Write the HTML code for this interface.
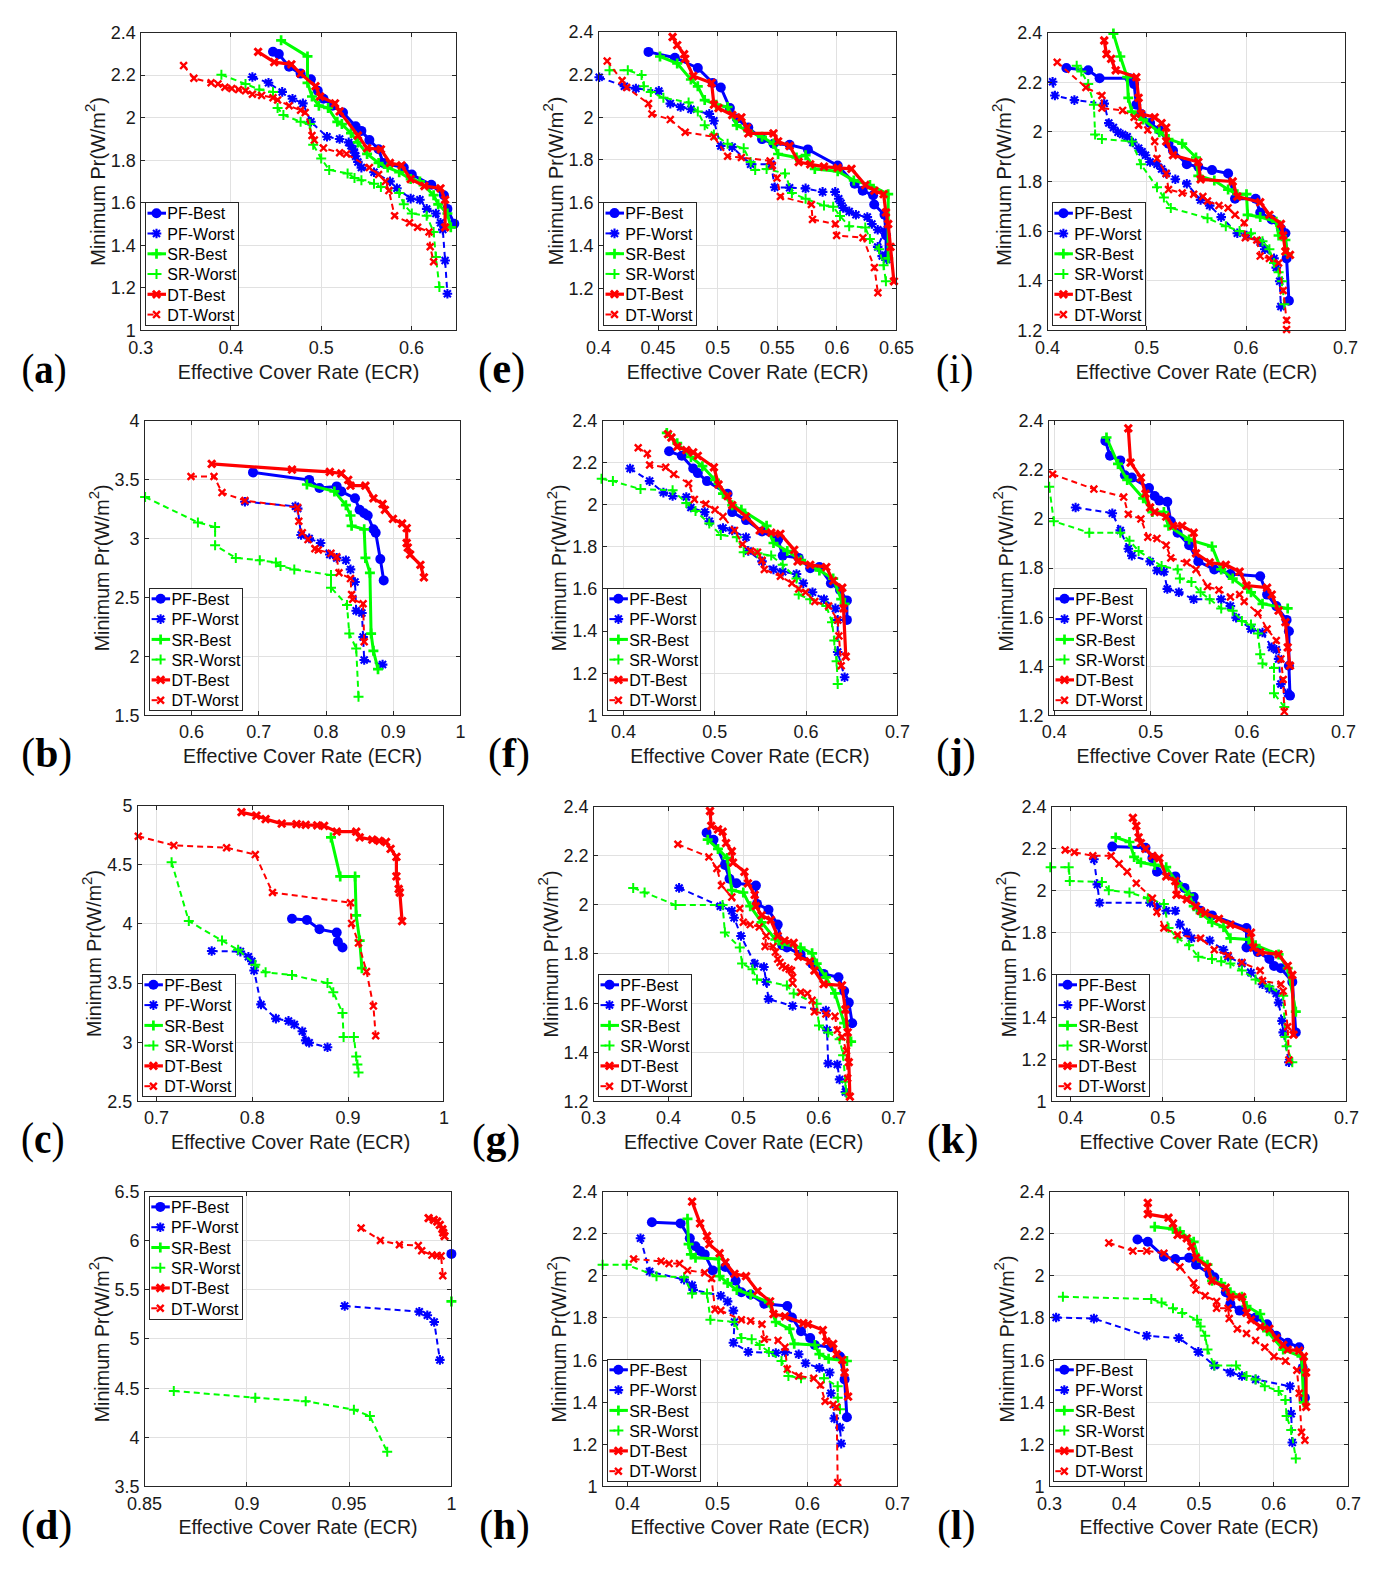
<!DOCTYPE html><html><head><meta charset="utf-8"><style>html,body{margin:0;padding:0;background:#fff;overflow:hidden}svg{display:block}</style></head><body>
<svg width="1395" height="1571" viewBox="0 0 1395 1571" font-family="'Liberation Sans', sans-serif">
<rect width="1395" height="1571" fill="#fff"/>
<path d="M230.5 33V330M321.5 33V330M411.5 33V330M141 287.5H456M141 245.5H456M141 202.5H456M141 160.5H456M141 117.5H456M141 75.5H456" stroke="#e1e1e1" stroke-width="1" fill="none"/>
<clipPath id="clipa"><rect x="134.7" y="26.5" width="327.8" height="309.8"/></clipPath>
<g clip-path="url(#clipa)">
<path d="M273.0 51.8L278.8 54.1L289.1 66.7L300.6 73.6L310.9 79.3L317.8 90.8L323.5 98.8L332.7 105.7L343.0 112.6L355.6 126.3L361.4 130.9L369.4 140.1L378.6 149.3L383.2 163.0L403.8 167.6L411.8 174.5L431.3 184.8L443.9 195.2L447.4 208.9L454.3 223.8" stroke="#0000ff" stroke-width="3.0" fill="none" stroke-linejoin="round"/>
<circle cx="273.0" cy="51.8" r="5" fill="#0000ff"/>
<circle cx="278.8" cy="54.1" r="5" fill="#0000ff"/>
<circle cx="289.1" cy="66.7" r="5" fill="#0000ff"/>
<circle cx="300.6" cy="73.6" r="5" fill="#0000ff"/>
<circle cx="310.9" cy="79.3" r="5" fill="#0000ff"/>
<circle cx="317.8" cy="90.8" r="5" fill="#0000ff"/>
<circle cx="323.5" cy="98.8" r="5" fill="#0000ff"/>
<circle cx="332.7" cy="105.7" r="5" fill="#0000ff"/>
<circle cx="343.0" cy="112.6" r="5" fill="#0000ff"/>
<circle cx="355.6" cy="126.3" r="5" fill="#0000ff"/>
<circle cx="361.4" cy="130.9" r="5" fill="#0000ff"/>
<circle cx="369.4" cy="140.1" r="5" fill="#0000ff"/>
<circle cx="378.6" cy="149.3" r="5" fill="#0000ff"/>
<circle cx="383.2" cy="163.0" r="5" fill="#0000ff"/>
<circle cx="403.8" cy="167.6" r="5" fill="#0000ff"/>
<circle cx="411.8" cy="174.5" r="5" fill="#0000ff"/>
<circle cx="431.3" cy="184.8" r="5" fill="#0000ff"/>
<circle cx="443.9" cy="195.2" r="5" fill="#0000ff"/>
<circle cx="447.4" cy="208.9" r="5" fill="#0000ff"/>
<circle cx="454.3" cy="223.8" r="5" fill="#0000ff"/>
<path d="M252.4 77.0L268.5 82.8L282.2 91.9L292.5 98.8L302.9 103.4L310.9 121.8L327.0 136.7L339.6 139.0L348.7 142.4L351.0 145.8L353.3 149.3L354.5 152.7L355.6 156.2L357.9 161.9L361.4 167.6L374.0 172.2L390.0 181.4L396.9 188.3L410.7 198.6L419.9 199.7L426.7 208.9L435.9 213.5L440.5 222.7L442.8 229.6L445.1 260.5L447.4 293.8" stroke="#0000ff" stroke-width="2.0" fill="none" stroke-linejoin="round" stroke-dasharray="6,4"/>
<path d="M247.6 77.0H257.2M252.4 72.2V81.8M248.9 73.5L255.9 80.5M248.9 80.5L255.9 73.5" stroke="#0000ff" stroke-width="2.1" fill="none"/><circle cx="252.4" cy="77.0" r="2.6" fill="#0000ff"/>
<path d="M263.7 82.8H273.3M268.5 78.0V87.6M265.0 79.3L272.0 86.3M265.0 86.3L272.0 79.3" stroke="#0000ff" stroke-width="2.1" fill="none"/><circle cx="268.5" cy="82.8" r="2.6" fill="#0000ff"/>
<path d="M277.4 91.9H287.0M282.2 87.1V96.7M278.7 88.4L285.7 95.4M278.7 95.4L285.7 88.4" stroke="#0000ff" stroke-width="2.1" fill="none"/><circle cx="282.2" cy="91.9" r="2.6" fill="#0000ff"/>
<path d="M287.7 98.8H297.3M292.5 94.0V103.6M289.0 95.3L296.0 102.3M289.0 102.3L296.0 95.3" stroke="#0000ff" stroke-width="2.1" fill="none"/><circle cx="292.5" cy="98.8" r="2.6" fill="#0000ff"/>
<path d="M298.1 103.4H307.7M302.9 98.6V108.2M299.4 99.9L306.4 106.9M299.4 106.9L306.4 99.9" stroke="#0000ff" stroke-width="2.1" fill="none"/><circle cx="302.9" cy="103.4" r="2.6" fill="#0000ff"/>
<path d="M306.1 121.8H315.7M310.9 117.0V126.6M307.4 118.3L314.4 125.3M307.4 125.3L314.4 118.3" stroke="#0000ff" stroke-width="2.1" fill="none"/><circle cx="310.9" cy="121.8" r="2.6" fill="#0000ff"/>
<path d="M322.2 136.7H331.8M327.0 131.9V141.5M323.5 133.2L330.5 140.2M323.5 140.2L330.5 133.2" stroke="#0000ff" stroke-width="2.1" fill="none"/><circle cx="327.0" cy="136.7" r="2.6" fill="#0000ff"/>
<path d="M334.8 139.0H344.4M339.6 134.2V143.8M336.1 135.5L343.1 142.5M336.1 142.5L343.1 135.5" stroke="#0000ff" stroke-width="2.1" fill="none"/><circle cx="339.6" cy="139.0" r="2.6" fill="#0000ff"/>
<path d="M343.9 142.4H353.5M348.7 137.6V147.2M345.2 138.9L352.2 145.9M345.2 145.9L352.2 138.9" stroke="#0000ff" stroke-width="2.1" fill="none"/><circle cx="348.7" cy="142.4" r="2.6" fill="#0000ff"/>
<path d="M346.2 145.8H355.8M351.0 141.0V150.6M347.5 142.3L354.5 149.3M347.5 149.3L354.5 142.3" stroke="#0000ff" stroke-width="2.1" fill="none"/><circle cx="351.0" cy="145.8" r="2.6" fill="#0000ff"/>
<path d="M348.5 149.3H358.1M353.3 144.5V154.1M349.8 145.8L356.8 152.8M349.8 152.8L356.8 145.8" stroke="#0000ff" stroke-width="2.1" fill="none"/><circle cx="353.3" cy="149.3" r="2.6" fill="#0000ff"/>
<path d="M349.7 152.7H359.3M354.5 147.9V157.5M351.0 149.2L358.0 156.2M351.0 156.2L358.0 149.2" stroke="#0000ff" stroke-width="2.1" fill="none"/><circle cx="354.5" cy="152.7" r="2.6" fill="#0000ff"/>
<path d="M350.8 156.2H360.4M355.6 151.4V161.0M352.1 152.7L359.1 159.7M352.1 159.7L359.1 152.7" stroke="#0000ff" stroke-width="2.1" fill="none"/><circle cx="355.6" cy="156.2" r="2.6" fill="#0000ff"/>
<path d="M353.1 161.9H362.7M357.9 157.1V166.7M354.4 158.4L361.4 165.4M354.4 165.4L361.4 158.4" stroke="#0000ff" stroke-width="2.1" fill="none"/><circle cx="357.9" cy="161.9" r="2.6" fill="#0000ff"/>
<path d="M356.6 167.6H366.2M361.4 162.8V172.4M357.9 164.1L364.9 171.1M357.9 171.1L364.9 164.1" stroke="#0000ff" stroke-width="2.1" fill="none"/><circle cx="361.4" cy="167.6" r="2.6" fill="#0000ff"/>
<path d="M369.2 172.2H378.8M374.0 167.4V177.0M370.5 168.7L377.5 175.7M370.5 175.7L377.5 168.7" stroke="#0000ff" stroke-width="2.1" fill="none"/><circle cx="374.0" cy="172.2" r="2.6" fill="#0000ff"/>
<path d="M385.2 181.4H394.8M390.0 176.6V186.2M386.5 177.9L393.5 184.9M386.5 184.9L393.5 177.9" stroke="#0000ff" stroke-width="2.1" fill="none"/><circle cx="390.0" cy="181.4" r="2.6" fill="#0000ff"/>
<path d="M392.1 188.3H401.7M396.9 183.5V193.1M393.4 184.8L400.4 191.8M393.4 191.8L400.4 184.8" stroke="#0000ff" stroke-width="2.1" fill="none"/><circle cx="396.9" cy="188.3" r="2.6" fill="#0000ff"/>
<path d="M405.9 198.6H415.5M410.7 193.8V203.4M407.2 195.1L414.2 202.1M407.2 202.1L414.2 195.1" stroke="#0000ff" stroke-width="2.1" fill="none"/><circle cx="410.7" cy="198.6" r="2.6" fill="#0000ff"/>
<path d="M415.1 199.7H424.7M419.9 194.9V204.5M416.4 196.2L423.4 203.2M416.4 203.2L423.4 196.2" stroke="#0000ff" stroke-width="2.1" fill="none"/><circle cx="419.9" cy="199.7" r="2.6" fill="#0000ff"/>
<path d="M421.9 208.9H431.5M426.7 204.1V213.7M423.2 205.4L430.2 212.4M423.2 212.4L430.2 205.4" stroke="#0000ff" stroke-width="2.1" fill="none"/><circle cx="426.7" cy="208.9" r="2.6" fill="#0000ff"/>
<path d="M431.1 213.5H440.7M435.9 208.7V218.3M432.4 210.0L439.4 217.0M432.4 217.0L439.4 210.0" stroke="#0000ff" stroke-width="2.1" fill="none"/><circle cx="435.9" cy="213.5" r="2.6" fill="#0000ff"/>
<path d="M435.7 222.7H445.3M440.5 217.9V227.5M437.0 219.2L444.0 226.2M437.0 226.2L444.0 219.2" stroke="#0000ff" stroke-width="2.1" fill="none"/><circle cx="440.5" cy="222.7" r="2.6" fill="#0000ff"/>
<path d="M438.0 229.6H447.6M442.8 224.8V234.4M439.3 226.1L446.3 233.1M439.3 233.1L446.3 226.1" stroke="#0000ff" stroke-width="2.1" fill="none"/><circle cx="442.8" cy="229.6" r="2.6" fill="#0000ff"/>
<path d="M440.3 260.5H449.9M445.1 255.7V265.3M441.6 257.0L448.6 264.0M441.6 264.0L448.6 257.0" stroke="#0000ff" stroke-width="2.1" fill="none"/><circle cx="445.1" cy="260.5" r="2.6" fill="#0000ff"/>
<path d="M442.6 293.8H452.2M447.4 289.0V298.6M443.9 290.3L450.9 297.3M443.9 297.3L450.9 290.3" stroke="#0000ff" stroke-width="2.1" fill="none"/><circle cx="447.4" cy="293.8" r="2.6" fill="#0000ff"/>
<path d="M281.1 40.3L307.5 56.4L307.5 82.8L312.0 96.5L318.9 105.7L328.1 108.0L337.3 121.8L341.9 124.1L351.0 133.2L357.9 142.4L367.1 153.9L378.6 163.0L387.7 167.6L399.2 172.2L410.7 179.1L419.9 181.4L433.6 195.2L438.2 204.3L447.4 213.5L450.8 227.3" stroke="#00ff00" stroke-width="3.0" fill="none" stroke-linejoin="round"/>
<path d="M276.1 40.3H286.1M281.1 35.3V45.3" stroke="#00ff00" stroke-width="2.7" fill="none"/>
<path d="M302.5 56.4H312.5M307.5 51.4V61.4" stroke="#00ff00" stroke-width="2.7" fill="none"/>
<path d="M302.5 82.8H312.5M307.5 77.8V87.8" stroke="#00ff00" stroke-width="2.7" fill="none"/>
<path d="M307.0 96.5H317.0M312.0 91.5V101.5" stroke="#00ff00" stroke-width="2.7" fill="none"/>
<path d="M313.9 105.7H323.9M318.9 100.7V110.7" stroke="#00ff00" stroke-width="2.7" fill="none"/>
<path d="M323.1 108.0H333.1M328.1 103.0V113.0" stroke="#00ff00" stroke-width="2.7" fill="none"/>
<path d="M332.3 121.8H342.3M337.3 116.8V126.8" stroke="#00ff00" stroke-width="2.7" fill="none"/>
<path d="M336.9 124.1H346.9M341.9 119.1V129.1" stroke="#00ff00" stroke-width="2.7" fill="none"/>
<path d="M346.0 133.2H356.0M351.0 128.2V138.2" stroke="#00ff00" stroke-width="2.7" fill="none"/>
<path d="M352.9 142.4H362.9M357.9 137.4V147.4" stroke="#00ff00" stroke-width="2.7" fill="none"/>
<path d="M362.1 153.9H372.1M367.1 148.9V158.9" stroke="#00ff00" stroke-width="2.7" fill="none"/>
<path d="M373.6 163.0H383.6M378.6 158.0V168.0" stroke="#00ff00" stroke-width="2.7" fill="none"/>
<path d="M382.7 167.6H392.7M387.7 162.6V172.6" stroke="#00ff00" stroke-width="2.7" fill="none"/>
<path d="M394.2 172.2H404.2M399.2 167.2V177.2" stroke="#00ff00" stroke-width="2.7" fill="none"/>
<path d="M405.7 179.1H415.7M410.7 174.1V184.1" stroke="#00ff00" stroke-width="2.7" fill="none"/>
<path d="M414.9 181.4H424.9M419.9 176.4V186.4" stroke="#00ff00" stroke-width="2.7" fill="none"/>
<path d="M428.6 195.2H438.6M433.6 190.2V200.2" stroke="#00ff00" stroke-width="2.7" fill="none"/>
<path d="M433.2 204.3H443.2M438.2 199.3V209.3" stroke="#00ff00" stroke-width="2.7" fill="none"/>
<path d="M442.4 213.5H452.4M447.4 208.5V218.5" stroke="#00ff00" stroke-width="2.7" fill="none"/>
<path d="M445.8 227.3H455.8M450.8 222.3V232.3" stroke="#00ff00" stroke-width="2.7" fill="none"/>
<path d="M221.4 74.7L245.5 83.9L259.3 89.6L273.0 91.9L277.6 108.0L283.4 114.9L300.6 121.8L309.7 124.1L313.2 144.7L321.2 158.5L329.2 169.9L347.6 173.4L354.5 178.0L361.4 180.3L374.0 183.7L380.9 187.1L399.2 192.9L403.8 204.3L411.8 213.5L426.7 215.8L433.6 231.9L435.9 257.1L439.4 286.9" stroke="#00ff00" stroke-width="2.0" fill="none" stroke-linejoin="round" stroke-dasharray="6,4"/>
<path d="M216.4 74.7H226.4M221.4 69.7V79.7" stroke="#00ff00" stroke-width="2.0" fill="none"/>
<path d="M240.5 83.9H250.5M245.5 78.9V88.9" stroke="#00ff00" stroke-width="2.0" fill="none"/>
<path d="M254.3 89.6H264.3M259.3 84.6V94.6" stroke="#00ff00" stroke-width="2.0" fill="none"/>
<path d="M268.0 91.9H278.0M273.0 86.9V96.9" stroke="#00ff00" stroke-width="2.0" fill="none"/>
<path d="M272.6 108.0H282.6M277.6 103.0V113.0" stroke="#00ff00" stroke-width="2.0" fill="none"/>
<path d="M278.4 114.9H288.4M283.4 109.9V119.9" stroke="#00ff00" stroke-width="2.0" fill="none"/>
<path d="M295.6 121.8H305.6M300.6 116.8V126.8" stroke="#00ff00" stroke-width="2.0" fill="none"/>
<path d="M304.7 124.1H314.7M309.7 119.1V129.1" stroke="#00ff00" stroke-width="2.0" fill="none"/>
<path d="M308.2 144.7H318.2M313.2 139.7V149.7" stroke="#00ff00" stroke-width="2.0" fill="none"/>
<path d="M316.2 158.5H326.2M321.2 153.5V163.5" stroke="#00ff00" stroke-width="2.0" fill="none"/>
<path d="M324.2 169.9H334.2M329.2 164.9V174.9" stroke="#00ff00" stroke-width="2.0" fill="none"/>
<path d="M342.6 173.4H352.6M347.6 168.4V178.4" stroke="#00ff00" stroke-width="2.0" fill="none"/>
<path d="M349.5 178.0H359.5M354.5 173.0V183.0" stroke="#00ff00" stroke-width="2.0" fill="none"/>
<path d="M356.4 180.3H366.4M361.4 175.3V185.3" stroke="#00ff00" stroke-width="2.0" fill="none"/>
<path d="M369.0 183.7H379.0M374.0 178.7V188.7" stroke="#00ff00" stroke-width="2.0" fill="none"/>
<path d="M375.9 187.1H385.9M380.9 182.1V192.1" stroke="#00ff00" stroke-width="2.0" fill="none"/>
<path d="M394.2 192.9H404.2M399.2 187.9V197.9" stroke="#00ff00" stroke-width="2.0" fill="none"/>
<path d="M398.8 204.3H408.8M403.8 199.3V209.3" stroke="#00ff00" stroke-width="2.0" fill="none"/>
<path d="M406.8 213.5H416.8M411.8 208.5V218.5" stroke="#00ff00" stroke-width="2.0" fill="none"/>
<path d="M421.7 215.8H431.7M426.7 210.8V220.8" stroke="#00ff00" stroke-width="2.0" fill="none"/>
<path d="M428.6 231.9H438.6M433.6 226.9V236.9" stroke="#00ff00" stroke-width="2.0" fill="none"/>
<path d="M430.9 257.1H440.9M435.9 252.1V262.1" stroke="#00ff00" stroke-width="2.0" fill="none"/>
<path d="M434.4 286.9H444.4M439.4 281.9V291.9" stroke="#00ff00" stroke-width="2.0" fill="none"/>
<path d="M258.1 51.8L274.2 62.1L291.4 64.4L300.6 73.6L315.5 86.2L320.1 96.5L335.0 103.4L339.6 111.4L357.9 135.5L367.1 148.1L380.9 149.3L390.0 163.0L401.5 165.3L410.7 179.1L424.4 186.0L440.5 188.3L445.1 199.7L445.1 227.3" stroke="#ff0000" stroke-width="3.2" fill="none" stroke-linejoin="round"/>
<path d="M254.5 48.2L261.7 55.4M254.5 55.4L261.7 48.2" stroke="#ff0000" stroke-width="3.0" fill="none"/>
<path d="M270.6 58.5L277.8 65.7M270.6 65.7L277.8 58.5" stroke="#ff0000" stroke-width="3.0" fill="none"/>
<path d="M287.8 60.8L295.0 68.0M287.8 68.0L295.0 60.8" stroke="#ff0000" stroke-width="3.0" fill="none"/>
<path d="M297.0 70.0L304.2 77.2M297.0 77.2L304.2 70.0" stroke="#ff0000" stroke-width="3.0" fill="none"/>
<path d="M311.9 82.6L319.1 89.8M311.9 89.8L319.1 82.6" stroke="#ff0000" stroke-width="3.0" fill="none"/>
<path d="M316.5 92.9L323.7 100.1M316.5 100.1L323.7 92.9" stroke="#ff0000" stroke-width="3.0" fill="none"/>
<path d="M331.4 99.8L338.6 107.0M331.4 107.0L338.6 99.8" stroke="#ff0000" stroke-width="3.0" fill="none"/>
<path d="M336.0 107.8L343.2 115.0M336.0 115.0L343.2 107.8" stroke="#ff0000" stroke-width="3.0" fill="none"/>
<path d="M354.3 131.9L361.5 139.1M354.3 139.1L361.5 131.9" stroke="#ff0000" stroke-width="3.0" fill="none"/>
<path d="M363.5 144.5L370.7 151.7M363.5 151.7L370.7 144.5" stroke="#ff0000" stroke-width="3.0" fill="none"/>
<path d="M377.3 145.7L384.5 152.9M377.3 152.9L384.5 145.7" stroke="#ff0000" stroke-width="3.0" fill="none"/>
<path d="M386.4 159.4L393.6 166.6M386.4 166.6L393.6 159.4" stroke="#ff0000" stroke-width="3.0" fill="none"/>
<path d="M397.9 161.7L405.1 168.9M397.9 168.9L405.1 161.7" stroke="#ff0000" stroke-width="3.0" fill="none"/>
<path d="M407.1 175.5L414.3 182.7M407.1 182.7L414.3 175.5" stroke="#ff0000" stroke-width="3.0" fill="none"/>
<path d="M420.8 182.4L428.0 189.6M420.8 189.6L428.0 182.4" stroke="#ff0000" stroke-width="3.0" fill="none"/>
<path d="M436.9 184.7L444.1 191.9M436.9 191.9L444.1 184.7" stroke="#ff0000" stroke-width="3.0" fill="none"/>
<path d="M441.5 196.1L448.7 203.3M441.5 203.3L448.7 196.1" stroke="#ff0000" stroke-width="3.0" fill="none"/>
<path d="M441.5 223.7L448.7 230.9M441.5 230.9L448.7 223.7" stroke="#ff0000" stroke-width="3.0" fill="none"/>
<path d="M183.6 65.6L193.9 78.2L211.1 82.8L218.0 83.9L224.9 87.3L231.8 88.5L238.6 89.6L245.5 90.8L252.4 94.2L261.6 95.4L273.0 97.7L277.6 100.0L289.1 105.7L300.6 110.3L305.2 112.6L312.0 135.5L314.3 140.1L323.5 148.1L339.6 152.7L346.5 153.9L369.4 167.6L378.6 174.5L385.4 181.4L388.9 190.6L394.6 215.8L409.5 222.7L417.6 227.3L429.0 231.9L430.2 246.8L433.6 261.7" stroke="#ff0000" stroke-width="2.0" fill="none" stroke-linejoin="round" stroke-dasharray="6,4"/>
<path d="M180.2 62.2L187.0 69.0M180.2 69.0L187.0 62.2" stroke="#ff0000" stroke-width="2.4" fill="none"/>
<path d="M190.5 74.8L197.3 81.6M190.5 81.6L197.3 74.8" stroke="#ff0000" stroke-width="2.4" fill="none"/>
<path d="M207.7 79.4L214.5 86.2M207.7 86.2L214.5 79.4" stroke="#ff0000" stroke-width="2.4" fill="none"/>
<path d="M214.6 80.5L221.4 87.3M214.6 87.3L221.4 80.5" stroke="#ff0000" stroke-width="2.4" fill="none"/>
<path d="M221.5 83.9L228.3 90.7M221.5 90.7L228.3 83.9" stroke="#ff0000" stroke-width="2.4" fill="none"/>
<path d="M228.4 85.1L235.2 91.9M228.4 91.9L235.2 85.1" stroke="#ff0000" stroke-width="2.4" fill="none"/>
<path d="M235.2 86.2L242.0 93.0M235.2 93.0L242.0 86.2" stroke="#ff0000" stroke-width="2.4" fill="none"/>
<path d="M242.1 87.4L248.9 94.2M242.1 94.2L248.9 87.4" stroke="#ff0000" stroke-width="2.4" fill="none"/>
<path d="M249.0 90.8L255.8 97.6M249.0 97.6L255.8 90.8" stroke="#ff0000" stroke-width="2.4" fill="none"/>
<path d="M258.2 92.0L265.0 98.8M258.2 98.8L265.0 92.0" stroke="#ff0000" stroke-width="2.4" fill="none"/>
<path d="M269.6 94.3L276.4 101.1M269.6 101.1L276.4 94.3" stroke="#ff0000" stroke-width="2.4" fill="none"/>
<path d="M274.2 96.6L281.0 103.4M274.2 103.4L281.0 96.6" stroke="#ff0000" stroke-width="2.4" fill="none"/>
<path d="M285.7 102.3L292.5 109.1M285.7 109.1L292.5 102.3" stroke="#ff0000" stroke-width="2.4" fill="none"/>
<path d="M297.2 106.9L304.0 113.7M297.2 113.7L304.0 106.9" stroke="#ff0000" stroke-width="2.4" fill="none"/>
<path d="M301.8 109.2L308.6 116.0M301.8 116.0L308.6 109.2" stroke="#ff0000" stroke-width="2.4" fill="none"/>
<path d="M308.6 132.1L315.4 138.9M308.6 138.9L315.4 132.1" stroke="#ff0000" stroke-width="2.4" fill="none"/>
<path d="M310.9 136.7L317.7 143.5M310.9 143.5L317.7 136.7" stroke="#ff0000" stroke-width="2.4" fill="none"/>
<path d="M320.1 144.7L326.9 151.5M320.1 151.5L326.9 144.7" stroke="#ff0000" stroke-width="2.4" fill="none"/>
<path d="M336.2 149.3L343.0 156.1M336.2 156.1L343.0 149.3" stroke="#ff0000" stroke-width="2.4" fill="none"/>
<path d="M343.1 150.5L349.9 157.3M343.1 157.3L349.9 150.5" stroke="#ff0000" stroke-width="2.4" fill="none"/>
<path d="M366.0 164.2L372.8 171.0M366.0 171.0L372.8 164.2" stroke="#ff0000" stroke-width="2.4" fill="none"/>
<path d="M375.2 171.1L382.0 177.9M375.2 177.9L382.0 171.1" stroke="#ff0000" stroke-width="2.4" fill="none"/>
<path d="M382.0 178.0L388.8 184.8M382.0 184.8L388.8 178.0" stroke="#ff0000" stroke-width="2.4" fill="none"/>
<path d="M385.5 187.2L392.3 194.0M385.5 194.0L392.3 187.2" stroke="#ff0000" stroke-width="2.4" fill="none"/>
<path d="M391.2 212.4L398.0 219.2M391.2 219.2L398.0 212.4" stroke="#ff0000" stroke-width="2.4" fill="none"/>
<path d="M406.1 219.3L412.9 226.1M406.1 226.1L412.9 219.3" stroke="#ff0000" stroke-width="2.4" fill="none"/>
<path d="M414.2 223.9L421.0 230.7M414.2 230.7L421.0 223.9" stroke="#ff0000" stroke-width="2.4" fill="none"/>
<path d="M425.6 228.5L432.4 235.3M425.6 235.3L432.4 228.5" stroke="#ff0000" stroke-width="2.4" fill="none"/>
<path d="M426.8 243.4L433.6 250.2M426.8 250.2L433.6 243.4" stroke="#ff0000" stroke-width="2.4" fill="none"/>
<path d="M430.2 258.3L437.0 265.1M430.2 265.1L437.0 258.3" stroke="#ff0000" stroke-width="2.4" fill="none"/>
</g>
<path d="M140.5 330V326M140.5 33V37M230.5 330V326M230.5 33V37M321.5 330V326M321.5 33V37M411.5 330V326M411.5 33V37M141 330.5H145M456 330.5H452M141 287.5H145M456 287.5H452M141 245.5H145M456 245.5H452M141 202.5H145M456 202.5H452M141 160.5H145M456 160.5H452M141 117.5H145M456 117.5H452M141 75.5H145M456 75.5H452M141 32.5H145M456 32.5H452" stroke="#262626" stroke-width="1" fill="none"/>
<rect x="140.5" y="32.5" width="316" height="298" stroke="#262626" stroke-width="1" fill="none"/>
<text x="140.7" y="354.0" text-anchor="middle" font-size="18" fill="#1a1a1a">0.3</text>
<text x="230.9" y="354.0" text-anchor="middle" font-size="18" fill="#1a1a1a">0.4</text>
<text x="321.2" y="354.0" text-anchor="middle" font-size="18" fill="#1a1a1a">0.5</text>
<text x="411.4" y="354.0" text-anchor="middle" font-size="18" fill="#1a1a1a">0.6</text>
<text x="135.7" y="336.7" text-anchor="end" font-size="18" fill="#1a1a1a">1</text>
<text x="135.7" y="294.2" text-anchor="end" font-size="18" fill="#1a1a1a">1.2</text>
<text x="135.7" y="251.6" text-anchor="end" font-size="18" fill="#1a1a1a">1.4</text>
<text x="135.7" y="209.1" text-anchor="end" font-size="18" fill="#1a1a1a">1.6</text>
<text x="135.7" y="166.5" text-anchor="end" font-size="18" fill="#1a1a1a">1.8</text>
<text x="135.7" y="124.0" text-anchor="end" font-size="18" fill="#1a1a1a">2</text>
<text x="135.7" y="81.4" text-anchor="end" font-size="18" fill="#1a1a1a">2.2</text>
<text x="135.7" y="38.9" text-anchor="end" font-size="18" fill="#1a1a1a">2.4</text>
<text x="298.6" y="378.8" text-anchor="middle" font-size="19.8" fill="#1a1a1a">Effective Cover Rate (ECR)</text>
<text transform="translate(104.7,181.4) rotate(-90)" text-anchor="middle" font-size="19.9" fill="#1a1a1a">Minimum Pr(W/m<tspan font-size="15" dy="-9.5">2</tspan><tspan dy="9.5">)</tspan></text>
<rect x="145.5" y="202.5" width="93" height="123" fill="#fff" stroke="#262626" stroke-width="1"/>
<path d="M147.5 213.2H166.0" stroke="#0000ff" stroke-width="3.0"/>
<circle cx="156.5" cy="213.2" r="5" fill="#0000ff"/>
<text x="167.3" y="219.4" font-size="16" fill="#000">PF-Best</text>
<path d="M147.5 233.5H153.5" stroke="#0000ff" stroke-width="2.0"/>
<path d="M151.7 233.5H161.3M156.5 228.7V238.3M153.0 230.0L160.0 237.0M153.0 237.0L160.0 230.0" stroke="#0000ff" stroke-width="2.1" fill="none"/><circle cx="156.5" cy="233.5" r="2.6" fill="#0000ff"/>
<text x="167.3" y="239.7" font-size="16" fill="#000">PF-Worst</text>
<path d="M147.5 253.8H166.0" stroke="#00ff00" stroke-width="3.0"/>
<path d="M151.5 253.8H161.5M156.5 248.8V258.8" stroke="#00ff00" stroke-width="2.7" fill="none"/>
<text x="167.3" y="260.0" font-size="16" fill="#000">SR-Best</text>
<path d="M147.5 274.0H153.5" stroke="#00ff00" stroke-width="2.0"/>
<path d="M151.5 274.0H161.5M156.5 269.0V279.0" stroke="#00ff00" stroke-width="2.0" fill="none"/>
<text x="167.3" y="280.2" font-size="16" fill="#000">SR-Worst</text>
<path d="M147.5 294.3H166.0" stroke="#ff0000" stroke-width="3.2"/>
<path d="M152.9 290.7L160.1 297.9M152.9 297.9L160.1 290.7" stroke="#ff0000" stroke-width="3.0" fill="none"/>
<text x="167.3" y="300.5" font-size="16" fill="#000">DT-Best</text>
<path d="M147.5 314.6H153.5" stroke="#ff0000" stroke-width="2.0"/>
<path d="M153.1 311.2L159.9 318.0M153.1 318.0L159.9 311.2" stroke="#ff0000" stroke-width="2.4" fill="none"/>
<text x="167.3" y="320.8" font-size="16" fill="#000">DT-Worst</text>
<text transform="translate(21.44,382.96) scale(0.8792,0.9600)" font-family="'Liberation Serif', serif" font-size="44" fill="#000"><tspan>(</tspan><tspan font-weight="bold">a</tspan><tspan>)</tspan></text>
<path d="M191.5 421V715M258.5 421V715M326.5 421V715M393.5 421V715M145 656.5H460M145 597.5H460M145 538.5H460M145 479.5H460" stroke="#e1e1e1" stroke-width="1" fill="none"/>
<clipPath id="clipb"><rect x="138.6" y="414.5" width="327.79999999999995" height="306.79999999999995"/></clipPath>
<g clip-path="url(#clipb)">
<path d="M253.0 472.4L309.2 479.9L319.5 488.0L336.7 486.4L341.3 491.4L355.0 498.3L359.6 509.8L364.2 513.2L367.7 515.5L373.4 529.3L375.7 532.7L380.3 559.1L383.7 580.4" stroke="#0000ff" stroke-width="3.0" fill="none" stroke-linejoin="round"/>
<circle cx="253.0" cy="472.4" r="5" fill="#0000ff"/>
<circle cx="309.2" cy="479.9" r="5" fill="#0000ff"/>
<circle cx="319.5" cy="488.0" r="5" fill="#0000ff"/>
<circle cx="336.7" cy="486.4" r="5" fill="#0000ff"/>
<circle cx="341.3" cy="491.4" r="5" fill="#0000ff"/>
<circle cx="355.0" cy="498.3" r="5" fill="#0000ff"/>
<circle cx="359.6" cy="509.8" r="5" fill="#0000ff"/>
<circle cx="364.2" cy="513.2" r="5" fill="#0000ff"/>
<circle cx="367.7" cy="515.5" r="5" fill="#0000ff"/>
<circle cx="373.4" cy="529.3" r="5" fill="#0000ff"/>
<circle cx="375.7" cy="532.7" r="5" fill="#0000ff"/>
<circle cx="380.3" cy="559.1" r="5" fill="#0000ff"/>
<circle cx="383.7" cy="580.4" r="5" fill="#0000ff"/>
<path d="M244.9 501.7L295.4 506.3L297.7 508.6L301.1 535.0L309.2 538.4L320.6 543.0L329.8 554.5L336.7 557.9L345.9 560.2L350.5 569.4L355.0 582.0L356.2 610.7L361.9 613.0L363.1 637.1L364.2 660.0L382.6 664.6" stroke="#0000ff" stroke-width="2.0" fill="none" stroke-linejoin="round" stroke-dasharray="6,4"/>
<path d="M240.1 501.7H249.7M244.9 496.9V506.5M241.4 498.2L248.4 505.2M241.4 505.2L248.4 498.2" stroke="#0000ff" stroke-width="2.1" fill="none"/><circle cx="244.9" cy="501.7" r="2.6" fill="#0000ff"/>
<path d="M290.6 506.3H300.2M295.4 501.5V511.1M291.9 502.8L298.9 509.8M291.9 509.8L298.9 502.8" stroke="#0000ff" stroke-width="2.1" fill="none"/><circle cx="295.4" cy="506.3" r="2.6" fill="#0000ff"/>
<path d="M292.9 508.6H302.5M297.7 503.8V513.4M294.2 505.1L301.2 512.1M294.2 512.1L301.2 505.1" stroke="#0000ff" stroke-width="2.1" fill="none"/><circle cx="297.7" cy="508.6" r="2.6" fill="#0000ff"/>
<path d="M296.3 535.0H305.9M301.1 530.2V539.8M297.6 531.5L304.6 538.5M297.6 538.5L304.6 531.5" stroke="#0000ff" stroke-width="2.1" fill="none"/><circle cx="301.1" cy="535.0" r="2.6" fill="#0000ff"/>
<path d="M304.4 538.4H314.0M309.2 533.6V543.2M305.7 534.9L312.7 541.9M305.7 541.9L312.7 534.9" stroke="#0000ff" stroke-width="2.1" fill="none"/><circle cx="309.2" cy="538.4" r="2.6" fill="#0000ff"/>
<path d="M315.8 543.0H325.4M320.6 538.2V547.8M317.1 539.5L324.1 546.5M317.1 546.5L324.1 539.5" stroke="#0000ff" stroke-width="2.1" fill="none"/><circle cx="320.6" cy="543.0" r="2.6" fill="#0000ff"/>
<path d="M325.0 554.5H334.6M329.8 549.7V559.3M326.3 551.0L333.3 558.0M326.3 558.0L333.3 551.0" stroke="#0000ff" stroke-width="2.1" fill="none"/><circle cx="329.8" cy="554.5" r="2.6" fill="#0000ff"/>
<path d="M331.9 557.9H341.5M336.7 553.1V562.7M333.2 554.4L340.2 561.4M333.2 561.4L340.2 554.4" stroke="#0000ff" stroke-width="2.1" fill="none"/><circle cx="336.7" cy="557.9" r="2.6" fill="#0000ff"/>
<path d="M341.1 560.2H350.7M345.9 555.4V565.0M342.4 556.7L349.4 563.7M342.4 563.7L349.4 556.7" stroke="#0000ff" stroke-width="2.1" fill="none"/><circle cx="345.9" cy="560.2" r="2.6" fill="#0000ff"/>
<path d="M345.7 569.4H355.3M350.5 564.6V574.2M347.0 565.9L354.0 572.9M347.0 572.9L354.0 565.9" stroke="#0000ff" stroke-width="2.1" fill="none"/><circle cx="350.5" cy="569.4" r="2.6" fill="#0000ff"/>
<path d="M350.2 582.0H359.8M355.0 577.2V586.8M351.5 578.5L358.5 585.5M351.5 585.5L358.5 578.5" stroke="#0000ff" stroke-width="2.1" fill="none"/><circle cx="355.0" cy="582.0" r="2.6" fill="#0000ff"/>
<path d="M351.4 610.7H361.0M356.2 605.9V615.5M352.7 607.2L359.7 614.2M352.7 614.2L359.7 607.2" stroke="#0000ff" stroke-width="2.1" fill="none"/><circle cx="356.2" cy="610.7" r="2.6" fill="#0000ff"/>
<path d="M357.1 613.0H366.7M361.9 608.2V617.8M358.4 609.5L365.4 616.5M358.4 616.5L365.4 609.5" stroke="#0000ff" stroke-width="2.1" fill="none"/><circle cx="361.9" cy="613.0" r="2.6" fill="#0000ff"/>
<path d="M358.3 637.1H367.9M363.1 632.3V641.9M359.6 633.6L366.6 640.6M359.6 640.6L366.6 633.6" stroke="#0000ff" stroke-width="2.1" fill="none"/><circle cx="363.1" cy="637.1" r="2.6" fill="#0000ff"/>
<path d="M359.4 660.0H369.0M364.2 655.2V664.8M360.7 656.5L367.7 663.5M360.7 663.5L367.7 656.5" stroke="#0000ff" stroke-width="2.1" fill="none"/><circle cx="364.2" cy="660.0" r="2.6" fill="#0000ff"/>
<path d="M377.8 664.6H387.4M382.6 659.8V669.4M379.1 661.1L386.1 668.1M379.1 668.1L386.1 661.1" stroke="#0000ff" stroke-width="2.1" fill="none"/><circle cx="382.6" cy="664.6" r="2.6" fill="#0000ff"/>
<path d="M306.9 484.5L334.4 491.4L345.9 505.2L350.5 515.5L351.6 525.8L364.2 529.3L365.4 557.9L369.9 572.8L371.1 633.6L373.4 650.8L378.0 669.2" stroke="#00ff00" stroke-width="3.0" fill="none" stroke-linejoin="round"/>
<path d="M301.9 484.5H311.9M306.9 479.5V489.5" stroke="#00ff00" stroke-width="2.7" fill="none"/>
<path d="M329.4 491.4H339.4M334.4 486.4V496.4" stroke="#00ff00" stroke-width="2.7" fill="none"/>
<path d="M340.9 505.2H350.9M345.9 500.2V510.2" stroke="#00ff00" stroke-width="2.7" fill="none"/>
<path d="M345.5 515.5H355.5M350.5 510.5V520.5" stroke="#00ff00" stroke-width="2.7" fill="none"/>
<path d="M346.6 525.8H356.6M351.6 520.8V530.8" stroke="#00ff00" stroke-width="2.7" fill="none"/>
<path d="M359.2 529.3H369.2M364.2 524.3V534.3" stroke="#00ff00" stroke-width="2.7" fill="none"/>
<path d="M360.4 557.9H370.4M365.4 552.9V562.9" stroke="#00ff00" stroke-width="2.7" fill="none"/>
<path d="M364.9 572.8H374.9M369.9 567.8V577.8" stroke="#00ff00" stroke-width="2.7" fill="none"/>
<path d="M366.1 633.6H376.1M371.1 628.6V638.6" stroke="#00ff00" stroke-width="2.7" fill="none"/>
<path d="M368.4 650.8H378.4M373.4 645.8V655.8" stroke="#00ff00" stroke-width="2.7" fill="none"/>
<path d="M373.0 669.2H383.0M378.0 664.2V674.2" stroke="#00ff00" stroke-width="2.7" fill="none"/>
<path d="M145.1 497.1L197.9 522.4L215.1 527.0L215.1 545.3L235.8 557.9L259.8 560.2L275.9 562.5L280.5 566.0L294.3 569.4L331.0 575.1L331.0 587.7L347.0 605.0L349.3 633.6L356.2 648.5L358.5 696.7" stroke="#00ff00" stroke-width="2.0" fill="none" stroke-linejoin="round" stroke-dasharray="6,4"/>
<path d="M140.1 497.1H150.1M145.1 492.1V502.1" stroke="#00ff00" stroke-width="2.0" fill="none"/>
<path d="M192.9 522.4H202.9M197.9 517.4V527.4" stroke="#00ff00" stroke-width="2.0" fill="none"/>
<path d="M210.1 527.0H220.1M215.1 522.0V532.0" stroke="#00ff00" stroke-width="2.0" fill="none"/>
<path d="M210.1 545.3H220.1M215.1 540.3V550.3" stroke="#00ff00" stroke-width="2.0" fill="none"/>
<path d="M230.8 557.9H240.8M235.8 552.9V562.9" stroke="#00ff00" stroke-width="2.0" fill="none"/>
<path d="M254.8 560.2H264.8M259.8 555.2V565.2" stroke="#00ff00" stroke-width="2.0" fill="none"/>
<path d="M270.9 562.5H280.9M275.9 557.5V567.5" stroke="#00ff00" stroke-width="2.0" fill="none"/>
<path d="M275.5 566.0H285.5M280.5 561.0V571.0" stroke="#00ff00" stroke-width="2.0" fill="none"/>
<path d="M289.3 569.4H299.3M294.3 564.4V574.4" stroke="#00ff00" stroke-width="2.0" fill="none"/>
<path d="M326.0 575.1H336.0M331.0 570.1V580.1" stroke="#00ff00" stroke-width="2.0" fill="none"/>
<path d="M326.0 587.7H336.0M331.0 582.7V592.7" stroke="#00ff00" stroke-width="2.0" fill="none"/>
<path d="M342.0 605.0H352.0M347.0 600.0V610.0" stroke="#00ff00" stroke-width="2.0" fill="none"/>
<path d="M344.3 633.6H354.3M349.3 628.6V638.6" stroke="#00ff00" stroke-width="2.0" fill="none"/>
<path d="M351.2 648.5H361.2M356.2 643.5V653.5" stroke="#00ff00" stroke-width="2.0" fill="none"/>
<path d="M353.5 696.7H363.5M358.5 691.7V701.7" stroke="#00ff00" stroke-width="2.0" fill="none"/>
<path d="M211.7 463.9L292.0 469.6L329.8 471.9L341.3 473.5L348.2 479.9L350.5 485.7L365.4 485.7L373.4 498.3L382.6 504.0L384.9 509.8L392.9 518.9L402.1 523.5L406.7 528.1L406.7 543.0L407.8 547.6L410.1 554.5L420.4 564.8L423.9 577.4" stroke="#ff0000" stroke-width="3.2" fill="none" stroke-linejoin="round"/>
<path d="M208.1 460.3L215.3 467.5M208.1 467.5L215.3 460.3" stroke="#ff0000" stroke-width="3.0" fill="none"/>
<path d="M288.4 466.0L295.6 473.2M288.4 473.2L295.6 466.0" stroke="#ff0000" stroke-width="3.0" fill="none"/>
<path d="M326.2 468.3L333.4 475.5M326.2 475.5L333.4 468.3" stroke="#ff0000" stroke-width="3.0" fill="none"/>
<path d="M337.7 469.9L344.9 477.1M337.7 477.1L344.9 469.9" stroke="#ff0000" stroke-width="3.0" fill="none"/>
<path d="M344.6 476.3L351.8 483.5M344.6 483.5L351.8 476.3" stroke="#ff0000" stroke-width="3.0" fill="none"/>
<path d="M346.9 482.1L354.1 489.3M346.9 489.3L354.1 482.1" stroke="#ff0000" stroke-width="3.0" fill="none"/>
<path d="M361.8 482.1L369.0 489.3M361.8 489.3L369.0 482.1" stroke="#ff0000" stroke-width="3.0" fill="none"/>
<path d="M369.8 494.7L377.0 501.9M369.8 501.9L377.0 494.7" stroke="#ff0000" stroke-width="3.0" fill="none"/>
<path d="M379.0 500.4L386.2 507.6M379.0 507.6L386.2 500.4" stroke="#ff0000" stroke-width="3.0" fill="none"/>
<path d="M381.3 506.2L388.5 513.4M381.3 513.4L388.5 506.2" stroke="#ff0000" stroke-width="3.0" fill="none"/>
<path d="M389.3 515.3L396.5 522.5M389.3 522.5L396.5 515.3" stroke="#ff0000" stroke-width="3.0" fill="none"/>
<path d="M398.5 519.9L405.7 527.1M398.5 527.1L405.7 519.9" stroke="#ff0000" stroke-width="3.0" fill="none"/>
<path d="M403.1 524.5L410.3 531.7M403.1 531.7L410.3 524.5" stroke="#ff0000" stroke-width="3.0" fill="none"/>
<path d="M403.1 539.4L410.3 546.6M403.1 546.6L410.3 539.4" stroke="#ff0000" stroke-width="3.0" fill="none"/>
<path d="M404.2 544.0L411.4 551.2M404.2 551.2L411.4 544.0" stroke="#ff0000" stroke-width="3.0" fill="none"/>
<path d="M406.5 550.9L413.7 558.1M406.5 558.1L413.7 550.9" stroke="#ff0000" stroke-width="3.0" fill="none"/>
<path d="M416.8 561.2L424.0 568.4M416.8 568.4L424.0 561.2" stroke="#ff0000" stroke-width="3.0" fill="none"/>
<path d="M420.3 573.8L427.5 581.0M420.3 581.0L427.5 573.8" stroke="#ff0000" stroke-width="3.0" fill="none"/>
<path d="M191.0 476.5L214.0 476.5L222.0 492.6L244.9 500.6L297.7 507.5L298.8 521.2L302.3 532.7L308.0 539.6L314.9 548.8L318.3 549.9L331.0 553.3L336.7 556.8L339.0 572.8L350.5 578.6L351.6 594.6L352.7 599.2L363.1 603.8L364.2 641.7" stroke="#ff0000" stroke-width="2.0" fill="none" stroke-linejoin="round" stroke-dasharray="6,4"/>
<path d="M187.6 473.1L194.4 479.9M187.6 479.9L194.4 473.1" stroke="#ff0000" stroke-width="2.4" fill="none"/>
<path d="M210.6 473.1L217.4 479.9M210.6 479.9L217.4 473.1" stroke="#ff0000" stroke-width="2.4" fill="none"/>
<path d="M218.6 489.2L225.4 496.0M218.6 496.0L225.4 489.2" stroke="#ff0000" stroke-width="2.4" fill="none"/>
<path d="M241.5 497.2L248.3 504.0M241.5 504.0L248.3 497.2" stroke="#ff0000" stroke-width="2.4" fill="none"/>
<path d="M294.3 504.1L301.1 510.9M294.3 510.9L301.1 504.1" stroke="#ff0000" stroke-width="2.4" fill="none"/>
<path d="M295.4 517.8L302.2 524.6M295.4 524.6L302.2 517.8" stroke="#ff0000" stroke-width="2.4" fill="none"/>
<path d="M298.9 529.3L305.7 536.1M298.9 536.1L305.7 529.3" stroke="#ff0000" stroke-width="2.4" fill="none"/>
<path d="M304.6 536.2L311.4 543.0M304.6 543.0L311.4 536.2" stroke="#ff0000" stroke-width="2.4" fill="none"/>
<path d="M311.5 545.4L318.3 552.2M311.5 552.2L318.3 545.4" stroke="#ff0000" stroke-width="2.4" fill="none"/>
<path d="M314.9 546.5L321.7 553.3M314.9 553.3L321.7 546.5" stroke="#ff0000" stroke-width="2.4" fill="none"/>
<path d="M327.6 549.9L334.4 556.7M327.6 556.7L334.4 549.9" stroke="#ff0000" stroke-width="2.4" fill="none"/>
<path d="M333.3 553.4L340.1 560.2M333.3 560.2L340.1 553.4" stroke="#ff0000" stroke-width="2.4" fill="none"/>
<path d="M335.6 569.4L342.4 576.2M335.6 576.2L342.4 569.4" stroke="#ff0000" stroke-width="2.4" fill="none"/>
<path d="M347.1 575.2L353.9 582.0M347.1 582.0L353.9 575.2" stroke="#ff0000" stroke-width="2.4" fill="none"/>
<path d="M348.2 591.2L355.0 598.0M348.2 598.0L355.0 591.2" stroke="#ff0000" stroke-width="2.4" fill="none"/>
<path d="M349.3 595.8L356.1 602.6M349.3 602.6L356.1 595.8" stroke="#ff0000" stroke-width="2.4" fill="none"/>
<path d="M359.7 600.4L366.5 607.2M359.7 607.2L366.5 600.4" stroke="#ff0000" stroke-width="2.4" fill="none"/>
<path d="M360.8 638.3L367.6 645.1M360.8 645.1L367.6 638.3" stroke="#ff0000" stroke-width="2.4" fill="none"/>
</g>
<path d="M191.5 715V711M191.5 421V425M258.5 715V711M258.5 421V425M326.5 715V711M326.5 421V425M393.5 715V711M393.5 421V425M460.5 715V711M460.5 421V425M145 715.5H149M460 715.5H456M145 656.5H149M460 656.5H456M145 597.5H149M460 597.5H456M145 538.5H149M460 538.5H456M145 479.5H149M460 479.5H456M145 420.5H149M460 420.5H456" stroke="#262626" stroke-width="1" fill="none"/>
<rect x="144.5" y="420.5" width="316" height="295" stroke="#262626" stroke-width="1" fill="none"/>
<text x="191.6" y="737.9" text-anchor="middle" font-size="18" fill="#1a1a1a">0.6</text>
<text x="258.8" y="737.9" text-anchor="middle" font-size="18" fill="#1a1a1a">0.7</text>
<text x="326.0" y="737.9" text-anchor="middle" font-size="18" fill="#1a1a1a">0.8</text>
<text x="393.2" y="737.9" text-anchor="middle" font-size="18" fill="#1a1a1a">0.9</text>
<text x="460.4" y="737.9" text-anchor="middle" font-size="18" fill="#1a1a1a">1</text>
<text x="139.6" y="721.7" text-anchor="end" font-size="18" fill="#1a1a1a">1.5</text>
<text x="139.6" y="662.7" text-anchor="end" font-size="18" fill="#1a1a1a">2</text>
<text x="139.6" y="603.8" text-anchor="end" font-size="18" fill="#1a1a1a">2.5</text>
<text x="139.6" y="544.8" text-anchor="end" font-size="18" fill="#1a1a1a">3</text>
<text x="139.6" y="485.9" text-anchor="end" font-size="18" fill="#1a1a1a">3.5</text>
<text x="139.6" y="426.9" text-anchor="end" font-size="18" fill="#1a1a1a">4</text>
<text x="302.5" y="762.7" text-anchor="middle" font-size="19.6" fill="#1a1a1a">Effective Cover Rate (ECR)</text>
<text transform="translate(108.6,567.9) rotate(-90)" text-anchor="middle" font-size="19.7" fill="#1a1a1a">Minimum Pr(W/m<tspan font-size="15" dy="-9.5">2</tspan><tspan dy="9.5">)</tspan></text>
<rect x="149.5" y="588.5" width="93" height="122" fill="#fff" stroke="#262626" stroke-width="1"/>
<path d="M151.6 598.8H170.1" stroke="#0000ff" stroke-width="3.0"/>
<circle cx="160.6" cy="598.8" r="5" fill="#0000ff"/>
<text x="171.4" y="605.0" font-size="16" fill="#000">PF-Best</text>
<path d="M151.6 619.1H157.6" stroke="#0000ff" stroke-width="2.0"/>
<path d="M155.8 619.1H165.4M160.6 614.3V623.9M157.1 615.6L164.1 622.6M157.1 622.6L164.1 615.6" stroke="#0000ff" stroke-width="2.1" fill="none"/><circle cx="160.6" cy="619.1" r="2.6" fill="#0000ff"/>
<text x="171.4" y="625.3" font-size="16" fill="#000">PF-Worst</text>
<path d="M151.6 639.4H170.1" stroke="#00ff00" stroke-width="3.0"/>
<path d="M155.6 639.4H165.6M160.6 634.4V644.4" stroke="#00ff00" stroke-width="2.7" fill="none"/>
<text x="171.4" y="645.6" font-size="16" fill="#000">SR-Best</text>
<path d="M151.6 659.6H157.6" stroke="#00ff00" stroke-width="2.0"/>
<path d="M155.6 659.6H165.6M160.6 654.6V664.6" stroke="#00ff00" stroke-width="2.0" fill="none"/>
<text x="171.4" y="665.8" font-size="16" fill="#000">SR-Worst</text>
<path d="M151.6 679.9H170.1" stroke="#ff0000" stroke-width="3.2"/>
<path d="M157.0 676.3L164.2 683.5M157.0 683.5L164.2 676.3" stroke="#ff0000" stroke-width="3.0" fill="none"/>
<text x="171.4" y="686.1" font-size="16" fill="#000">DT-Best</text>
<path d="M151.6 700.2H157.6" stroke="#ff0000" stroke-width="2.0"/>
<path d="M157.2 696.8L164.0 703.6M157.2 703.6L164.0 696.8" stroke="#ff0000" stroke-width="2.4" fill="none"/>
<text x="171.4" y="706.4" font-size="16" fill="#000">DT-Worst</text>
<text transform="translate(21.31,767.19) scale(0.9460,0.9675)" font-family="'Liberation Serif', serif" font-size="44" fill="#000"><tspan>(</tspan><tspan font-weight="bold">b</tspan><tspan>)</tspan></text>
<path d="M156.5 806V1101M252.5 806V1101M348.5 806V1101M138 1042.5H443M138 983.5H443M138 923.5H443M138 864.5H443" stroke="#e1e1e1" stroke-width="1" fill="none"/>
<clipPath id="clipc"><rect x="131.4" y="799.5" width="318.5" height="307.9000000000001"/></clipPath>
<g clip-path="url(#clipc)">
<path d="M292.0 918.8L306.9 920.0L319.5 929.2L336.7 932.6L337.9 941.8L342.5 947.5" stroke="#0000ff" stroke-width="3.0" fill="none" stroke-linejoin="round"/>
<circle cx="292.0" cy="918.8" r="5" fill="#0000ff"/>
<circle cx="306.9" cy="920.0" r="5" fill="#0000ff"/>
<circle cx="319.5" cy="929.2" r="5" fill="#0000ff"/>
<circle cx="336.7" cy="932.6" r="5" fill="#0000ff"/>
<circle cx="337.9" cy="941.8" r="5" fill="#0000ff"/>
<circle cx="342.5" cy="947.5" r="5" fill="#0000ff"/>
<path d="M211.7 951.0L240.4 951.6L248.4 956.7L251.8 961.3L254.1 970.5L261.0 1004.4L275.9 1018.6L288.5 1020.9L294.3 1024.4L302.3 1031.2L305.7 1040.4L309.2 1042.7L327.5 1047.3" stroke="#0000ff" stroke-width="2.0" fill="none" stroke-linejoin="round" stroke-dasharray="6,4"/>
<path d="M206.9 951.0H216.5M211.7 946.2V955.8M208.2 947.5L215.2 954.5M208.2 954.5L215.2 947.5" stroke="#0000ff" stroke-width="2.1" fill="none"/><circle cx="211.7" cy="951.0" r="2.6" fill="#0000ff"/>
<path d="M235.6 951.6H245.2M240.4 946.8V956.4M236.9 948.1L243.9 955.1M236.9 955.1L243.9 948.1" stroke="#0000ff" stroke-width="2.1" fill="none"/><circle cx="240.4" cy="951.6" r="2.6" fill="#0000ff"/>
<path d="M243.6 956.7H253.2M248.4 951.9V961.5M244.9 953.2L251.9 960.2M244.9 960.2L251.9 953.2" stroke="#0000ff" stroke-width="2.1" fill="none"/><circle cx="248.4" cy="956.7" r="2.6" fill="#0000ff"/>
<path d="M247.0 961.3H256.6M251.8 956.5V966.1M248.3 957.8L255.3 964.8M248.3 964.8L255.3 957.8" stroke="#0000ff" stroke-width="2.1" fill="none"/><circle cx="251.8" cy="961.3" r="2.6" fill="#0000ff"/>
<path d="M249.3 970.5H258.9M254.1 965.7V975.3M250.6 967.0L257.6 974.0M250.6 974.0L257.6 967.0" stroke="#0000ff" stroke-width="2.1" fill="none"/><circle cx="254.1" cy="970.5" r="2.6" fill="#0000ff"/>
<path d="M256.2 1004.4H265.8M261.0 999.6V1009.2M257.5 1000.9L264.5 1007.9M257.5 1007.9L264.5 1000.9" stroke="#0000ff" stroke-width="2.1" fill="none"/><circle cx="261.0" cy="1004.4" r="2.6" fill="#0000ff"/>
<path d="M271.1 1018.6H280.7M275.9 1013.8V1023.4M272.4 1015.1L279.4 1022.1M272.4 1022.1L279.4 1015.1" stroke="#0000ff" stroke-width="2.1" fill="none"/><circle cx="275.9" cy="1018.6" r="2.6" fill="#0000ff"/>
<path d="M283.7 1020.9H293.3M288.5 1016.1V1025.7M285.0 1017.4L292.0 1024.4M285.0 1024.4L292.0 1017.4" stroke="#0000ff" stroke-width="2.1" fill="none"/><circle cx="288.5" cy="1020.9" r="2.6" fill="#0000ff"/>
<path d="M289.5 1024.4H299.1M294.3 1019.6V1029.2M290.8 1020.9L297.8 1027.9M290.8 1027.9L297.8 1020.9" stroke="#0000ff" stroke-width="2.1" fill="none"/><circle cx="294.3" cy="1024.4" r="2.6" fill="#0000ff"/>
<path d="M297.5 1031.2H307.1M302.3 1026.4V1036.0M298.8 1027.7L305.8 1034.7M298.8 1034.7L305.8 1027.7" stroke="#0000ff" stroke-width="2.1" fill="none"/><circle cx="302.3" cy="1031.2" r="2.6" fill="#0000ff"/>
<path d="M300.9 1040.4H310.5M305.7 1035.6V1045.2M302.2 1036.9L309.2 1043.9M302.2 1043.9L309.2 1036.9" stroke="#0000ff" stroke-width="2.1" fill="none"/><circle cx="305.7" cy="1040.4" r="2.6" fill="#0000ff"/>
<path d="M304.4 1042.7H314.0M309.2 1037.9V1047.5M305.7 1039.2L312.7 1046.2M305.7 1046.2L312.7 1039.2" stroke="#0000ff" stroke-width="2.1" fill="none"/><circle cx="309.2" cy="1042.7" r="2.6" fill="#0000ff"/>
<path d="M322.7 1047.3H332.3M327.5 1042.5V1052.1M324.0 1043.8L331.0 1050.8M324.0 1050.8L331.0 1043.8" stroke="#0000ff" stroke-width="2.1" fill="none"/><circle cx="327.5" cy="1047.3" r="2.6" fill="#0000ff"/>
<path d="M331.0 837.4L340.2 876.4L355.1 876.4L356.2 915.4L359.7 940.6L361.9 968.2" stroke="#00ff00" stroke-width="3.0" fill="none" stroke-linejoin="round"/>
<path d="M326.0 837.4H336.0M331.0 832.4V842.4" stroke="#00ff00" stroke-width="2.7" fill="none"/>
<path d="M335.2 876.4H345.2M340.2 871.4V881.4" stroke="#00ff00" stroke-width="2.7" fill="none"/>
<path d="M350.1 876.4H360.1M355.1 871.4V881.4" stroke="#00ff00" stroke-width="2.7" fill="none"/>
<path d="M351.2 915.4H361.2M356.2 910.4V920.4" stroke="#00ff00" stroke-width="2.7" fill="none"/>
<path d="M354.7 940.6H364.7M359.7 935.6V945.6" stroke="#00ff00" stroke-width="2.7" fill="none"/>
<path d="M356.9 968.2H366.9M361.9 963.2V973.2" stroke="#00ff00" stroke-width="2.7" fill="none"/>
<path d="M171.6 862.2L188.8 921.1L222.0 940.6L238.1 949.8L255.3 964.7L265.6 972.3L292.0 975.0L327.5 983.1L333.3 992.2L342.5 1012.9L343.6 1037.0L353.9 1037.0L356.2 1056.5L357.4 1064.5L358.5 1072.5" stroke="#00ff00" stroke-width="2.0" fill="none" stroke-linejoin="round" stroke-dasharray="6,4"/>
<path d="M166.6 862.2H176.6M171.6 857.2V867.2" stroke="#00ff00" stroke-width="2.0" fill="none"/>
<path d="M183.8 921.1H193.8M188.8 916.1V926.1" stroke="#00ff00" stroke-width="2.0" fill="none"/>
<path d="M217.0 940.6H227.0M222.0 935.6V945.6" stroke="#00ff00" stroke-width="2.0" fill="none"/>
<path d="M233.1 949.8H243.1M238.1 944.8V954.8" stroke="#00ff00" stroke-width="2.0" fill="none"/>
<path d="M250.3 964.7H260.3M255.3 959.7V969.7" stroke="#00ff00" stroke-width="2.0" fill="none"/>
<path d="M260.6 972.3H270.6M265.6 967.3V977.3" stroke="#00ff00" stroke-width="2.0" fill="none"/>
<path d="M287.0 975.0H297.0M292.0 970.0V980.0" stroke="#00ff00" stroke-width="2.0" fill="none"/>
<path d="M322.5 983.1H332.5M327.5 978.1V988.1" stroke="#00ff00" stroke-width="2.0" fill="none"/>
<path d="M328.3 992.2H338.3M333.3 987.2V997.2" stroke="#00ff00" stroke-width="2.0" fill="none"/>
<path d="M337.5 1012.9H347.5M342.5 1007.9V1017.9" stroke="#00ff00" stroke-width="2.0" fill="none"/>
<path d="M338.6 1037.0H348.6M343.6 1032.0V1042.0" stroke="#00ff00" stroke-width="2.0" fill="none"/>
<path d="M348.9 1037.0H358.9M353.9 1032.0V1042.0" stroke="#00ff00" stroke-width="2.0" fill="none"/>
<path d="M351.2 1056.5H361.2M356.2 1051.5V1061.5" stroke="#00ff00" stroke-width="2.0" fill="none"/>
<path d="M352.4 1064.5H362.4M357.4 1059.5V1069.5" stroke="#00ff00" stroke-width="2.0" fill="none"/>
<path d="M353.5 1072.5H363.5M358.5 1067.5V1077.5" stroke="#00ff00" stroke-width="2.0" fill="none"/>
<path d="M241.5 812.2L256.4 815.6L265.6 819.1L281.7 823.6L296.6 824.1L305.7 824.8L317.2 825.3L324.1 825.9L336.7 831.7L356.2 831.7L359.7 837.4L372.3 839.7L379.2 840.8L386.0 842.0L390.6 848.9L396.4 856.9L396.4 876.4L398.7 889.0L399.8 892.5L402.1 921.1" stroke="#ff0000" stroke-width="3.2" fill="none" stroke-linejoin="round"/>
<path d="M237.9 808.6L245.1 815.8M237.9 815.8L245.1 808.6" stroke="#ff0000" stroke-width="3.0" fill="none"/>
<path d="M252.8 812.0L260.0 819.2M252.8 819.2L260.0 812.0" stroke="#ff0000" stroke-width="3.0" fill="none"/>
<path d="M262.0 815.5L269.2 822.7M262.0 822.7L269.2 815.5" stroke="#ff0000" stroke-width="3.0" fill="none"/>
<path d="M278.1 820.0L285.3 827.2M278.1 827.2L285.3 820.0" stroke="#ff0000" stroke-width="3.0" fill="none"/>
<path d="M293.0 820.5L300.2 827.7M293.0 827.7L300.2 820.5" stroke="#ff0000" stroke-width="3.0" fill="none"/>
<path d="M302.1 821.2L309.3 828.4M302.1 828.4L309.3 821.2" stroke="#ff0000" stroke-width="3.0" fill="none"/>
<path d="M313.6 821.7L320.8 828.9M313.6 828.9L320.8 821.7" stroke="#ff0000" stroke-width="3.0" fill="none"/>
<path d="M320.5 822.3L327.7 829.5M320.5 829.5L327.7 822.3" stroke="#ff0000" stroke-width="3.0" fill="none"/>
<path d="M333.1 828.1L340.3 835.3M333.1 835.3L340.3 828.1" stroke="#ff0000" stroke-width="3.0" fill="none"/>
<path d="M352.6 828.1L359.8 835.3M352.6 835.3L359.8 828.1" stroke="#ff0000" stroke-width="3.0" fill="none"/>
<path d="M356.1 833.8L363.3 841.0M356.1 841.0L363.3 833.8" stroke="#ff0000" stroke-width="3.0" fill="none"/>
<path d="M368.7 836.1L375.9 843.3M368.7 843.3L375.9 836.1" stroke="#ff0000" stroke-width="3.0" fill="none"/>
<path d="M375.6 837.2L382.8 844.4M375.6 844.4L382.8 837.2" stroke="#ff0000" stroke-width="3.0" fill="none"/>
<path d="M382.4 838.4L389.6 845.6M382.4 845.6L389.6 838.4" stroke="#ff0000" stroke-width="3.0" fill="none"/>
<path d="M387.0 845.3L394.2 852.5M387.0 852.5L394.2 845.3" stroke="#ff0000" stroke-width="3.0" fill="none"/>
<path d="M392.8 853.3L400.0 860.5M392.8 860.5L400.0 853.3" stroke="#ff0000" stroke-width="3.0" fill="none"/>
<path d="M392.8 872.8L400.0 880.0M392.8 880.0L400.0 872.8" stroke="#ff0000" stroke-width="3.0" fill="none"/>
<path d="M395.1 885.4L402.3 892.6M395.1 892.6L402.3 885.4" stroke="#ff0000" stroke-width="3.0" fill="none"/>
<path d="M396.2 888.9L403.4 896.1M396.2 896.1L403.4 888.9" stroke="#ff0000" stroke-width="3.0" fill="none"/>
<path d="M398.5 917.5L405.7 924.7M398.5 924.7L405.7 917.5" stroke="#ff0000" stroke-width="3.0" fill="none"/>
<path d="M138.3 836.3L173.8 845.4L226.6 847.7L255.3 854.6L272.5 892.5L350.5 902.8L351.6 923.4L358.5 942.9L366.5 971.6L373.4 1006.0L375.7 1035.8" stroke="#ff0000" stroke-width="2.0" fill="none" stroke-linejoin="round" stroke-dasharray="6,4"/>
<path d="M134.9 832.9L141.7 839.7M134.9 839.7L141.7 832.9" stroke="#ff0000" stroke-width="2.4" fill="none"/>
<path d="M170.4 842.0L177.2 848.8M170.4 848.8L177.2 842.0" stroke="#ff0000" stroke-width="2.4" fill="none"/>
<path d="M223.2 844.3L230.0 851.1M223.2 851.1L230.0 844.3" stroke="#ff0000" stroke-width="2.4" fill="none"/>
<path d="M251.9 851.2L258.7 858.0M251.9 858.0L258.7 851.2" stroke="#ff0000" stroke-width="2.4" fill="none"/>
<path d="M269.1 889.1L275.9 895.9M269.1 895.9L275.9 889.1" stroke="#ff0000" stroke-width="2.4" fill="none"/>
<path d="M347.1 899.4L353.9 906.2M347.1 906.2L353.9 899.4" stroke="#ff0000" stroke-width="2.4" fill="none"/>
<path d="M348.2 920.0L355.0 926.8M348.2 926.8L355.0 920.0" stroke="#ff0000" stroke-width="2.4" fill="none"/>
<path d="M355.1 939.5L361.9 946.3M355.1 946.3L361.9 939.5" stroke="#ff0000" stroke-width="2.4" fill="none"/>
<path d="M363.1 968.2L369.9 975.0M363.1 975.0L369.9 968.2" stroke="#ff0000" stroke-width="2.4" fill="none"/>
<path d="M370.0 1002.6L376.8 1009.4M370.0 1009.4L376.8 1002.6" stroke="#ff0000" stroke-width="2.4" fill="none"/>
<path d="M372.3 1032.4L379.1 1039.2M372.3 1039.2L379.1 1032.4" stroke="#ff0000" stroke-width="2.4" fill="none"/>
</g>
<path d="M156.5 1101V1097M156.5 806V810M252.5 1101V1097M252.5 806V810M348.5 1101V1097M348.5 806V810M443.5 1101V1097M443.5 806V810M138 1101.5H142M443 1101.5H439M138 1042.5H142M443 1042.5H439M138 983.5H142M443 983.5H439M138 923.5H142M443 923.5H439M138 864.5H142M443 864.5H439M138 805.5H142M443 805.5H439" stroke="#262626" stroke-width="1" fill="none"/>
<rect x="137.5" y="805.5" width="306" height="296" stroke="#262626" stroke-width="1" fill="none"/>
<text x="156.6" y="1124.0" text-anchor="middle" font-size="18" fill="#1a1a1a">0.7</text>
<text x="252.3" y="1124.0" text-anchor="middle" font-size="18" fill="#1a1a1a">0.8</text>
<text x="348.1" y="1124.0" text-anchor="middle" font-size="18" fill="#1a1a1a">0.9</text>
<text x="443.9" y="1124.0" text-anchor="middle" font-size="18" fill="#1a1a1a">1</text>
<text x="132.4" y="1107.8" text-anchor="end" font-size="18" fill="#1a1a1a">2.5</text>
<text x="132.4" y="1048.6" text-anchor="end" font-size="18" fill="#1a1a1a">3</text>
<text x="132.4" y="989.4" text-anchor="end" font-size="18" fill="#1a1a1a">3.5</text>
<text x="132.4" y="930.3" text-anchor="end" font-size="18" fill="#1a1a1a">4</text>
<text x="132.4" y="871.1" text-anchor="end" font-size="18" fill="#1a1a1a">4.5</text>
<text x="132.4" y="811.9" text-anchor="end" font-size="18" fill="#1a1a1a">5</text>
<text x="290.6" y="1148.8" text-anchor="middle" font-size="19.6" fill="#1a1a1a">Effective Cover Rate (ECR)</text>
<text transform="translate(101.4,953.5) rotate(-90)" text-anchor="middle" font-size="19.7" fill="#1a1a1a">Minimum Pr(W/m<tspan font-size="15" dy="-9.5">2</tspan><tspan dy="9.5">)</tspan></text>
<rect x="142.5" y="974.5" width="93" height="122" fill="#fff" stroke="#262626" stroke-width="1"/>
<path d="M144.4 984.8H162.9" stroke="#0000ff" stroke-width="3.0"/>
<circle cx="153.4" cy="984.8" r="5" fill="#0000ff"/>
<text x="164.2" y="991.0" font-size="16" fill="#000">PF-Best</text>
<path d="M144.4 1005.1H150.4" stroke="#0000ff" stroke-width="2.0"/>
<path d="M148.6 1005.1H158.2M153.4 1000.3V1009.9M149.9 1001.6L156.9 1008.6M149.9 1008.6L156.9 1001.6" stroke="#0000ff" stroke-width="2.1" fill="none"/><circle cx="153.4" cy="1005.1" r="2.6" fill="#0000ff"/>
<text x="164.2" y="1011.3" font-size="16" fill="#000">PF-Worst</text>
<path d="M144.4 1025.4H162.9" stroke="#00ff00" stroke-width="3.0"/>
<path d="M148.4 1025.4H158.4M153.4 1020.4V1030.4" stroke="#00ff00" stroke-width="2.7" fill="none"/>
<text x="164.2" y="1031.6" font-size="16" fill="#000">SR-Best</text>
<path d="M144.4 1045.6H150.4" stroke="#00ff00" stroke-width="2.0"/>
<path d="M148.4 1045.6H158.4M153.4 1040.6V1050.6" stroke="#00ff00" stroke-width="2.0" fill="none"/>
<text x="164.2" y="1051.8" font-size="16" fill="#000">SR-Worst</text>
<path d="M144.4 1065.9H162.9" stroke="#ff0000" stroke-width="3.2"/>
<path d="M149.8 1062.3L157.0 1069.5M149.8 1069.5L157.0 1062.3" stroke="#ff0000" stroke-width="3.0" fill="none"/>
<text x="164.2" y="1072.1" font-size="16" fill="#000">DT-Best</text>
<path d="M144.4 1086.2H150.4" stroke="#ff0000" stroke-width="2.0"/>
<path d="M150.0 1082.8L156.8 1089.6M150.0 1089.6L156.8 1082.8" stroke="#ff0000" stroke-width="2.4" fill="none"/>
<text x="164.2" y="1092.4" font-size="16" fill="#000">DT-Worst</text>
<text transform="translate(21.01,1152.87) scale(0.8933,0.9923)" font-family="'Liberation Serif', serif" font-size="44" fill="#000"><tspan>(</tspan><tspan font-weight="bold">c</tspan><tspan>)</tspan></text>
<path d="M246.5 1192V1486M349.5 1192V1486M145 1437.5H451M145 1388.5H451M145 1338.5H451M145 1289.5H451M145 1240.5H451" stroke="#e1e1e1" stroke-width="1" fill="none"/>
<clipPath id="clipd"><rect x="138.6" y="1185.3" width="318.79999999999995" height="307.20000000000005"/></clipPath>
<g clip-path="url(#clipd)">
<path d="M451.4 1253.9" stroke="#0000ff" stroke-width="3.0" fill="none" stroke-linejoin="round"/>
<circle cx="451.4" cy="1253.9" r="5" fill="#0000ff"/>
<path d="M344.7 1306.0L419.3 1311.7L427.3 1315.2L434.2 1322.0L439.9 1359.9" stroke="#0000ff" stroke-width="2.0" fill="none" stroke-linejoin="round" stroke-dasharray="6,4"/>
<path d="M339.9 1306.0H349.5M344.7 1301.2V1310.8M341.2 1302.5L348.2 1309.5M341.2 1309.5L348.2 1302.5" stroke="#0000ff" stroke-width="2.1" fill="none"/><circle cx="344.7" cy="1306.0" r="2.6" fill="#0000ff"/>
<path d="M414.5 1311.7H424.1M419.3 1306.9V1316.5M415.8 1308.2L422.8 1315.2M415.8 1315.2L422.8 1308.2" stroke="#0000ff" stroke-width="2.1" fill="none"/><circle cx="419.3" cy="1311.7" r="2.6" fill="#0000ff"/>
<path d="M422.5 1315.2H432.1M427.3 1310.4V1320.0M423.8 1311.7L430.8 1318.7M423.8 1318.7L430.8 1311.7" stroke="#0000ff" stroke-width="2.1" fill="none"/><circle cx="427.3" cy="1315.2" r="2.6" fill="#0000ff"/>
<path d="M429.4 1322.0H439.0M434.2 1317.2V1326.8M430.7 1318.5L437.7 1325.5M430.7 1325.5L437.7 1318.5" stroke="#0000ff" stroke-width="2.1" fill="none"/><circle cx="434.2" cy="1322.0" r="2.6" fill="#0000ff"/>
<path d="M435.1 1359.9H444.7M439.9 1355.1V1364.7M436.4 1356.4L443.4 1363.4M436.4 1363.4L443.4 1356.4" stroke="#0000ff" stroke-width="2.1" fill="none"/><circle cx="439.9" cy="1359.9" r="2.6" fill="#0000ff"/>
<path d="M451.4 1301.4" stroke="#00ff00" stroke-width="3.0" fill="none" stroke-linejoin="round"/>
<path d="M446.4 1301.4H456.4M451.4 1296.4V1306.4" stroke="#00ff00" stroke-width="2.7" fill="none"/>
<path d="M173.8 1390.9L255.3 1397.7L305.7 1401.2L353.9 1409.7L369.9 1416.1L387.2 1451.7" stroke="#00ff00" stroke-width="2.0" fill="none" stroke-linejoin="round" stroke-dasharray="6,4"/>
<path d="M168.8 1390.9H178.8M173.8 1385.9V1395.9" stroke="#00ff00" stroke-width="2.0" fill="none"/>
<path d="M250.3 1397.7H260.3M255.3 1392.7V1402.7" stroke="#00ff00" stroke-width="2.0" fill="none"/>
<path d="M300.7 1401.2H310.7M305.7 1396.2V1406.2" stroke="#00ff00" stroke-width="2.0" fill="none"/>
<path d="M348.9 1409.7H358.9M353.9 1404.7V1414.7" stroke="#00ff00" stroke-width="2.0" fill="none"/>
<path d="M364.9 1416.1H374.9M369.9 1411.1V1421.1" stroke="#00ff00" stroke-width="2.0" fill="none"/>
<path d="M382.2 1451.7H392.2M387.2 1446.7V1456.7" stroke="#00ff00" stroke-width="2.0" fill="none"/>
<path d="M428.6 1218.1L433.8 1219.8L437.2 1221.5L439.8 1224.9L442.4 1229.2L443.2 1232.7L444.5 1236.1" stroke="#ff0000" stroke-width="3.2" fill="none" stroke-linejoin="round"/>
<path d="M425.0 1214.5L432.2 1221.7M425.0 1221.7L432.2 1214.5" stroke="#ff0000" stroke-width="3.0" fill="none"/>
<path d="M430.2 1216.2L437.4 1223.4M430.2 1223.4L437.4 1216.2" stroke="#ff0000" stroke-width="3.0" fill="none"/>
<path d="M433.6 1217.9L440.8 1225.1M433.6 1225.1L440.8 1217.9" stroke="#ff0000" stroke-width="3.0" fill="none"/>
<path d="M436.2 1221.3L443.4 1228.5M436.2 1228.5L443.4 1221.3" stroke="#ff0000" stroke-width="3.0" fill="none"/>
<path d="M438.8 1225.6L446.0 1232.8M438.8 1232.8L446.0 1225.6" stroke="#ff0000" stroke-width="3.0" fill="none"/>
<path d="M439.6 1229.1L446.8 1236.3M439.6 1236.3L446.8 1229.1" stroke="#ff0000" stroke-width="3.0" fill="none"/>
<path d="M440.9 1232.5L448.1 1239.7M440.9 1239.7L448.1 1232.5" stroke="#ff0000" stroke-width="3.0" fill="none"/>
<path d="M361.1 1228.0L380.4 1240.4L399.4 1244.7L418.3 1245.6L421.7 1250.8L432.0 1255.1L437.2 1255.5L441.1 1255.9L442.8 1275.7" stroke="#ff0000" stroke-width="2.0" fill="none" stroke-linejoin="round" stroke-dasharray="6,4"/>
<path d="M357.7 1224.6L364.5 1231.4M357.7 1231.4L364.5 1224.6" stroke="#ff0000" stroke-width="2.4" fill="none"/>
<path d="M377.0 1237.0L383.8 1243.8M377.0 1243.8L383.8 1237.0" stroke="#ff0000" stroke-width="2.4" fill="none"/>
<path d="M396.0 1241.3L402.8 1248.1M396.0 1248.1L402.8 1241.3" stroke="#ff0000" stroke-width="2.4" fill="none"/>
<path d="M414.9 1242.2L421.7 1249.0M414.9 1249.0L421.7 1242.2" stroke="#ff0000" stroke-width="2.4" fill="none"/>
<path d="M418.3 1247.4L425.1 1254.2M418.3 1254.2L425.1 1247.4" stroke="#ff0000" stroke-width="2.4" fill="none"/>
<path d="M428.6 1251.7L435.4 1258.5M428.6 1258.5L435.4 1251.7" stroke="#ff0000" stroke-width="2.4" fill="none"/>
<path d="M433.8 1252.1L440.6 1258.9M433.8 1258.9L440.6 1252.1" stroke="#ff0000" stroke-width="2.4" fill="none"/>
<path d="M437.7 1252.5L444.5 1259.3M437.7 1259.3L444.5 1252.5" stroke="#ff0000" stroke-width="2.4" fill="none"/>
<path d="M439.4 1272.3L446.2 1279.1M439.4 1279.1L446.2 1272.3" stroke="#ff0000" stroke-width="2.4" fill="none"/>
</g>
<path d="M144.5 1486V1482M144.5 1192V1196M246.5 1486V1482M246.5 1192V1196M349.5 1486V1482M349.5 1192V1196M451.5 1486V1482M451.5 1192V1196M145 1486.5H149M451 1486.5H447M145 1437.5H149M451 1437.5H447M145 1388.5H149M451 1388.5H447M145 1338.5H149M451 1338.5H447M145 1289.5H149M451 1289.5H447M145 1240.5H149M451 1240.5H447M145 1191.5H149M451 1191.5H447" stroke="#262626" stroke-width="1" fill="none"/>
<rect x="144.5" y="1191.5" width="307" height="295" stroke="#262626" stroke-width="1" fill="none"/>
<text x="144.6" y="1510.0" text-anchor="middle" font-size="18" fill="#1a1a1a">0.85</text>
<text x="246.9" y="1510.0" text-anchor="middle" font-size="18" fill="#1a1a1a">0.9</text>
<text x="349.1" y="1510.0" text-anchor="middle" font-size="18" fill="#1a1a1a">0.95</text>
<text x="451.4" y="1510.0" text-anchor="middle" font-size="18" fill="#1a1a1a">1</text>
<text x="139.6" y="1492.9" text-anchor="end" font-size="18" fill="#1a1a1a">3.5</text>
<text x="139.6" y="1443.7" text-anchor="end" font-size="18" fill="#1a1a1a">4</text>
<text x="139.6" y="1394.5" text-anchor="end" font-size="18" fill="#1a1a1a">4.5</text>
<text x="139.6" y="1345.3" text-anchor="end" font-size="18" fill="#1a1a1a">5</text>
<text x="139.6" y="1296.1" text-anchor="end" font-size="18" fill="#1a1a1a">5.5</text>
<text x="139.6" y="1246.9" text-anchor="end" font-size="18" fill="#1a1a1a">6</text>
<text x="139.6" y="1197.7" text-anchor="end" font-size="18" fill="#1a1a1a">6.5</text>
<text x="298.0" y="1533.9" text-anchor="middle" font-size="19.6" fill="#1a1a1a">Effective Cover Rate (ECR)</text>
<text transform="translate(108.6,1338.9) rotate(-90)" text-anchor="middle" font-size="19.7" fill="#1a1a1a">Minimum Pr(W/m<tspan font-size="15" dy="-9.5">2</tspan><tspan dy="9.5">)</tspan></text>
<rect x="149.5" y="1196.5" width="93" height="123" fill="#fff" stroke="#262626" stroke-width="1"/>
<path d="M151.3 1206.9H169.8" stroke="#0000ff" stroke-width="3.0"/>
<circle cx="160.3" cy="1206.9" r="5" fill="#0000ff"/>
<text x="171.1" y="1213.1" font-size="16" fill="#000">PF-Best</text>
<path d="M151.3 1227.2H157.3" stroke="#0000ff" stroke-width="2.0"/>
<path d="M155.5 1227.2H165.1M160.3 1222.4V1232.0M156.8 1223.7L163.8 1230.7M156.8 1230.7L163.8 1223.7" stroke="#0000ff" stroke-width="2.1" fill="none"/><circle cx="160.3" cy="1227.2" r="2.6" fill="#0000ff"/>
<text x="171.1" y="1233.4" font-size="16" fill="#000">PF-Worst</text>
<path d="M151.3 1247.5H169.8" stroke="#00ff00" stroke-width="3.0"/>
<path d="M155.3 1247.5H165.3M160.3 1242.5V1252.5" stroke="#00ff00" stroke-width="2.7" fill="none"/>
<text x="171.1" y="1253.7" font-size="16" fill="#000">SR-Best</text>
<path d="M151.3 1267.7H157.3" stroke="#00ff00" stroke-width="2.0"/>
<path d="M155.3 1267.7H165.3M160.3 1262.7V1272.7" stroke="#00ff00" stroke-width="2.0" fill="none"/>
<text x="171.1" y="1273.9" font-size="16" fill="#000">SR-Worst</text>
<path d="M151.3 1288.0H169.8" stroke="#ff0000" stroke-width="3.2"/>
<path d="M156.7 1284.4L163.9 1291.6M156.7 1291.6L163.9 1284.4" stroke="#ff0000" stroke-width="3.0" fill="none"/>
<text x="171.1" y="1294.2" font-size="16" fill="#000">DT-Best</text>
<path d="M151.3 1308.3H157.3" stroke="#ff0000" stroke-width="2.0"/>
<path d="M156.9 1304.9L163.7 1311.7M156.9 1311.7L163.7 1304.9" stroke="#ff0000" stroke-width="2.4" fill="none"/>
<text x="171.1" y="1314.5" font-size="16" fill="#000">DT-Worst</text>
<text transform="translate(21.00,1538.89) scale(0.9520,0.9675)" font-family="'Liberation Serif', serif" font-size="44" fill="#000"><tspan>(</tspan><tspan font-weight="bold">d</tspan><tspan>)</tspan></text>
<path d="M658.5 32V330M717.5 32V330M777.5 32V330M836.5 32V330M599 288.5H896M599 245.5H896M599 202.5H896M599 159.5H896M599 117.5H896M599 74.5H896" stroke="#e1e1e1" stroke-width="1" fill="none"/>
<clipPath id="clipe"><rect x="592.5" y="25.5" width="310.0" height="310.8"/></clipPath>
<g clip-path="url(#clipe)">
<path d="M648.5 51.9L674.9 57.7L697.8 68.0L712.7 82.9L720.8 87.5L729.9 108.1L736.8 118.5L748.3 127.6L762.0 139.1L773.5 143.7L789.6 144.8L807.9 149.4L837.7 165.5L854.7 183.8L862.7 190.7L873.1 195.3L874.2 204.5L884.5 214.8L886.1 235.5L886.1 256.1" stroke="#0000ff" stroke-width="3.0" fill="none" stroke-linejoin="round"/>
<circle cx="648.5" cy="51.9" r="5" fill="#0000ff"/>
<circle cx="674.9" cy="57.7" r="5" fill="#0000ff"/>
<circle cx="697.8" cy="68.0" r="5" fill="#0000ff"/>
<circle cx="712.7" cy="82.9" r="5" fill="#0000ff"/>
<circle cx="720.8" cy="87.5" r="5" fill="#0000ff"/>
<circle cx="729.9" cy="108.1" r="5" fill="#0000ff"/>
<circle cx="736.8" cy="118.5" r="5" fill="#0000ff"/>
<circle cx="748.3" cy="127.6" r="5" fill="#0000ff"/>
<circle cx="762.0" cy="139.1" r="5" fill="#0000ff"/>
<circle cx="773.5" cy="143.7" r="5" fill="#0000ff"/>
<circle cx="789.6" cy="144.8" r="5" fill="#0000ff"/>
<circle cx="807.9" cy="149.4" r="5" fill="#0000ff"/>
<circle cx="837.7" cy="165.5" r="5" fill="#0000ff"/>
<circle cx="854.7" cy="183.8" r="5" fill="#0000ff"/>
<circle cx="862.7" cy="190.7" r="5" fill="#0000ff"/>
<circle cx="873.1" cy="195.3" r="5" fill="#0000ff"/>
<circle cx="874.2" cy="204.5" r="5" fill="#0000ff"/>
<circle cx="884.5" cy="214.8" r="5" fill="#0000ff"/>
<circle cx="886.1" cy="235.5" r="5" fill="#0000ff"/>
<circle cx="886.1" cy="256.1" r="5" fill="#0000ff"/>
<path d="M599.2 77.2L624.4 86.3L635.9 88.6L658.8 90.9L670.3 103.6L680.6 107.0L690.9 109.3L709.3 113.9L713.9 120.8L720.8 146.0L732.2 147.1L750.6 164.3L771.2 164.3L774.7 187.3L789.6 187.7L805.6 188.4L822.6 191.9L835.2 191.9L838.7 198.7L841.0 203.3L843.2 207.9L849.2 211.4L855.9 214.8L867.3 217.1L871.9 224.0L877.7 229.7L884.5 230.9L877.7 246.9L882.2 256.1L886.8 259.5" stroke="#0000ff" stroke-width="2.0" fill="none" stroke-linejoin="round" stroke-dasharray="6,4"/>
<path d="M594.4 77.2H604.0M599.2 72.4V82.0M595.7 73.7L602.7 80.7M595.7 80.7L602.7 73.7" stroke="#0000ff" stroke-width="2.1" fill="none"/><circle cx="599.2" cy="77.2" r="2.6" fill="#0000ff"/>
<path d="M619.6 86.3H629.2M624.4 81.5V91.1M620.9 82.8L627.9 89.8M620.9 89.8L627.9 82.8" stroke="#0000ff" stroke-width="2.1" fill="none"/><circle cx="624.4" cy="86.3" r="2.6" fill="#0000ff"/>
<path d="M631.1 88.6H640.7M635.9 83.8V93.4M632.4 85.1L639.4 92.1M632.4 92.1L639.4 85.1" stroke="#0000ff" stroke-width="2.1" fill="none"/><circle cx="635.9" cy="88.6" r="2.6" fill="#0000ff"/>
<path d="M654.0 90.9H663.6M658.8 86.1V95.7M655.3 87.4L662.3 94.4M655.3 94.4L662.3 87.4" stroke="#0000ff" stroke-width="2.1" fill="none"/><circle cx="658.8" cy="90.9" r="2.6" fill="#0000ff"/>
<path d="M665.5 103.6H675.1M670.3 98.8V108.4M666.8 100.1L673.8 107.1M666.8 107.1L673.8 100.1" stroke="#0000ff" stroke-width="2.1" fill="none"/><circle cx="670.3" cy="103.6" r="2.6" fill="#0000ff"/>
<path d="M675.8 107.0H685.4M680.6 102.2V111.8M677.1 103.5L684.1 110.5M677.1 110.5L684.1 103.5" stroke="#0000ff" stroke-width="2.1" fill="none"/><circle cx="680.6" cy="107.0" r="2.6" fill="#0000ff"/>
<path d="M686.1 109.3H695.7M690.9 104.5V114.1M687.4 105.8L694.4 112.8M687.4 112.8L694.4 105.8" stroke="#0000ff" stroke-width="2.1" fill="none"/><circle cx="690.9" cy="109.3" r="2.6" fill="#0000ff"/>
<path d="M704.5 113.9H714.1M709.3 109.1V118.7M705.8 110.4L712.8 117.4M705.8 117.4L712.8 110.4" stroke="#0000ff" stroke-width="2.1" fill="none"/><circle cx="709.3" cy="113.9" r="2.6" fill="#0000ff"/>
<path d="M709.1 120.8H718.7M713.9 116.0V125.6M710.4 117.3L717.4 124.3M710.4 124.3L717.4 117.3" stroke="#0000ff" stroke-width="2.1" fill="none"/><circle cx="713.9" cy="120.8" r="2.6" fill="#0000ff"/>
<path d="M716.0 146.0H725.6M720.8 141.2V150.8M717.3 142.5L724.3 149.5M717.3 149.5L724.3 142.5" stroke="#0000ff" stroke-width="2.1" fill="none"/><circle cx="720.8" cy="146.0" r="2.6" fill="#0000ff"/>
<path d="M727.4 147.1H737.0M732.2 142.3V151.9M728.7 143.6L735.7 150.6M728.7 150.6L735.7 143.6" stroke="#0000ff" stroke-width="2.1" fill="none"/><circle cx="732.2" cy="147.1" r="2.6" fill="#0000ff"/>
<path d="M745.8 164.3H755.4M750.6 159.5V169.1M747.1 160.8L754.1 167.8M747.1 167.8L754.1 160.8" stroke="#0000ff" stroke-width="2.1" fill="none"/><circle cx="750.6" cy="164.3" r="2.6" fill="#0000ff"/>
<path d="M766.4 164.3H776.0M771.2 159.5V169.1M767.7 160.8L774.7 167.8M767.7 167.8L774.7 160.8" stroke="#0000ff" stroke-width="2.1" fill="none"/><circle cx="771.2" cy="164.3" r="2.6" fill="#0000ff"/>
<path d="M769.9 187.3H779.5M774.7 182.5V192.1M771.2 183.8L778.2 190.8M771.2 190.8L778.2 183.8" stroke="#0000ff" stroke-width="2.1" fill="none"/><circle cx="774.7" cy="187.3" r="2.6" fill="#0000ff"/>
<path d="M784.8 187.7H794.4M789.6 182.9V192.5M786.1 184.2L793.1 191.2M786.1 191.2L793.1 184.2" stroke="#0000ff" stroke-width="2.1" fill="none"/><circle cx="789.6" cy="187.7" r="2.6" fill="#0000ff"/>
<path d="M800.8 188.4H810.4M805.6 183.6V193.2M802.1 184.9L809.1 191.9M802.1 191.9L809.1 184.9" stroke="#0000ff" stroke-width="2.1" fill="none"/><circle cx="805.6" cy="188.4" r="2.6" fill="#0000ff"/>
<path d="M817.8 191.9H827.4M822.6 187.1V196.7M819.1 188.4L826.1 195.4M819.1 195.4L826.1 188.4" stroke="#0000ff" stroke-width="2.1" fill="none"/><circle cx="822.6" cy="191.9" r="2.6" fill="#0000ff"/>
<path d="M830.4 191.9H840.0M835.2 187.1V196.7M831.7 188.4L838.7 195.4M831.7 195.4L838.7 188.4" stroke="#0000ff" stroke-width="2.1" fill="none"/><circle cx="835.2" cy="191.9" r="2.6" fill="#0000ff"/>
<path d="M833.9 198.7H843.5M838.7 193.9V203.5M835.2 195.2L842.2 202.2M835.2 202.2L842.2 195.2" stroke="#0000ff" stroke-width="2.1" fill="none"/><circle cx="838.7" cy="198.7" r="2.6" fill="#0000ff"/>
<path d="M836.2 203.3H845.8M841.0 198.5V208.1M837.5 199.8L844.5 206.8M837.5 206.8L844.5 199.8" stroke="#0000ff" stroke-width="2.1" fill="none"/><circle cx="841.0" cy="203.3" r="2.6" fill="#0000ff"/>
<path d="M838.4 207.9H848.0M843.2 203.1V212.7M839.7 204.4L846.7 211.4M839.7 211.4L846.7 204.4" stroke="#0000ff" stroke-width="2.1" fill="none"/><circle cx="843.2" cy="207.9" r="2.6" fill="#0000ff"/>
<path d="M844.4 211.4H854.0M849.2 206.6V216.2M845.7 207.9L852.7 214.9M845.7 214.9L852.7 207.9" stroke="#0000ff" stroke-width="2.1" fill="none"/><circle cx="849.2" cy="211.4" r="2.6" fill="#0000ff"/>
<path d="M851.1 214.8H860.7M855.9 210.0V219.6M852.4 211.3L859.4 218.3M852.4 218.3L859.4 211.3" stroke="#0000ff" stroke-width="2.1" fill="none"/><circle cx="855.9" cy="214.8" r="2.6" fill="#0000ff"/>
<path d="M862.5 217.1H872.1M867.3 212.3V221.9M863.8 213.6L870.8 220.6M863.8 220.6L870.8 213.6" stroke="#0000ff" stroke-width="2.1" fill="none"/><circle cx="867.3" cy="217.1" r="2.6" fill="#0000ff"/>
<path d="M867.1 224.0H876.7M871.9 219.2V228.8M868.4 220.5L875.4 227.5M868.4 227.5L875.4 220.5" stroke="#0000ff" stroke-width="2.1" fill="none"/><circle cx="871.9" cy="224.0" r="2.6" fill="#0000ff"/>
<path d="M872.9 229.7H882.5M877.7 224.9V234.5M874.2 226.2L881.2 233.2M874.2 233.2L881.2 226.2" stroke="#0000ff" stroke-width="2.1" fill="none"/><circle cx="877.7" cy="229.7" r="2.6" fill="#0000ff"/>
<path d="M879.7 230.9H889.3M884.5 226.1V235.7M881.0 227.4L888.0 234.4M881.0 234.4L888.0 227.4" stroke="#0000ff" stroke-width="2.1" fill="none"/><circle cx="884.5" cy="230.9" r="2.6" fill="#0000ff"/>
<path d="M872.9 246.9H882.5M877.7 242.1V251.7M874.2 243.4L881.2 250.4M874.2 250.4L881.2 243.4" stroke="#0000ff" stroke-width="2.1" fill="none"/><circle cx="877.7" cy="246.9" r="2.6" fill="#0000ff"/>
<path d="M877.4 256.1H887.0M882.2 251.3V260.9M878.7 252.6L885.7 259.6M878.7 259.6L885.7 252.6" stroke="#0000ff" stroke-width="2.1" fill="none"/><circle cx="882.2" cy="256.1" r="2.6" fill="#0000ff"/>
<path d="M882.0 259.5H891.6M886.8 254.7V264.3M883.3 256.0L890.3 263.0M883.3 263.0L890.3 256.0" stroke="#0000ff" stroke-width="2.1" fill="none"/><circle cx="886.8" cy="259.5" r="2.6" fill="#0000ff"/>
<path d="M660.0 56.5L677.2 63.4L690.9 79.5L697.8 86.3L704.7 100.1L716.2 104.7L727.6 107.0L736.8 125.3L748.3 131.1L762.0 136.8L773.5 143.7L778.1 154.0L796.5 157.5L805.6 155.2L814.8 168.9L837.7 171.2L853.8 180.4L869.9 185.0L888.2 194.2L888.2 258.4" stroke="#00ff00" stroke-width="3.0" fill="none" stroke-linejoin="round"/>
<path d="M655.0 56.5H665.0M660.0 51.5V61.5" stroke="#00ff00" stroke-width="2.7" fill="none"/>
<path d="M672.2 63.4H682.2M677.2 58.4V68.4" stroke="#00ff00" stroke-width="2.7" fill="none"/>
<path d="M685.9 79.5H695.9M690.9 74.5V84.5" stroke="#00ff00" stroke-width="2.7" fill="none"/>
<path d="M692.8 86.3H702.8M697.8 81.3V91.3" stroke="#00ff00" stroke-width="2.7" fill="none"/>
<path d="M699.7 100.1H709.7M704.7 95.1V105.1" stroke="#00ff00" stroke-width="2.7" fill="none"/>
<path d="M711.2 104.7H721.2M716.2 99.7V109.7" stroke="#00ff00" stroke-width="2.7" fill="none"/>
<path d="M722.6 107.0H732.6M727.6 102.0V112.0" stroke="#00ff00" stroke-width="2.7" fill="none"/>
<path d="M731.8 125.3H741.8M736.8 120.3V130.3" stroke="#00ff00" stroke-width="2.7" fill="none"/>
<path d="M743.3 131.1H753.3M748.3 126.1V136.1" stroke="#00ff00" stroke-width="2.7" fill="none"/>
<path d="M757.0 136.8H767.0M762.0 131.8V141.8" stroke="#00ff00" stroke-width="2.7" fill="none"/>
<path d="M768.5 143.7H778.5M773.5 138.7V148.7" stroke="#00ff00" stroke-width="2.7" fill="none"/>
<path d="M773.1 154.0H783.1M778.1 149.0V159.0" stroke="#00ff00" stroke-width="2.7" fill="none"/>
<path d="M791.5 157.5H801.5M796.5 152.5V162.5" stroke="#00ff00" stroke-width="2.7" fill="none"/>
<path d="M800.6 155.2H810.6M805.6 150.2V160.2" stroke="#00ff00" stroke-width="2.7" fill="none"/>
<path d="M809.8 168.9H819.8M814.8 163.9V173.9" stroke="#00ff00" stroke-width="2.7" fill="none"/>
<path d="M832.7 171.2H842.7M837.7 166.2V176.2" stroke="#00ff00" stroke-width="2.7" fill="none"/>
<path d="M848.8 180.4H858.8M853.8 175.4V185.4" stroke="#00ff00" stroke-width="2.7" fill="none"/>
<path d="M864.9 185.0H874.9M869.9 180.0V190.0" stroke="#00ff00" stroke-width="2.7" fill="none"/>
<path d="M883.2 194.2H893.2M888.2 189.2V199.2" stroke="#00ff00" stroke-width="2.7" fill="none"/>
<path d="M883.2 258.4H893.2M888.2 253.4V263.4" stroke="#00ff00" stroke-width="2.7" fill="none"/>
<path d="M609.5 70.3L627.8 70.3L641.6 74.9L643.9 86.3L650.8 92.1L663.4 97.8L688.6 102.4L697.8 111.6L704.7 125.3L713.9 134.5L727.6 143.7L743.7 148.3L750.6 162.0L755.2 170.1L766.6 168.9L785.0 173.5L791.9 193.0L805.6 198.7L824.0 205.6L833.2 206.8L840.0 216.0L849.2 226.3L865.3 227.4L869.9 238.9L879.0 249.2L883.6 265.3L885.9 281.3" stroke="#00ff00" stroke-width="2.0" fill="none" stroke-linejoin="round" stroke-dasharray="6,4"/>
<path d="M604.5 70.3H614.5M609.5 65.3V75.3" stroke="#00ff00" stroke-width="2.0" fill="none"/>
<path d="M622.8 70.3H632.8M627.8 65.3V75.3" stroke="#00ff00" stroke-width="2.0" fill="none"/>
<path d="M636.6 74.9H646.6M641.6 69.9V79.9" stroke="#00ff00" stroke-width="2.0" fill="none"/>
<path d="M638.9 86.3H648.9M643.9 81.3V91.3" stroke="#00ff00" stroke-width="2.0" fill="none"/>
<path d="M645.8 92.1H655.8M650.8 87.1V97.1" stroke="#00ff00" stroke-width="2.0" fill="none"/>
<path d="M658.4 97.8H668.4M663.4 92.8V102.8" stroke="#00ff00" stroke-width="2.0" fill="none"/>
<path d="M683.6 102.4H693.6M688.6 97.4V107.4" stroke="#00ff00" stroke-width="2.0" fill="none"/>
<path d="M692.8 111.6H702.8M697.8 106.6V116.6" stroke="#00ff00" stroke-width="2.0" fill="none"/>
<path d="M699.7 125.3H709.7M704.7 120.3V130.3" stroke="#00ff00" stroke-width="2.0" fill="none"/>
<path d="M708.9 134.5H718.9M713.9 129.5V139.5" stroke="#00ff00" stroke-width="2.0" fill="none"/>
<path d="M722.6 143.7H732.6M727.6 138.7V148.7" stroke="#00ff00" stroke-width="2.0" fill="none"/>
<path d="M738.7 148.3H748.7M743.7 143.3V153.3" stroke="#00ff00" stroke-width="2.0" fill="none"/>
<path d="M745.6 162.0H755.6M750.6 157.0V167.0" stroke="#00ff00" stroke-width="2.0" fill="none"/>
<path d="M750.2 170.1H760.2M755.2 165.1V175.1" stroke="#00ff00" stroke-width="2.0" fill="none"/>
<path d="M761.6 168.9H771.6M766.6 163.9V173.9" stroke="#00ff00" stroke-width="2.0" fill="none"/>
<path d="M780.0 173.5H790.0M785.0 168.5V178.5" stroke="#00ff00" stroke-width="2.0" fill="none"/>
<path d="M786.9 193.0H796.9M791.9 188.0V198.0" stroke="#00ff00" stroke-width="2.0" fill="none"/>
<path d="M800.6 198.7H810.6M805.6 193.7V203.7" stroke="#00ff00" stroke-width="2.0" fill="none"/>
<path d="M819.0 205.6H829.0M824.0 200.6V210.6" stroke="#00ff00" stroke-width="2.0" fill="none"/>
<path d="M828.2 206.8H838.2M833.2 201.8V211.8" stroke="#00ff00" stroke-width="2.0" fill="none"/>
<path d="M835.0 216.0H845.0M840.0 211.0V221.0" stroke="#00ff00" stroke-width="2.0" fill="none"/>
<path d="M844.2 226.3H854.2M849.2 221.3V231.3" stroke="#00ff00" stroke-width="2.0" fill="none"/>
<path d="M860.3 227.4H870.3M865.3 222.4V232.4" stroke="#00ff00" stroke-width="2.0" fill="none"/>
<path d="M864.9 238.9H874.9M869.9 233.9V243.9" stroke="#00ff00" stroke-width="2.0" fill="none"/>
<path d="M874.0 249.2H884.0M879.0 244.2V254.2" stroke="#00ff00" stroke-width="2.0" fill="none"/>
<path d="M878.6 265.3H888.6M883.6 260.3V270.3" stroke="#00ff00" stroke-width="2.0" fill="none"/>
<path d="M880.9 281.3H890.9M885.9 276.3V286.3" stroke="#00ff00" stroke-width="2.0" fill="none"/>
<path d="M672.6 37.0L677.2 45.1L684.1 54.2L685.2 58.8L693.2 76.0L711.6 82.9L713.9 104.7L718.5 108.1L732.2 115.0L741.4 117.3L747.1 127.6L748.3 133.4L773.5 133.4L778.1 141.4L789.6 146.0L798.7 162.0L810.2 164.3L824.0 166.6L837.7 167.8L851.5 168.9L865.3 185.0L874.4 190.7L883.6 194.2L885.9 212.5L888.2 224.0L890.5 246.9L893.9 281.3" stroke="#ff0000" stroke-width="3.2" fill="none" stroke-linejoin="round"/>
<path d="M669.0 33.4L676.2 40.6M669.0 40.6L676.2 33.4" stroke="#ff0000" stroke-width="3.0" fill="none"/>
<path d="M673.6 41.5L680.8 48.7M673.6 48.7L680.8 41.5" stroke="#ff0000" stroke-width="3.0" fill="none"/>
<path d="M680.5 50.6L687.7 57.8M680.5 57.8L687.7 50.6" stroke="#ff0000" stroke-width="3.0" fill="none"/>
<path d="M681.6 55.2L688.8 62.4M681.6 62.4L688.8 55.2" stroke="#ff0000" stroke-width="3.0" fill="none"/>
<path d="M689.6 72.4L696.8 79.6M689.6 79.6L696.8 72.4" stroke="#ff0000" stroke-width="3.0" fill="none"/>
<path d="M708.0 79.3L715.2 86.5M708.0 86.5L715.2 79.3" stroke="#ff0000" stroke-width="3.0" fill="none"/>
<path d="M710.3 101.1L717.5 108.3M710.3 108.3L717.5 101.1" stroke="#ff0000" stroke-width="3.0" fill="none"/>
<path d="M714.9 104.5L722.1 111.7M714.9 111.7L722.1 104.5" stroke="#ff0000" stroke-width="3.0" fill="none"/>
<path d="M728.6 111.4L735.8 118.6M728.6 118.6L735.8 111.4" stroke="#ff0000" stroke-width="3.0" fill="none"/>
<path d="M737.8 113.7L745.0 120.9M737.8 120.9L745.0 113.7" stroke="#ff0000" stroke-width="3.0" fill="none"/>
<path d="M743.5 124.0L750.7 131.2M743.5 131.2L750.7 124.0" stroke="#ff0000" stroke-width="3.0" fill="none"/>
<path d="M744.7 129.8L751.9 137.0M744.7 137.0L751.9 129.8" stroke="#ff0000" stroke-width="3.0" fill="none"/>
<path d="M769.9 129.8L777.1 137.0M769.9 137.0L777.1 129.8" stroke="#ff0000" stroke-width="3.0" fill="none"/>
<path d="M774.5 137.8L781.7 145.0M774.5 145.0L781.7 137.8" stroke="#ff0000" stroke-width="3.0" fill="none"/>
<path d="M786.0 142.4L793.2 149.6M786.0 149.6L793.2 142.4" stroke="#ff0000" stroke-width="3.0" fill="none"/>
<path d="M795.1 158.4L802.3 165.6M795.1 165.6L802.3 158.4" stroke="#ff0000" stroke-width="3.0" fill="none"/>
<path d="M806.6 160.7L813.8 167.9M806.6 167.9L813.8 160.7" stroke="#ff0000" stroke-width="3.0" fill="none"/>
<path d="M820.4 163.0L827.6 170.2M820.4 170.2L827.6 163.0" stroke="#ff0000" stroke-width="3.0" fill="none"/>
<path d="M834.1 164.2L841.3 171.4M834.1 171.4L841.3 164.2" stroke="#ff0000" stroke-width="3.0" fill="none"/>
<path d="M847.9 165.3L855.1 172.5M847.9 172.5L855.1 165.3" stroke="#ff0000" stroke-width="3.0" fill="none"/>
<path d="M861.7 181.4L868.9 188.6M861.7 188.6L868.9 181.4" stroke="#ff0000" stroke-width="3.0" fill="none"/>
<path d="M870.8 187.1L878.0 194.3M870.8 194.3L878.0 187.1" stroke="#ff0000" stroke-width="3.0" fill="none"/>
<path d="M880.0 190.6L887.2 197.8M880.0 197.8L887.2 190.6" stroke="#ff0000" stroke-width="3.0" fill="none"/>
<path d="M882.3 208.9L889.5 216.1M882.3 216.1L889.5 208.9" stroke="#ff0000" stroke-width="3.0" fill="none"/>
<path d="M884.6 220.4L891.8 227.6M884.6 227.6L891.8 220.4" stroke="#ff0000" stroke-width="3.0" fill="none"/>
<path d="M886.9 243.3L894.1 250.5M886.9 250.5L894.1 243.3" stroke="#ff0000" stroke-width="3.0" fill="none"/>
<path d="M890.3 277.7L897.5 284.9M890.3 284.9L897.5 277.7" stroke="#ff0000" stroke-width="3.0" fill="none"/>
<path d="M607.2 61.1L622.1 80.6L626.7 87.5L648.5 103.6L651.9 113.9L670.3 119.6L685.2 132.2L713.9 136.8L727.6 156.3L741.4 157.5L770.1 160.9L772.4 165.5L777.0 178.1L780.4 196.5L811.4 204.5L812.5 219.4L835.4 224.0L836.6 235.5L863.0 237.7L874.4 267.6L877.9 292.8" stroke="#ff0000" stroke-width="2.0" fill="none" stroke-linejoin="round" stroke-dasharray="6,4"/>
<path d="M603.8 57.7L610.6 64.5M603.8 64.5L610.6 57.7" stroke="#ff0000" stroke-width="2.4" fill="none"/>
<path d="M618.7 77.2L625.5 84.0M618.7 84.0L625.5 77.2" stroke="#ff0000" stroke-width="2.4" fill="none"/>
<path d="M623.3 84.1L630.1 90.9M623.3 90.9L630.1 84.1" stroke="#ff0000" stroke-width="2.4" fill="none"/>
<path d="M645.1 100.2L651.9 107.0M645.1 107.0L651.9 100.2" stroke="#ff0000" stroke-width="2.4" fill="none"/>
<path d="M648.5 110.5L655.3 117.3M648.5 117.3L655.3 110.5" stroke="#ff0000" stroke-width="2.4" fill="none"/>
<path d="M666.9 116.2L673.7 123.0M666.9 123.0L673.7 116.2" stroke="#ff0000" stroke-width="2.4" fill="none"/>
<path d="M681.8 128.8L688.6 135.6M681.8 135.6L688.6 128.8" stroke="#ff0000" stroke-width="2.4" fill="none"/>
<path d="M710.5 133.4L717.3 140.2M710.5 140.2L717.3 133.4" stroke="#ff0000" stroke-width="2.4" fill="none"/>
<path d="M724.2 152.9L731.0 159.7M724.2 159.7L731.0 152.9" stroke="#ff0000" stroke-width="2.4" fill="none"/>
<path d="M738.0 154.1L744.8 160.9M738.0 160.9L744.8 154.1" stroke="#ff0000" stroke-width="2.4" fill="none"/>
<path d="M766.7 157.5L773.5 164.3M766.7 164.3L773.5 157.5" stroke="#ff0000" stroke-width="2.4" fill="none"/>
<path d="M769.0 162.1L775.8 168.9M769.0 168.9L775.8 162.1" stroke="#ff0000" stroke-width="2.4" fill="none"/>
<path d="M773.6 174.7L780.4 181.5M773.6 181.5L780.4 174.7" stroke="#ff0000" stroke-width="2.4" fill="none"/>
<path d="M777.0 193.1L783.8 199.9M777.0 199.9L783.8 193.1" stroke="#ff0000" stroke-width="2.4" fill="none"/>
<path d="M808.0 201.1L814.8 207.9M808.0 207.9L814.8 201.1" stroke="#ff0000" stroke-width="2.4" fill="none"/>
<path d="M809.1 216.0L815.9 222.8M809.1 222.8L815.9 216.0" stroke="#ff0000" stroke-width="2.4" fill="none"/>
<path d="M832.0 220.6L838.8 227.4M832.0 227.4L838.8 220.6" stroke="#ff0000" stroke-width="2.4" fill="none"/>
<path d="M833.2 232.1L840.0 238.9M833.2 238.9L840.0 232.1" stroke="#ff0000" stroke-width="2.4" fill="none"/>
<path d="M859.6 234.3L866.4 241.1M859.6 241.1L866.4 234.3" stroke="#ff0000" stroke-width="2.4" fill="none"/>
<path d="M871.0 264.2L877.8 271.0M871.0 271.0L877.8 264.2" stroke="#ff0000" stroke-width="2.4" fill="none"/>
<path d="M874.5 289.4L881.3 296.2M874.5 296.2L881.3 289.4" stroke="#ff0000" stroke-width="2.4" fill="none"/>
</g>
<path d="M598.5 330V326M598.5 32V36M658.5 330V326M658.5 32V36M717.5 330V326M717.5 32V36M777.5 330V326M777.5 32V36M836.5 330V326M836.5 32V36M896.5 330V326M896.5 32V36M599 288.5H603M896 288.5H892M599 245.5H603M896 245.5H892M599 202.5H603M896 202.5H892M599 159.5H603M896 159.5H892M599 117.5H603M896 117.5H892M599 74.5H603M896 74.5H892M599 31.5H603M896 31.5H892" stroke="#262626" stroke-width="1" fill="none"/>
<rect x="598.5" y="31.5" width="298" height="299" stroke="#262626" stroke-width="1" fill="none"/>
<text x="598.5" y="354.0" text-anchor="middle" font-size="18" fill="#1a1a1a">0.4</text>
<text x="658.1" y="354.0" text-anchor="middle" font-size="18" fill="#1a1a1a">0.45</text>
<text x="717.7" y="354.0" text-anchor="middle" font-size="18" fill="#1a1a1a">0.5</text>
<text x="777.3" y="354.0" text-anchor="middle" font-size="18" fill="#1a1a1a">0.55</text>
<text x="836.9" y="354.0" text-anchor="middle" font-size="18" fill="#1a1a1a">0.6</text>
<text x="896.5" y="354.0" text-anchor="middle" font-size="18" fill="#1a1a1a">0.65</text>
<text x="593.5" y="294.7" text-anchor="end" font-size="18" fill="#1a1a1a">1.2</text>
<text x="593.5" y="251.9" text-anchor="end" font-size="18" fill="#1a1a1a">1.4</text>
<text x="593.5" y="209.1" text-anchor="end" font-size="18" fill="#1a1a1a">1.6</text>
<text x="593.5" y="166.3" text-anchor="end" font-size="18" fill="#1a1a1a">1.8</text>
<text x="593.5" y="123.5" text-anchor="end" font-size="18" fill="#1a1a1a">2</text>
<text x="593.5" y="80.7" text-anchor="end" font-size="18" fill="#1a1a1a">2.2</text>
<text x="593.5" y="37.9" text-anchor="end" font-size="18" fill="#1a1a1a">2.4</text>
<text x="747.5" y="378.8" text-anchor="middle" font-size="19.8" fill="#1a1a1a">Effective Cover Rate (ECR)</text>
<text transform="translate(562.5,180.9) rotate(-90)" text-anchor="middle" font-size="19.9" fill="#1a1a1a">Minimum Pr(W/m<tspan font-size="15" dy="-9.5">2</tspan><tspan dy="9.5">)</tspan></text>
<rect x="603.5" y="202.5" width="93" height="123" fill="#fff" stroke="#262626" stroke-width="1"/>
<path d="M605.5 213.1H624.0" stroke="#0000ff" stroke-width="3.0"/>
<circle cx="614.5" cy="213.1" r="5" fill="#0000ff"/>
<text x="625.3" y="219.3" font-size="16" fill="#000">PF-Best</text>
<path d="M605.5 233.4H611.5" stroke="#0000ff" stroke-width="2.0"/>
<path d="M609.7 233.4H619.3M614.5 228.6V238.2M611.0 229.9L618.0 236.9M611.0 236.9L618.0 229.9" stroke="#0000ff" stroke-width="2.1" fill="none"/><circle cx="614.5" cy="233.4" r="2.6" fill="#0000ff"/>
<text x="625.3" y="239.6" font-size="16" fill="#000">PF-Worst</text>
<path d="M605.5 253.7H624.0" stroke="#00ff00" stroke-width="3.0"/>
<path d="M609.5 253.7H619.5M614.5 248.7V258.7" stroke="#00ff00" stroke-width="2.7" fill="none"/>
<text x="625.3" y="259.9" font-size="16" fill="#000">SR-Best</text>
<path d="M605.5 273.9H611.5" stroke="#00ff00" stroke-width="2.0"/>
<path d="M609.5 273.9H619.5M614.5 268.9V278.9" stroke="#00ff00" stroke-width="2.0" fill="none"/>
<text x="625.3" y="280.1" font-size="16" fill="#000">SR-Worst</text>
<path d="M605.5 294.2H624.0" stroke="#ff0000" stroke-width="3.2"/>
<path d="M610.9 290.6L618.1 297.8M610.9 297.8L618.1 290.6" stroke="#ff0000" stroke-width="3.0" fill="none"/>
<text x="625.3" y="300.4" font-size="16" fill="#000">DT-Best</text>
<path d="M605.5 314.5H611.5" stroke="#ff0000" stroke-width="2.0"/>
<path d="M611.1 311.1L617.9 317.9M611.1 317.9L617.9 311.1" stroke="#ff0000" stroke-width="2.4" fill="none"/>
<text x="625.3" y="320.7" font-size="16" fill="#000">DT-Worst</text>
<text transform="translate(477.97,382.74) scale(0.9667,0.9846)" font-family="'Liberation Serif', serif" font-size="44" fill="#000"><tspan>(</tspan><tspan font-weight="bold">e</tspan><tspan>)</tspan></text>
<path d="M623.5 421V715M714.5 421V715M806.5 421V715M603 673.5H897M603 631.5H897M603 588.5H897M603 546.5H897M603 504.5H897M603 462.5H897" stroke="#e1e1e1" stroke-width="1" fill="none"/>
<clipPath id="clipf"><rect x="596.4" y="414.4" width="307.0" height="306.9"/></clipPath>
<g clip-path="url(#clipf)">
<path d="M669.1 451.3L681.8 455.8L693.2 468.5L697.8 473.1L707.0 481.1L727.6 493.7L732.2 512.1L746.0 520.1L762.0 531.5L778.1 539.6L782.7 555.6L798.7 557.9L810.2 568.3L819.4 567.1L830.9 583.2L840.0 590.0L846.9 600.4L846.9 619.9" stroke="#0000ff" stroke-width="3.0" fill="none" stroke-linejoin="round"/>
<circle cx="669.1" cy="451.3" r="5" fill="#0000ff"/>
<circle cx="681.8" cy="455.8" r="5" fill="#0000ff"/>
<circle cx="693.2" cy="468.5" r="5" fill="#0000ff"/>
<circle cx="697.8" cy="473.1" r="5" fill="#0000ff"/>
<circle cx="707.0" cy="481.1" r="5" fill="#0000ff"/>
<circle cx="727.6" cy="493.7" r="5" fill="#0000ff"/>
<circle cx="732.2" cy="512.1" r="5" fill="#0000ff"/>
<circle cx="746.0" cy="520.1" r="5" fill="#0000ff"/>
<circle cx="762.0" cy="531.5" r="5" fill="#0000ff"/>
<circle cx="778.1" cy="539.6" r="5" fill="#0000ff"/>
<circle cx="782.7" cy="555.6" r="5" fill="#0000ff"/>
<circle cx="798.7" cy="557.9" r="5" fill="#0000ff"/>
<circle cx="810.2" cy="568.3" r="5" fill="#0000ff"/>
<circle cx="819.4" cy="567.1" r="5" fill="#0000ff"/>
<circle cx="830.9" cy="583.2" r="5" fill="#0000ff"/>
<circle cx="840.0" cy="590.0" r="5" fill="#0000ff"/>
<circle cx="846.9" cy="600.4" r="5" fill="#0000ff"/>
<circle cx="846.9" cy="619.9" r="5" fill="#0000ff"/>
<path d="M630.1 468.5L649.6 481.1L663.4 492.6L672.6 496.0L686.3 497.1L690.9 507.5L704.7 512.1L709.3 521.2L723.0 528.1L732.2 530.4L746.0 537.3L748.3 551.0L762.0 561.4L773.5 569.4L782.7 571.7L796.5 574.0L803.3 583.2L812.5 592.3L824.0 599.2L835.4 608.4L837.7 619.9L837.7 652.0L844.6 677.2" stroke="#0000ff" stroke-width="2.0" fill="none" stroke-linejoin="round" stroke-dasharray="6,4"/>
<path d="M625.3 468.5H634.9M630.1 463.7V473.3M626.6 465.0L633.6 472.0M626.6 472.0L633.6 465.0" stroke="#0000ff" stroke-width="2.1" fill="none"/><circle cx="630.1" cy="468.5" r="2.6" fill="#0000ff"/>
<path d="M644.8 481.1H654.4M649.6 476.3V485.9M646.1 477.6L653.1 484.6M646.1 484.6L653.1 477.6" stroke="#0000ff" stroke-width="2.1" fill="none"/><circle cx="649.6" cy="481.1" r="2.6" fill="#0000ff"/>
<path d="M658.6 492.6H668.2M663.4 487.8V497.4M659.9 489.1L666.9 496.1M659.9 496.1L666.9 489.1" stroke="#0000ff" stroke-width="2.1" fill="none"/><circle cx="663.4" cy="492.6" r="2.6" fill="#0000ff"/>
<path d="M667.8 496.0H677.4M672.6 491.2V500.8M669.1 492.5L676.1 499.5M669.1 499.5L676.1 492.5" stroke="#0000ff" stroke-width="2.1" fill="none"/><circle cx="672.6" cy="496.0" r="2.6" fill="#0000ff"/>
<path d="M681.5 497.1H691.1M686.3 492.3V501.9M682.8 493.6L689.8 500.6M682.8 500.6L689.8 493.6" stroke="#0000ff" stroke-width="2.1" fill="none"/><circle cx="686.3" cy="497.1" r="2.6" fill="#0000ff"/>
<path d="M686.1 507.5H695.7M690.9 502.7V512.3M687.4 504.0L694.4 511.0M687.4 511.0L694.4 504.0" stroke="#0000ff" stroke-width="2.1" fill="none"/><circle cx="690.9" cy="507.5" r="2.6" fill="#0000ff"/>
<path d="M699.9 512.1H709.5M704.7 507.3V516.9M701.2 508.6L708.2 515.6M701.2 515.6L708.2 508.6" stroke="#0000ff" stroke-width="2.1" fill="none"/><circle cx="704.7" cy="512.1" r="2.6" fill="#0000ff"/>
<path d="M704.5 521.2H714.1M709.3 516.4V526.0M705.8 517.7L712.8 524.7M705.8 524.7L712.8 517.7" stroke="#0000ff" stroke-width="2.1" fill="none"/><circle cx="709.3" cy="521.2" r="2.6" fill="#0000ff"/>
<path d="M718.2 528.1H727.8M723.0 523.3V532.9M719.5 524.6L726.5 531.6M719.5 531.6L726.5 524.6" stroke="#0000ff" stroke-width="2.1" fill="none"/><circle cx="723.0" cy="528.1" r="2.6" fill="#0000ff"/>
<path d="M727.4 530.4H737.0M732.2 525.6V535.2M728.7 526.9L735.7 533.9M728.7 533.9L735.7 526.9" stroke="#0000ff" stroke-width="2.1" fill="none"/><circle cx="732.2" cy="530.4" r="2.6" fill="#0000ff"/>
<path d="M741.2 537.3H750.8M746.0 532.5V542.1M742.5 533.8L749.5 540.8M742.5 540.8L749.5 533.8" stroke="#0000ff" stroke-width="2.1" fill="none"/><circle cx="746.0" cy="537.3" r="2.6" fill="#0000ff"/>
<path d="M743.5 551.0H753.1M748.3 546.2V555.8M744.8 547.5L751.8 554.5M744.8 554.5L751.8 547.5" stroke="#0000ff" stroke-width="2.1" fill="none"/><circle cx="748.3" cy="551.0" r="2.6" fill="#0000ff"/>
<path d="M757.2 561.4H766.8M762.0 556.6V566.2M758.5 557.9L765.5 564.9M758.5 564.9L765.5 557.9" stroke="#0000ff" stroke-width="2.1" fill="none"/><circle cx="762.0" cy="561.4" r="2.6" fill="#0000ff"/>
<path d="M768.7 569.4H778.3M773.5 564.6V574.2M770.0 565.9L777.0 572.9M770.0 572.9L777.0 565.9" stroke="#0000ff" stroke-width="2.1" fill="none"/><circle cx="773.5" cy="569.4" r="2.6" fill="#0000ff"/>
<path d="M777.9 571.7H787.5M782.7 566.9V576.5M779.2 568.2L786.2 575.2M779.2 575.2L786.2 568.2" stroke="#0000ff" stroke-width="2.1" fill="none"/><circle cx="782.7" cy="571.7" r="2.6" fill="#0000ff"/>
<path d="M791.7 574.0H801.3M796.5 569.2V578.8M793.0 570.5L800.0 577.5M793.0 577.5L800.0 570.5" stroke="#0000ff" stroke-width="2.1" fill="none"/><circle cx="796.5" cy="574.0" r="2.6" fill="#0000ff"/>
<path d="M798.5 583.2H808.1M803.3 578.4V588.0M799.8 579.7L806.8 586.7M799.8 586.7L806.8 579.7" stroke="#0000ff" stroke-width="2.1" fill="none"/><circle cx="803.3" cy="583.2" r="2.6" fill="#0000ff"/>
<path d="M807.7 592.3H817.3M812.5 587.5V597.1M809.0 588.8L816.0 595.8M809.0 595.8L816.0 588.8" stroke="#0000ff" stroke-width="2.1" fill="none"/><circle cx="812.5" cy="592.3" r="2.6" fill="#0000ff"/>
<path d="M819.2 599.2H828.8M824.0 594.4V604.0M820.5 595.7L827.5 602.7M820.5 602.7L827.5 595.7" stroke="#0000ff" stroke-width="2.1" fill="none"/><circle cx="824.0" cy="599.2" r="2.6" fill="#0000ff"/>
<path d="M830.6 608.4H840.2M835.4 603.6V613.2M831.9 604.9L838.9 611.9M831.9 611.9L838.9 604.9" stroke="#0000ff" stroke-width="2.1" fill="none"/><circle cx="835.4" cy="608.4" r="2.6" fill="#0000ff"/>
<path d="M832.9 619.9H842.5M837.7 615.1V624.7M834.2 616.4L841.2 623.4M834.2 623.4L841.2 616.4" stroke="#0000ff" stroke-width="2.1" fill="none"/><circle cx="837.7" cy="619.9" r="2.6" fill="#0000ff"/>
<path d="M832.9 652.0H842.5M837.7 647.2V656.8M834.2 648.5L841.2 655.5M834.2 655.5L841.2 648.5" stroke="#0000ff" stroke-width="2.1" fill="none"/><circle cx="837.7" cy="652.0" r="2.6" fill="#0000ff"/>
<path d="M839.8 677.2H849.4M844.6 672.4V682.0M841.1 673.7L848.1 680.7M841.1 680.7L848.1 673.7" stroke="#0000ff" stroke-width="2.1" fill="none"/><circle cx="844.6" cy="677.2" r="2.6" fill="#0000ff"/>
<path d="M666.8 432.9L677.2 443.2L690.9 457.0L702.4 466.2L715.0 479.9L723.0 493.7L732.2 505.2L741.4 509.8L766.6 525.8L773.5 543.0L787.3 551.0L801.0 560.2L819.4 570.5L833.2 578.6L841.2 599.2L844.6 603.8" stroke="#00ff00" stroke-width="3.0" fill="none" stroke-linejoin="round"/>
<path d="M661.8 432.9H671.8M666.8 427.9V437.9" stroke="#00ff00" stroke-width="2.7" fill="none"/>
<path d="M672.2 443.2H682.2M677.2 438.2V448.2" stroke="#00ff00" stroke-width="2.7" fill="none"/>
<path d="M685.9 457.0H695.9M690.9 452.0V462.0" stroke="#00ff00" stroke-width="2.7" fill="none"/>
<path d="M697.4 466.2H707.4M702.4 461.2V471.2" stroke="#00ff00" stroke-width="2.7" fill="none"/>
<path d="M710.0 479.9H720.0M715.0 474.9V484.9" stroke="#00ff00" stroke-width="2.7" fill="none"/>
<path d="M718.0 493.7H728.0M723.0 488.7V498.7" stroke="#00ff00" stroke-width="2.7" fill="none"/>
<path d="M727.2 505.2H737.2M732.2 500.2V510.2" stroke="#00ff00" stroke-width="2.7" fill="none"/>
<path d="M736.4 509.8H746.4M741.4 504.8V514.8" stroke="#00ff00" stroke-width="2.7" fill="none"/>
<path d="M761.6 525.8H771.6M766.6 520.8V530.8" stroke="#00ff00" stroke-width="2.7" fill="none"/>
<path d="M768.5 543.0H778.5M773.5 538.0V548.0" stroke="#00ff00" stroke-width="2.7" fill="none"/>
<path d="M782.3 551.0H792.3M787.3 546.0V556.0" stroke="#00ff00" stroke-width="2.7" fill="none"/>
<path d="M796.0 560.2H806.0M801.0 555.2V565.2" stroke="#00ff00" stroke-width="2.7" fill="none"/>
<path d="M814.4 570.5H824.4M819.4 565.5V575.5" stroke="#00ff00" stroke-width="2.7" fill="none"/>
<path d="M828.2 578.6H838.2M833.2 573.6V583.6" stroke="#00ff00" stroke-width="2.7" fill="none"/>
<path d="M836.2 599.2H846.2M841.2 594.2V604.2" stroke="#00ff00" stroke-width="2.7" fill="none"/>
<path d="M839.6 603.8H849.6M844.6 598.8V608.8" stroke="#00ff00" stroke-width="2.7" fill="none"/>
<path d="M601.5 478.8L612.9 481.1L640.5 489.1L672.6 490.3L686.3 502.9L695.5 510.9L709.3 523.5L720.8 535.0L736.8 537.3L743.7 552.2L757.5 553.3L771.2 555.6L782.7 564.8L796.5 578.6L798.7 594.6L810.2 599.2L826.3 606.1L832.0 622.2L834.3 640.5L836.6 661.2L837.7 684.1" stroke="#00ff00" stroke-width="2.0" fill="none" stroke-linejoin="round" stroke-dasharray="6,4"/>
<path d="M596.5 478.8H606.5M601.5 473.8V483.8" stroke="#00ff00" stroke-width="2.0" fill="none"/>
<path d="M607.9 481.1H617.9M612.9 476.1V486.1" stroke="#00ff00" stroke-width="2.0" fill="none"/>
<path d="M635.5 489.1H645.5M640.5 484.1V494.1" stroke="#00ff00" stroke-width="2.0" fill="none"/>
<path d="M667.6 490.3H677.6M672.6 485.3V495.3" stroke="#00ff00" stroke-width="2.0" fill="none"/>
<path d="M681.3 502.9H691.3M686.3 497.9V507.9" stroke="#00ff00" stroke-width="2.0" fill="none"/>
<path d="M690.5 510.9H700.5M695.5 505.9V515.9" stroke="#00ff00" stroke-width="2.0" fill="none"/>
<path d="M704.3 523.5H714.3M709.3 518.5V528.5" stroke="#00ff00" stroke-width="2.0" fill="none"/>
<path d="M715.8 535.0H725.8M720.8 530.0V540.0" stroke="#00ff00" stroke-width="2.0" fill="none"/>
<path d="M731.8 537.3H741.8M736.8 532.3V542.3" stroke="#00ff00" stroke-width="2.0" fill="none"/>
<path d="M738.7 552.2H748.7M743.7 547.2V557.2" stroke="#00ff00" stroke-width="2.0" fill="none"/>
<path d="M752.5 553.3H762.5M757.5 548.3V558.3" stroke="#00ff00" stroke-width="2.0" fill="none"/>
<path d="M766.2 555.6H776.2M771.2 550.6V560.6" stroke="#00ff00" stroke-width="2.0" fill="none"/>
<path d="M777.7 564.8H787.7M782.7 559.8V569.8" stroke="#00ff00" stroke-width="2.0" fill="none"/>
<path d="M791.5 578.6H801.5M796.5 573.6V583.6" stroke="#00ff00" stroke-width="2.0" fill="none"/>
<path d="M793.7 594.6H803.7M798.7 589.6V599.6" stroke="#00ff00" stroke-width="2.0" fill="none"/>
<path d="M805.2 599.2H815.2M810.2 594.2V604.2" stroke="#00ff00" stroke-width="2.0" fill="none"/>
<path d="M821.3 606.1H831.3M826.3 601.1V611.1" stroke="#00ff00" stroke-width="2.0" fill="none"/>
<path d="M827.0 622.2H837.0M832.0 617.2V627.2" stroke="#00ff00" stroke-width="2.0" fill="none"/>
<path d="M829.3 640.5H839.3M834.3 635.5V645.5" stroke="#00ff00" stroke-width="2.0" fill="none"/>
<path d="M831.6 661.2H841.6M836.6 656.2V666.2" stroke="#00ff00" stroke-width="2.0" fill="none"/>
<path d="M832.7 684.1H842.7M837.7 679.1V689.1" stroke="#00ff00" stroke-width="2.0" fill="none"/>
<path d="M668.0 434.1L671.4 437.5L677.2 446.7L686.3 450.1L693.2 452.4L697.8 455.8L713.9 467.3L718.5 484.5L727.6 496.0L732.2 505.2L746.0 516.6L759.7 530.4L771.2 532.7L780.4 533.8L794.2 549.9L797.6 561.4L810.2 564.8L826.3 567.1L833.2 580.9L842.3 587.7L843.5 608.4L845.8 656.6" stroke="#ff0000" stroke-width="3.2" fill="none" stroke-linejoin="round"/>
<path d="M664.4 430.5L671.6 437.7M664.4 437.7L671.6 430.5" stroke="#ff0000" stroke-width="3.0" fill="none"/>
<path d="M667.8 433.9L675.0 441.1M667.8 441.1L675.0 433.9" stroke="#ff0000" stroke-width="3.0" fill="none"/>
<path d="M673.6 443.1L680.8 450.3M673.6 450.3L680.8 443.1" stroke="#ff0000" stroke-width="3.0" fill="none"/>
<path d="M682.7 446.5L689.9 453.7M682.7 453.7L689.9 446.5" stroke="#ff0000" stroke-width="3.0" fill="none"/>
<path d="M689.6 448.8L696.8 456.0M689.6 456.0L696.8 448.8" stroke="#ff0000" stroke-width="3.0" fill="none"/>
<path d="M694.2 452.2L701.4 459.4M694.2 459.4L701.4 452.2" stroke="#ff0000" stroke-width="3.0" fill="none"/>
<path d="M710.3 463.7L717.5 470.9M710.3 470.9L717.5 463.7" stroke="#ff0000" stroke-width="3.0" fill="none"/>
<path d="M714.9 480.9L722.1 488.1M714.9 488.1L722.1 480.9" stroke="#ff0000" stroke-width="3.0" fill="none"/>
<path d="M724.0 492.4L731.2 499.6M724.0 499.6L731.2 492.4" stroke="#ff0000" stroke-width="3.0" fill="none"/>
<path d="M728.6 501.6L735.8 508.8M728.6 508.8L735.8 501.6" stroke="#ff0000" stroke-width="3.0" fill="none"/>
<path d="M742.4 513.0L749.6 520.2M742.4 520.2L749.6 513.0" stroke="#ff0000" stroke-width="3.0" fill="none"/>
<path d="M756.1 526.8L763.3 534.0M756.1 534.0L763.3 526.8" stroke="#ff0000" stroke-width="3.0" fill="none"/>
<path d="M767.6 529.1L774.8 536.3M767.6 536.3L774.8 529.1" stroke="#ff0000" stroke-width="3.0" fill="none"/>
<path d="M776.8 530.2L784.0 537.4M776.8 537.4L784.0 530.2" stroke="#ff0000" stroke-width="3.0" fill="none"/>
<path d="M790.6 546.3L797.8 553.5M790.6 553.5L797.8 546.3" stroke="#ff0000" stroke-width="3.0" fill="none"/>
<path d="M794.0 557.8L801.2 565.0M794.0 565.0L801.2 557.8" stroke="#ff0000" stroke-width="3.0" fill="none"/>
<path d="M806.6 561.2L813.8 568.4M806.6 568.4L813.8 561.2" stroke="#ff0000" stroke-width="3.0" fill="none"/>
<path d="M822.7 563.5L829.9 570.7M822.7 570.7L829.9 563.5" stroke="#ff0000" stroke-width="3.0" fill="none"/>
<path d="M829.6 577.3L836.8 584.5M829.6 584.5L836.8 577.3" stroke="#ff0000" stroke-width="3.0" fill="none"/>
<path d="M838.7 584.1L845.9 591.3M838.7 591.3L845.9 584.1" stroke="#ff0000" stroke-width="3.0" fill="none"/>
<path d="M839.9 604.8L847.1 612.0M839.9 612.0L847.1 604.8" stroke="#ff0000" stroke-width="3.0" fill="none"/>
<path d="M842.2 653.0L849.4 660.2M842.2 660.2L849.4 653.0" stroke="#ff0000" stroke-width="3.0" fill="none"/>
<path d="M638.2 447.8L647.3 453.6L649.6 465.0L665.7 467.3L673.7 474.2L688.6 483.4L694.4 499.4L705.8 504.0L715.0 509.8L723.0 516.6L734.5 530.4L742.5 544.2L750.6 551.0L757.5 552.2L762.0 560.2L764.3 569.4L780.4 576.3L791.9 583.2L798.7 588.9L805.6 592.3L814.8 601.5L828.6 606.1L837.7 619.9L838.9 635.9L841.2 665.7" stroke="#ff0000" stroke-width="2.0" fill="none" stroke-linejoin="round" stroke-dasharray="6,4"/>
<path d="M634.8 444.4L641.6 451.2M634.8 451.2L641.6 444.4" stroke="#ff0000" stroke-width="2.4" fill="none"/>
<path d="M643.9 450.2L650.7 457.0M643.9 457.0L650.7 450.2" stroke="#ff0000" stroke-width="2.4" fill="none"/>
<path d="M646.2 461.6L653.0 468.4M646.2 468.4L653.0 461.6" stroke="#ff0000" stroke-width="2.4" fill="none"/>
<path d="M662.3 463.9L669.1 470.7M662.3 470.7L669.1 463.9" stroke="#ff0000" stroke-width="2.4" fill="none"/>
<path d="M670.3 470.8L677.1 477.6M670.3 477.6L677.1 470.8" stroke="#ff0000" stroke-width="2.4" fill="none"/>
<path d="M685.2 480.0L692.0 486.8M685.2 486.8L692.0 480.0" stroke="#ff0000" stroke-width="2.4" fill="none"/>
<path d="M691.0 496.0L697.8 502.8M691.0 502.8L697.8 496.0" stroke="#ff0000" stroke-width="2.4" fill="none"/>
<path d="M702.4 500.6L709.2 507.4M702.4 507.4L709.2 500.6" stroke="#ff0000" stroke-width="2.4" fill="none"/>
<path d="M711.6 506.4L718.4 513.2M711.6 513.2L718.4 506.4" stroke="#ff0000" stroke-width="2.4" fill="none"/>
<path d="M719.6 513.2L726.4 520.0M719.6 520.0L726.4 513.2" stroke="#ff0000" stroke-width="2.4" fill="none"/>
<path d="M731.1 527.0L737.9 533.8M731.1 533.8L737.9 527.0" stroke="#ff0000" stroke-width="2.4" fill="none"/>
<path d="M739.1 540.8L745.9 547.6M739.1 547.6L745.9 540.8" stroke="#ff0000" stroke-width="2.4" fill="none"/>
<path d="M747.2 547.6L754.0 554.4M747.2 554.4L754.0 547.6" stroke="#ff0000" stroke-width="2.4" fill="none"/>
<path d="M754.1 548.8L760.9 555.6M754.1 555.6L760.9 548.8" stroke="#ff0000" stroke-width="2.4" fill="none"/>
<path d="M758.6 556.8L765.4 563.6M758.6 563.6L765.4 556.8" stroke="#ff0000" stroke-width="2.4" fill="none"/>
<path d="M760.9 566.0L767.7 572.8M760.9 572.8L767.7 566.0" stroke="#ff0000" stroke-width="2.4" fill="none"/>
<path d="M777.0 572.9L783.8 579.7M777.0 579.7L783.8 572.9" stroke="#ff0000" stroke-width="2.4" fill="none"/>
<path d="M788.5 579.8L795.3 586.6M788.5 586.6L795.3 579.8" stroke="#ff0000" stroke-width="2.4" fill="none"/>
<path d="M795.3 585.5L802.1 592.3M795.3 592.3L802.1 585.5" stroke="#ff0000" stroke-width="2.4" fill="none"/>
<path d="M802.2 588.9L809.0 595.7M802.2 595.7L809.0 588.9" stroke="#ff0000" stroke-width="2.4" fill="none"/>
<path d="M811.4 598.1L818.2 604.9M811.4 604.9L818.2 598.1" stroke="#ff0000" stroke-width="2.4" fill="none"/>
<path d="M825.2 602.7L832.0 609.5M825.2 609.5L832.0 602.7" stroke="#ff0000" stroke-width="2.4" fill="none"/>
<path d="M834.3 616.5L841.1 623.3M834.3 623.3L841.1 616.5" stroke="#ff0000" stroke-width="2.4" fill="none"/>
<path d="M835.5 632.5L842.3 639.3M835.5 639.3L842.3 632.5" stroke="#ff0000" stroke-width="2.4" fill="none"/>
<path d="M837.8 662.3L844.6 669.1M837.8 669.1L844.6 662.3" stroke="#ff0000" stroke-width="2.4" fill="none"/>
</g>
<path d="M623.5 715V711M623.5 421V425M714.5 715V711M714.5 421V425M806.5 715V711M806.5 421V425M897.5 715V711M897.5 421V425M603 715.5H607M897 715.5H893M603 673.5H607M897 673.5H893M603 631.5H607M897 631.5H893M603 588.5H607M897 588.5H893M603 546.5H607M897 546.5H893M603 504.5H607M897 504.5H893M603 462.5H607M897 462.5H893M603 420.5H607M897 420.5H893" stroke="#262626" stroke-width="1" fill="none"/>
<rect x="602.5" y="420.5" width="295" height="295" stroke="#262626" stroke-width="1" fill="none"/>
<text x="623.4" y="737.9" text-anchor="middle" font-size="18" fill="#1a1a1a">0.4</text>
<text x="714.7" y="737.9" text-anchor="middle" font-size="18" fill="#1a1a1a">0.5</text>
<text x="806.1" y="737.9" text-anchor="middle" font-size="18" fill="#1a1a1a">0.6</text>
<text x="897.4" y="737.9" text-anchor="middle" font-size="18" fill="#1a1a1a">0.7</text>
<text x="597.4" y="721.7" text-anchor="end" font-size="18" fill="#1a1a1a">1</text>
<text x="597.4" y="679.6" text-anchor="end" font-size="18" fill="#1a1a1a">1.2</text>
<text x="597.4" y="637.4" text-anchor="end" font-size="18" fill="#1a1a1a">1.4</text>
<text x="597.4" y="595.3" text-anchor="end" font-size="18" fill="#1a1a1a">1.6</text>
<text x="597.4" y="553.2" text-anchor="end" font-size="18" fill="#1a1a1a">1.8</text>
<text x="597.4" y="511.1" text-anchor="end" font-size="18" fill="#1a1a1a">2</text>
<text x="597.4" y="468.9" text-anchor="end" font-size="18" fill="#1a1a1a">2.2</text>
<text x="597.4" y="426.8" text-anchor="end" font-size="18" fill="#1a1a1a">2.4</text>
<text x="749.9" y="762.7" text-anchor="middle" font-size="19.6" fill="#1a1a1a">Effective Cover Rate (ECR)</text>
<text transform="translate(566.4,567.8) rotate(-90)" text-anchor="middle" font-size="19.7" fill="#1a1a1a">Minimum Pr(W/m<tspan font-size="15" dy="-9.5">2</tspan><tspan dy="9.5">)</tspan></text>
<rect x="607.5" y="588.5" width="93" height="122" fill="#fff" stroke="#262626" stroke-width="1"/>
<path d="M609.4 598.8H627.9" stroke="#0000ff" stroke-width="3.0"/>
<circle cx="618.4" cy="598.8" r="5" fill="#0000ff"/>
<text x="629.2" y="605.0" font-size="16" fill="#000">PF-Best</text>
<path d="M609.4 619.1H615.4" stroke="#0000ff" stroke-width="2.0"/>
<path d="M613.6 619.1H623.2M618.4 614.3V623.9M614.9 615.6L621.9 622.6M614.9 622.6L621.9 615.6" stroke="#0000ff" stroke-width="2.1" fill="none"/><circle cx="618.4" cy="619.1" r="2.6" fill="#0000ff"/>
<text x="629.2" y="625.3" font-size="16" fill="#000">PF-Worst</text>
<path d="M609.4 639.4H627.9" stroke="#00ff00" stroke-width="3.0"/>
<path d="M613.4 639.4H623.4M618.4 634.4V644.4" stroke="#00ff00" stroke-width="2.7" fill="none"/>
<text x="629.2" y="645.6" font-size="16" fill="#000">SR-Best</text>
<path d="M609.4 659.6H615.4" stroke="#00ff00" stroke-width="2.0"/>
<path d="M613.4 659.6H623.4M618.4 654.6V664.6" stroke="#00ff00" stroke-width="2.0" fill="none"/>
<text x="629.2" y="665.8" font-size="16" fill="#000">SR-Worst</text>
<path d="M609.4 679.9H627.9" stroke="#ff0000" stroke-width="3.2"/>
<path d="M614.8 676.3L622.0 683.5M614.8 683.5L622.0 676.3" stroke="#ff0000" stroke-width="3.0" fill="none"/>
<text x="629.2" y="686.1" font-size="16" fill="#000">DT-Best</text>
<path d="M609.4 700.2H615.4" stroke="#ff0000" stroke-width="2.0"/>
<path d="M615.0 696.8L621.8 703.6M615.0 703.6L621.8 696.8" stroke="#ff0000" stroke-width="2.4" fill="none"/>
<text x="629.2" y="706.4" font-size="16" fill="#000">DT-Worst</text>
<text transform="translate(488.00,767.10) scale(0.9525,0.9775)" font-family="'Liberation Serif', serif" font-size="44" fill="#000"><tspan>(</tspan><tspan font-weight="bold">f</tspan><tspan>)</tspan></text>
<path d="M668.5 807V1101M743.5 807V1101M818.5 807V1101M594 1052.5H893M594 1003.5H893M594 953.5H893M594 904.5H893M594 855.5H893" stroke="#e1e1e1" stroke-width="1" fill="none"/>
<clipPath id="clipg"><rect x="587.5" y="800.5" width="312.20000000000005" height="306.9000000000001"/></clipPath>
<g clip-path="url(#clipg)">
<path d="M706.6 832.8L713.5 839.7L724.9 864.9L729.5 878.7L736.4 883.3L755.9 885.6L757.0 903.9L768.5 909.7L777.7 924.6L782.3 945.2L786.9 947.5L800.6 954.4L812.1 963.6L823.6 973.9L838.5 977.3L844.2 991.1L848.8 1002.6L852.2 1023.2" stroke="#0000ff" stroke-width="3.0" fill="none" stroke-linejoin="round"/>
<circle cx="706.6" cy="832.8" r="5" fill="#0000ff"/>
<circle cx="713.5" cy="839.7" r="5" fill="#0000ff"/>
<circle cx="724.9" cy="864.9" r="5" fill="#0000ff"/>
<circle cx="729.5" cy="878.7" r="5" fill="#0000ff"/>
<circle cx="736.4" cy="883.3" r="5" fill="#0000ff"/>
<circle cx="755.9" cy="885.6" r="5" fill="#0000ff"/>
<circle cx="757.0" cy="903.9" r="5" fill="#0000ff"/>
<circle cx="768.5" cy="909.7" r="5" fill="#0000ff"/>
<circle cx="777.7" cy="924.6" r="5" fill="#0000ff"/>
<circle cx="782.3" cy="945.2" r="5" fill="#0000ff"/>
<circle cx="786.9" cy="947.5" r="5" fill="#0000ff"/>
<circle cx="800.6" cy="954.4" r="5" fill="#0000ff"/>
<circle cx="812.1" cy="963.6" r="5" fill="#0000ff"/>
<circle cx="823.6" cy="973.9" r="5" fill="#0000ff"/>
<circle cx="838.5" cy="977.3" r="5" fill="#0000ff"/>
<circle cx="844.2" cy="991.1" r="5" fill="#0000ff"/>
<circle cx="848.8" cy="1002.6" r="5" fill="#0000ff"/>
<circle cx="852.2" cy="1023.2" r="5" fill="#0000ff"/>
<path d="M679.1 887.9L720.3 906.2L731.8 910.8L734.1 917.7L741.0 936.0L754.7 963.6L763.9 967.0L766.2 981.9L768.5 999.1L792.6 1006.0L825.9 1010.6L827.0 1030.1L828.2 1063.4L837.3 1064.5L839.6 1079.4L845.4 1092.0" stroke="#0000ff" stroke-width="2.0" fill="none" stroke-linejoin="round" stroke-dasharray="6,4"/>
<path d="M674.3 887.9H683.9M679.1 883.1V892.7M675.6 884.4L682.6 891.4M675.6 891.4L682.6 884.4" stroke="#0000ff" stroke-width="2.1" fill="none"/><circle cx="679.1" cy="887.9" r="2.6" fill="#0000ff"/>
<path d="M715.5 906.2H725.1M720.3 901.4V911.0M716.8 902.7L723.8 909.7M716.8 909.7L723.8 902.7" stroke="#0000ff" stroke-width="2.1" fill="none"/><circle cx="720.3" cy="906.2" r="2.6" fill="#0000ff"/>
<path d="M727.0 910.8H736.6M731.8 906.0V915.6M728.3 907.3L735.3 914.3M728.3 914.3L735.3 907.3" stroke="#0000ff" stroke-width="2.1" fill="none"/><circle cx="731.8" cy="910.8" r="2.6" fill="#0000ff"/>
<path d="M729.3 917.7H738.9M734.1 912.9V922.5M730.6 914.2L737.6 921.2M730.6 921.2L737.6 914.2" stroke="#0000ff" stroke-width="2.1" fill="none"/><circle cx="734.1" cy="917.7" r="2.6" fill="#0000ff"/>
<path d="M736.2 936.0H745.8M741.0 931.2V940.8M737.5 932.5L744.5 939.5M737.5 939.5L744.5 932.5" stroke="#0000ff" stroke-width="2.1" fill="none"/><circle cx="741.0" cy="936.0" r="2.6" fill="#0000ff"/>
<path d="M749.9 963.6H759.5M754.7 958.8V968.4M751.2 960.1L758.2 967.1M751.2 967.1L758.2 960.1" stroke="#0000ff" stroke-width="2.1" fill="none"/><circle cx="754.7" cy="963.6" r="2.6" fill="#0000ff"/>
<path d="M759.1 967.0H768.7M763.9 962.2V971.8M760.4 963.5L767.4 970.5M760.4 970.5L767.4 963.5" stroke="#0000ff" stroke-width="2.1" fill="none"/><circle cx="763.9" cy="967.0" r="2.6" fill="#0000ff"/>
<path d="M761.4 981.9H771.0M766.2 977.1V986.7M762.7 978.4L769.7 985.4M762.7 985.4L769.7 978.4" stroke="#0000ff" stroke-width="2.1" fill="none"/><circle cx="766.2" cy="981.9" r="2.6" fill="#0000ff"/>
<path d="M763.7 999.1H773.3M768.5 994.3V1003.9M765.0 995.6L772.0 1002.6M765.0 1002.6L772.0 995.6" stroke="#0000ff" stroke-width="2.1" fill="none"/><circle cx="768.5" cy="999.1" r="2.6" fill="#0000ff"/>
<path d="M787.8 1006.0H797.4M792.6 1001.2V1010.8M789.1 1002.5L796.1 1009.5M789.1 1009.5L796.1 1002.5" stroke="#0000ff" stroke-width="2.1" fill="none"/><circle cx="792.6" cy="1006.0" r="2.6" fill="#0000ff"/>
<path d="M821.1 1010.6H830.7M825.9 1005.8V1015.4M822.4 1007.1L829.4 1014.1M822.4 1014.1L829.4 1007.1" stroke="#0000ff" stroke-width="2.1" fill="none"/><circle cx="825.9" cy="1010.6" r="2.6" fill="#0000ff"/>
<path d="M822.2 1030.1H831.8M827.0 1025.3V1034.9M823.5 1026.6L830.5 1033.6M823.5 1033.6L830.5 1026.6" stroke="#0000ff" stroke-width="2.1" fill="none"/><circle cx="827.0" cy="1030.1" r="2.6" fill="#0000ff"/>
<path d="M823.4 1063.4H833.0M828.2 1058.6V1068.2M824.7 1059.9L831.7 1066.9M824.7 1066.9L831.7 1059.9" stroke="#0000ff" stroke-width="2.1" fill="none"/><circle cx="828.2" cy="1063.4" r="2.6" fill="#0000ff"/>
<path d="M832.5 1064.5H842.1M837.3 1059.7V1069.3M833.8 1061.0L840.8 1068.0M833.8 1068.0L840.8 1061.0" stroke="#0000ff" stroke-width="2.1" fill="none"/><circle cx="837.3" cy="1064.5" r="2.6" fill="#0000ff"/>
<path d="M834.8 1079.4H844.4M839.6 1074.6V1084.2M836.1 1075.9L843.1 1082.9M836.1 1082.9L843.1 1075.9" stroke="#0000ff" stroke-width="2.1" fill="none"/><circle cx="839.6" cy="1079.4" r="2.6" fill="#0000ff"/>
<path d="M840.6 1092.0H850.2M845.4 1087.2V1096.8M841.9 1088.5L848.9 1095.5M841.9 1095.5L848.9 1088.5" stroke="#0000ff" stroke-width="2.1" fill="none"/><circle cx="845.4" cy="1092.0" r="2.6" fill="#0000ff"/>
<path d="M707.7 839.7L718.0 848.9L727.2 858.1L731.8 890.2L743.3 892.5L750.2 906.2L761.6 922.3L775.4 939.5L782.3 944.1L800.6 947.5L812.1 953.3L816.7 963.6L825.9 977.3L835.0 993.4L844.2 1023.2L851.1 1041.6" stroke="#00ff00" stroke-width="3.0" fill="none" stroke-linejoin="round"/>
<path d="M702.7 839.7H712.7M707.7 834.7V844.7" stroke="#00ff00" stroke-width="2.7" fill="none"/>
<path d="M713.0 848.9H723.0M718.0 843.9V853.9" stroke="#00ff00" stroke-width="2.7" fill="none"/>
<path d="M722.2 858.1H732.2M727.2 853.1V863.1" stroke="#00ff00" stroke-width="2.7" fill="none"/>
<path d="M726.8 890.2H736.8M731.8 885.2V895.2" stroke="#00ff00" stroke-width="2.7" fill="none"/>
<path d="M738.3 892.5H748.3M743.3 887.5V897.5" stroke="#00ff00" stroke-width="2.7" fill="none"/>
<path d="M745.2 906.2H755.2M750.2 901.2V911.2" stroke="#00ff00" stroke-width="2.7" fill="none"/>
<path d="M756.6 922.3H766.6M761.6 917.3V927.3" stroke="#00ff00" stroke-width="2.7" fill="none"/>
<path d="M770.4 939.5H780.4M775.4 934.5V944.5" stroke="#00ff00" stroke-width="2.7" fill="none"/>
<path d="M777.3 944.1H787.3M782.3 939.1V949.1" stroke="#00ff00" stroke-width="2.7" fill="none"/>
<path d="M795.6 947.5H805.6M800.6 942.5V952.5" stroke="#00ff00" stroke-width="2.7" fill="none"/>
<path d="M807.1 953.3H817.1M812.1 948.3V958.3" stroke="#00ff00" stroke-width="2.7" fill="none"/>
<path d="M811.7 963.6H821.7M816.7 958.6V968.6" stroke="#00ff00" stroke-width="2.7" fill="none"/>
<path d="M820.9 977.3H830.9M825.9 972.3V982.3" stroke="#00ff00" stroke-width="2.7" fill="none"/>
<path d="M830.0 993.4H840.0M835.0 988.4V998.4" stroke="#00ff00" stroke-width="2.7" fill="none"/>
<path d="M839.2 1023.2H849.2M844.2 1018.2V1028.2" stroke="#00ff00" stroke-width="2.7" fill="none"/>
<path d="M846.1 1041.6H856.1M851.1 1036.6V1046.6" stroke="#00ff00" stroke-width="2.7" fill="none"/>
<path d="M633.2 887.9L644.6 892.5L675.6 905.1L722.6 905.1L724.9 932.6L739.8 947.5L742.1 963.6L752.5 969.3L757.0 979.6L786.9 985.4L793.7 993.4L816.7 1003.7L819.0 1025.5L828.2 1032.4L839.6 1039.3L843.1 1055.3L845.4 1081.7L846.5 1093.2" stroke="#00ff00" stroke-width="2.0" fill="none" stroke-linejoin="round" stroke-dasharray="6,4"/>
<path d="M628.2 887.9H638.2M633.2 882.9V892.9" stroke="#00ff00" stroke-width="2.0" fill="none"/>
<path d="M639.6 892.5H649.6M644.6 887.5V897.5" stroke="#00ff00" stroke-width="2.0" fill="none"/>
<path d="M670.6 905.1H680.6M675.6 900.1V910.1" stroke="#00ff00" stroke-width="2.0" fill="none"/>
<path d="M717.6 905.1H727.6M722.6 900.1V910.1" stroke="#00ff00" stroke-width="2.0" fill="none"/>
<path d="M719.9 932.6H729.9M724.9 927.6V937.6" stroke="#00ff00" stroke-width="2.0" fill="none"/>
<path d="M734.8 947.5H744.8M739.8 942.5V952.5" stroke="#00ff00" stroke-width="2.0" fill="none"/>
<path d="M737.1 963.6H747.1M742.1 958.6V968.6" stroke="#00ff00" stroke-width="2.0" fill="none"/>
<path d="M747.5 969.3H757.5M752.5 964.3V974.3" stroke="#00ff00" stroke-width="2.0" fill="none"/>
<path d="M752.0 979.6H762.0M757.0 974.6V984.6" stroke="#00ff00" stroke-width="2.0" fill="none"/>
<path d="M781.9 985.4H791.9M786.9 980.4V990.4" stroke="#00ff00" stroke-width="2.0" fill="none"/>
<path d="M788.7 993.4H798.7M793.7 988.4V998.4" stroke="#00ff00" stroke-width="2.0" fill="none"/>
<path d="M811.7 1003.7H821.7M816.7 998.7V1008.7" stroke="#00ff00" stroke-width="2.0" fill="none"/>
<path d="M814.0 1025.5H824.0M819.0 1020.5V1030.5" stroke="#00ff00" stroke-width="2.0" fill="none"/>
<path d="M823.2 1032.4H833.2M828.2 1027.4V1037.4" stroke="#00ff00" stroke-width="2.0" fill="none"/>
<path d="M834.6 1039.3H844.6M839.6 1034.3V1044.3" stroke="#00ff00" stroke-width="2.0" fill="none"/>
<path d="M838.1 1055.3H848.1M843.1 1050.3V1060.3" stroke="#00ff00" stroke-width="2.0" fill="none"/>
<path d="M840.4 1081.7H850.4M845.4 1076.7V1086.7" stroke="#00ff00" stroke-width="2.0" fill="none"/>
<path d="M841.5 1093.2H851.5M846.5 1088.2V1098.2" stroke="#00ff00" stroke-width="2.0" fill="none"/>
<path d="M710.0 811.0L711.2 825.9L718.0 829.4L722.6 831.7L726.1 843.1L731.8 851.2L733.0 862.6L744.4 871.8L747.9 883.3L754.7 894.8L755.9 906.2L761.6 915.4L770.8 920.0L777.7 936.0L784.6 940.6L793.7 942.9L798.3 956.7L809.8 961.3L814.4 970.5L823.6 984.2L841.9 985.4L845.4 1009.5L847.7 1032.4L848.8 1062.2L849.9 1096.6" stroke="#ff0000" stroke-width="3.2" fill="none" stroke-linejoin="round"/>
<path d="M706.4 807.4L713.6 814.6M706.4 814.6L713.6 807.4" stroke="#ff0000" stroke-width="3.0" fill="none"/>
<path d="M707.6 822.3L714.8 829.5M707.6 829.5L714.8 822.3" stroke="#ff0000" stroke-width="3.0" fill="none"/>
<path d="M714.4 825.8L721.6 833.0M714.4 833.0L721.6 825.8" stroke="#ff0000" stroke-width="3.0" fill="none"/>
<path d="M719.0 828.1L726.2 835.3M719.0 835.3L726.2 828.1" stroke="#ff0000" stroke-width="3.0" fill="none"/>
<path d="M722.5 839.5L729.7 846.7M722.5 846.7L729.7 839.5" stroke="#ff0000" stroke-width="3.0" fill="none"/>
<path d="M728.2 847.6L735.4 854.8M728.2 854.8L735.4 847.6" stroke="#ff0000" stroke-width="3.0" fill="none"/>
<path d="M729.4 859.0L736.6 866.2M729.4 866.2L736.6 859.0" stroke="#ff0000" stroke-width="3.0" fill="none"/>
<path d="M740.8 868.2L748.0 875.4M740.8 875.4L748.0 868.2" stroke="#ff0000" stroke-width="3.0" fill="none"/>
<path d="M744.3 879.7L751.5 886.9M744.3 886.9L751.5 879.7" stroke="#ff0000" stroke-width="3.0" fill="none"/>
<path d="M751.1 891.2L758.3 898.4M751.1 898.4L758.3 891.2" stroke="#ff0000" stroke-width="3.0" fill="none"/>
<path d="M752.3 902.6L759.5 909.8M752.3 909.8L759.5 902.6" stroke="#ff0000" stroke-width="3.0" fill="none"/>
<path d="M758.0 911.8L765.2 919.0M758.0 919.0L765.2 911.8" stroke="#ff0000" stroke-width="3.0" fill="none"/>
<path d="M767.2 916.4L774.4 923.6M767.2 923.6L774.4 916.4" stroke="#ff0000" stroke-width="3.0" fill="none"/>
<path d="M774.1 932.4L781.3 939.6M774.1 939.6L781.3 932.4" stroke="#ff0000" stroke-width="3.0" fill="none"/>
<path d="M781.0 937.0L788.2 944.2M781.0 944.2L788.2 937.0" stroke="#ff0000" stroke-width="3.0" fill="none"/>
<path d="M790.1 939.3L797.3 946.5M790.1 946.5L797.3 939.3" stroke="#ff0000" stroke-width="3.0" fill="none"/>
<path d="M794.7 953.1L801.9 960.3M794.7 960.3L801.9 953.1" stroke="#ff0000" stroke-width="3.0" fill="none"/>
<path d="M806.2 957.7L813.4 964.9M806.2 964.9L813.4 957.7" stroke="#ff0000" stroke-width="3.0" fill="none"/>
<path d="M810.8 966.9L818.0 974.1M810.8 974.1L818.0 966.9" stroke="#ff0000" stroke-width="3.0" fill="none"/>
<path d="M820.0 980.6L827.2 987.8M820.0 987.8L827.2 980.6" stroke="#ff0000" stroke-width="3.0" fill="none"/>
<path d="M838.3 981.8L845.5 989.0M838.3 989.0L845.5 981.8" stroke="#ff0000" stroke-width="3.0" fill="none"/>
<path d="M841.8 1005.9L849.0 1013.1M841.8 1013.1L849.0 1005.9" stroke="#ff0000" stroke-width="3.0" fill="none"/>
<path d="M844.1 1028.8L851.3 1036.0M844.1 1036.0L851.3 1028.8" stroke="#ff0000" stroke-width="3.0" fill="none"/>
<path d="M845.2 1058.6L852.4 1065.8M845.2 1065.8L852.4 1058.6" stroke="#ff0000" stroke-width="3.0" fill="none"/>
<path d="M846.3 1093.0L853.5 1100.2M846.3 1100.2L853.5 1093.0" stroke="#ff0000" stroke-width="3.0" fill="none"/>
<path d="M677.9 844.3L708.9 856.9L716.9 868.4L721.5 885.6L731.8 897.1L739.8 908.5L743.3 922.3L750.2 924.6L759.3 926.9L766.2 936.0L765.1 946.4L773.1 946.4L775.4 952.1L777.7 959.0L780.0 962.4L782.3 965.9L785.7 967.7L789.2 969.3L791.5 970.5L792.6 977.3L792.6 983.1L800.6 992.2L807.5 993.4L812.1 1000.3L814.4 1011.7L825.9 1014.0L835.0 1016.3L837.3 1030.1L841.9 1037.0L846.5 1050.7L847.7 1078.3" stroke="#ff0000" stroke-width="2.0" fill="none" stroke-linejoin="round" stroke-dasharray="6,4"/>
<path d="M674.5 840.9L681.3 847.7M674.5 847.7L681.3 840.9" stroke="#ff0000" stroke-width="2.4" fill="none"/>
<path d="M705.5 853.5L712.3 860.3M705.5 860.3L712.3 853.5" stroke="#ff0000" stroke-width="2.4" fill="none"/>
<path d="M713.5 865.0L720.3 871.8M713.5 871.8L720.3 865.0" stroke="#ff0000" stroke-width="2.4" fill="none"/>
<path d="M718.1 882.2L724.9 889.0M718.1 889.0L724.9 882.2" stroke="#ff0000" stroke-width="2.4" fill="none"/>
<path d="M728.4 893.7L735.2 900.5M728.4 900.5L735.2 893.7" stroke="#ff0000" stroke-width="2.4" fill="none"/>
<path d="M736.4 905.1L743.2 911.9M736.4 911.9L743.2 905.1" stroke="#ff0000" stroke-width="2.4" fill="none"/>
<path d="M739.9 918.9L746.7 925.7M739.9 925.7L746.7 918.9" stroke="#ff0000" stroke-width="2.4" fill="none"/>
<path d="M746.8 921.2L753.6 928.0M746.8 928.0L753.6 921.2" stroke="#ff0000" stroke-width="2.4" fill="none"/>
<path d="M755.9 923.5L762.7 930.3M755.9 930.3L762.7 923.5" stroke="#ff0000" stroke-width="2.4" fill="none"/>
<path d="M762.8 932.6L769.6 939.4M762.8 939.4L769.6 932.6" stroke="#ff0000" stroke-width="2.4" fill="none"/>
<path d="M761.7 943.0L768.5 949.8M761.7 949.8L768.5 943.0" stroke="#ff0000" stroke-width="2.4" fill="none"/>
<path d="M769.7 943.0L776.5 949.8M769.7 949.8L776.5 943.0" stroke="#ff0000" stroke-width="2.4" fill="none"/>
<path d="M772.0 948.7L778.8 955.5M772.0 955.5L778.8 948.7" stroke="#ff0000" stroke-width="2.4" fill="none"/>
<path d="M774.3 955.6L781.1 962.4M774.3 962.4L781.1 955.6" stroke="#ff0000" stroke-width="2.4" fill="none"/>
<path d="M776.6 959.0L783.4 965.8M776.6 965.8L783.4 959.0" stroke="#ff0000" stroke-width="2.4" fill="none"/>
<path d="M778.9 962.5L785.7 969.3M778.9 969.3L785.7 962.5" stroke="#ff0000" stroke-width="2.4" fill="none"/>
<path d="M782.3 964.3L789.1 971.1M782.3 971.1L789.1 964.3" stroke="#ff0000" stroke-width="2.4" fill="none"/>
<path d="M785.8 965.9L792.6 972.7M785.8 972.7L792.6 965.9" stroke="#ff0000" stroke-width="2.4" fill="none"/>
<path d="M788.1 967.1L794.9 973.9M788.1 973.9L794.9 967.1" stroke="#ff0000" stroke-width="2.4" fill="none"/>
<path d="M789.2 973.9L796.0 980.7M789.2 980.7L796.0 973.9" stroke="#ff0000" stroke-width="2.4" fill="none"/>
<path d="M789.2 979.7L796.0 986.5M789.2 986.5L796.0 979.7" stroke="#ff0000" stroke-width="2.4" fill="none"/>
<path d="M797.2 988.8L804.0 995.6M797.2 995.6L804.0 988.8" stroke="#ff0000" stroke-width="2.4" fill="none"/>
<path d="M804.1 990.0L810.9 996.8M804.1 996.8L810.9 990.0" stroke="#ff0000" stroke-width="2.4" fill="none"/>
<path d="M808.7 996.9L815.5 1003.7M808.7 1003.7L815.5 996.9" stroke="#ff0000" stroke-width="2.4" fill="none"/>
<path d="M811.0 1008.3L817.8 1015.1M811.0 1015.1L817.8 1008.3" stroke="#ff0000" stroke-width="2.4" fill="none"/>
<path d="M822.5 1010.6L829.3 1017.4M822.5 1017.4L829.3 1010.6" stroke="#ff0000" stroke-width="2.4" fill="none"/>
<path d="M831.6 1012.9L838.4 1019.7M831.6 1019.7L838.4 1012.9" stroke="#ff0000" stroke-width="2.4" fill="none"/>
<path d="M833.9 1026.7L840.7 1033.5M833.9 1033.5L840.7 1026.7" stroke="#ff0000" stroke-width="2.4" fill="none"/>
<path d="M838.5 1033.6L845.3 1040.4M838.5 1040.4L845.3 1033.6" stroke="#ff0000" stroke-width="2.4" fill="none"/>
<path d="M843.1 1047.3L849.9 1054.1M843.1 1054.1L849.9 1047.3" stroke="#ff0000" stroke-width="2.4" fill="none"/>
<path d="M844.3 1074.9L851.1 1081.7M844.3 1081.7L851.1 1074.9" stroke="#ff0000" stroke-width="2.4" fill="none"/>
</g>
<path d="M593.5 1101V1097M593.5 807V811M668.5 1101V1097M668.5 807V811M743.5 1101V1097M743.5 807V811M818.5 1101V1097M818.5 807V811M893.5 1101V1097M893.5 807V811M594 1101.5H598M893 1101.5H889M594 1052.5H598M893 1052.5H889M594 1003.5H598M893 1003.5H889M594 953.5H598M893 953.5H889M594 904.5H598M893 904.5H889M594 855.5H598M893 855.5H889M594 806.5H598M893 806.5H889" stroke="#262626" stroke-width="1" fill="none"/>
<rect x="593.5" y="806.5" width="300" height="295" stroke="#262626" stroke-width="1" fill="none"/>
<text x="593.5" y="1124.0" text-anchor="middle" font-size="18" fill="#1a1a1a">0.3</text>
<text x="668.6" y="1124.0" text-anchor="middle" font-size="18" fill="#1a1a1a">0.4</text>
<text x="743.6" y="1124.0" text-anchor="middle" font-size="18" fill="#1a1a1a">0.5</text>
<text x="818.7" y="1124.0" text-anchor="middle" font-size="18" fill="#1a1a1a">0.6</text>
<text x="893.7" y="1124.0" text-anchor="middle" font-size="18" fill="#1a1a1a">0.7</text>
<text x="588.5" y="1107.8" text-anchor="end" font-size="18" fill="#1a1a1a">1.2</text>
<text x="588.5" y="1058.7" text-anchor="end" font-size="18" fill="#1a1a1a">1.4</text>
<text x="588.5" y="1009.5" text-anchor="end" font-size="18" fill="#1a1a1a">1.6</text>
<text x="588.5" y="960.4" text-anchor="end" font-size="18" fill="#1a1a1a">1.8</text>
<text x="588.5" y="911.2" text-anchor="end" font-size="18" fill="#1a1a1a">2</text>
<text x="588.5" y="862.0" text-anchor="end" font-size="18" fill="#1a1a1a">2.2</text>
<text x="588.5" y="812.9" text-anchor="end" font-size="18" fill="#1a1a1a">2.4</text>
<text x="743.6" y="1148.8" text-anchor="middle" font-size="19.6" fill="#1a1a1a">Effective Cover Rate (ECR)</text>
<text transform="translate(557.5,954.0) rotate(-90)" text-anchor="middle" font-size="19.7" fill="#1a1a1a">Minimum Pr(W/m<tspan font-size="15" dy="-9.5">2</tspan><tspan dy="9.5">)</tspan></text>
<rect x="598.5" y="974.5" width="93" height="122" fill="#fff" stroke="#262626" stroke-width="1"/>
<path d="M600.5 984.8H619.0" stroke="#0000ff" stroke-width="3.0"/>
<circle cx="609.5" cy="984.8" r="5" fill="#0000ff"/>
<text x="620.3" y="991.0" font-size="16" fill="#000">PF-Best</text>
<path d="M600.5 1005.1H606.5" stroke="#0000ff" stroke-width="2.0"/>
<path d="M604.7 1005.1H614.3M609.5 1000.3V1009.9M606.0 1001.6L613.0 1008.6M606.0 1008.6L613.0 1001.6" stroke="#0000ff" stroke-width="2.1" fill="none"/><circle cx="609.5" cy="1005.1" r="2.6" fill="#0000ff"/>
<text x="620.3" y="1011.3" font-size="16" fill="#000">PF-Worst</text>
<path d="M600.5 1025.4H619.0" stroke="#00ff00" stroke-width="3.0"/>
<path d="M604.5 1025.4H614.5M609.5 1020.4V1030.4" stroke="#00ff00" stroke-width="2.7" fill="none"/>
<text x="620.3" y="1031.6" font-size="16" fill="#000">SR-Best</text>
<path d="M600.5 1045.6H606.5" stroke="#00ff00" stroke-width="2.0"/>
<path d="M604.5 1045.6H614.5M609.5 1040.6V1050.6" stroke="#00ff00" stroke-width="2.0" fill="none"/>
<text x="620.3" y="1051.8" font-size="16" fill="#000">SR-Worst</text>
<path d="M600.5 1065.9H619.0" stroke="#ff0000" stroke-width="3.2"/>
<path d="M605.9 1062.3L613.1 1069.5M605.9 1069.5L613.1 1062.3" stroke="#ff0000" stroke-width="3.0" fill="none"/>
<text x="620.3" y="1072.1" font-size="16" fill="#000">DT-Best</text>
<path d="M600.5 1086.2H606.5" stroke="#ff0000" stroke-width="2.0"/>
<path d="M606.1 1082.8L612.9 1089.6M606.1 1089.6L612.9 1082.8" stroke="#ff0000" stroke-width="2.4" fill="none"/>
<text x="620.3" y="1092.4" font-size="16" fill="#000">DT-Worst</text>
<text transform="translate(472.02,1153.09) scale(0.9375,0.9675)" font-family="'Liberation Serif', serif" font-size="44" fill="#000"><tspan>(</tspan><tspan font-weight="bold">g</tspan><tspan>)</tspan></text>
<path d="M627.5 1192V1486M717.5 1192V1486M807.5 1192V1486M603 1444.5H897M603 1402.5H897M603 1360.5H897M603 1317.5H897M603 1275.5H897M603 1233.5H897" stroke="#e1e1e1" stroke-width="1" fill="none"/>
<clipPath id="cliph"><rect x="596.4" y="1185.5" width="307.1" height="307.0"/></clipPath>
<g clip-path="url(#cliph)">
<path d="M651.9 1222.3L680.6 1223.4L689.8 1238.3L695.5 1246.3L700.1 1250.9L704.7 1254.4L712.7 1270.4L725.3 1267.0L735.7 1280.8L741.4 1292.2L750.6 1294.5L764.3 1303.7L787.3 1306.0L791.9 1317.5L801.0 1331.2L810.2 1338.1L814.8 1345.0L830.9 1347.3L840.0 1356.5L844.6 1379.4L846.9 1417.2" stroke="#0000ff" stroke-width="3.0" fill="none" stroke-linejoin="round"/>
<circle cx="651.9" cy="1222.3" r="5" fill="#0000ff"/>
<circle cx="680.6" cy="1223.4" r="5" fill="#0000ff"/>
<circle cx="689.8" cy="1238.3" r="5" fill="#0000ff"/>
<circle cx="695.5" cy="1246.3" r="5" fill="#0000ff"/>
<circle cx="700.1" cy="1250.9" r="5" fill="#0000ff"/>
<circle cx="704.7" cy="1254.4" r="5" fill="#0000ff"/>
<circle cx="712.7" cy="1270.4" r="5" fill="#0000ff"/>
<circle cx="725.3" cy="1267.0" r="5" fill="#0000ff"/>
<circle cx="735.7" cy="1280.8" r="5" fill="#0000ff"/>
<circle cx="741.4" cy="1292.2" r="5" fill="#0000ff"/>
<circle cx="750.6" cy="1294.5" r="5" fill="#0000ff"/>
<circle cx="764.3" cy="1303.7" r="5" fill="#0000ff"/>
<circle cx="787.3" cy="1306.0" r="5" fill="#0000ff"/>
<circle cx="791.9" cy="1317.5" r="5" fill="#0000ff"/>
<circle cx="801.0" cy="1331.2" r="5" fill="#0000ff"/>
<circle cx="810.2" cy="1338.1" r="5" fill="#0000ff"/>
<circle cx="814.8" cy="1345.0" r="5" fill="#0000ff"/>
<circle cx="830.9" cy="1347.3" r="5" fill="#0000ff"/>
<circle cx="840.0" cy="1356.5" r="5" fill="#0000ff"/>
<circle cx="844.6" cy="1379.4" r="5" fill="#0000ff"/>
<circle cx="846.9" cy="1417.2" r="5" fill="#0000ff"/>
<path d="M640.5 1238.3L649.6 1271.6L684.1 1279.6L692.1 1285.3L693.2 1289.9L720.8 1295.7L727.6 1301.4L733.4 1310.6L734.5 1322.0L733.4 1342.7L748.3 1351.9L775.8 1353.0L785.0 1351.9L798.7 1354.2L805.6 1363.3L819.4 1367.9L829.7 1372.5L830.9 1393.2L834.3 1418.4L840.0 1427.6L841.2 1443.6" stroke="#0000ff" stroke-width="2.0" fill="none" stroke-linejoin="round" stroke-dasharray="6,4"/>
<path d="M635.7 1238.3H645.3M640.5 1233.5V1243.1M637.0 1234.8L644.0 1241.8M637.0 1241.8L644.0 1234.8" stroke="#0000ff" stroke-width="2.1" fill="none"/><circle cx="640.5" cy="1238.3" r="2.6" fill="#0000ff"/>
<path d="M644.8 1271.6H654.4M649.6 1266.8V1276.4M646.1 1268.1L653.1 1275.1M646.1 1275.1L653.1 1268.1" stroke="#0000ff" stroke-width="2.1" fill="none"/><circle cx="649.6" cy="1271.6" r="2.6" fill="#0000ff"/>
<path d="M679.3 1279.6H688.9M684.1 1274.8V1284.4M680.6 1276.1L687.6 1283.1M680.6 1283.1L687.6 1276.1" stroke="#0000ff" stroke-width="2.1" fill="none"/><circle cx="684.1" cy="1279.6" r="2.6" fill="#0000ff"/>
<path d="M687.3 1285.3H696.9M692.1 1280.5V1290.1M688.6 1281.8L695.6 1288.8M688.6 1288.8L695.6 1281.8" stroke="#0000ff" stroke-width="2.1" fill="none"/><circle cx="692.1" cy="1285.3" r="2.6" fill="#0000ff"/>
<path d="M688.4 1289.9H698.0M693.2 1285.1V1294.7M689.7 1286.4L696.7 1293.4M689.7 1293.4L696.7 1286.4" stroke="#0000ff" stroke-width="2.1" fill="none"/><circle cx="693.2" cy="1289.9" r="2.6" fill="#0000ff"/>
<path d="M716.0 1295.7H725.6M720.8 1290.9V1300.5M717.3 1292.2L724.3 1299.2M717.3 1299.2L724.3 1292.2" stroke="#0000ff" stroke-width="2.1" fill="none"/><circle cx="720.8" cy="1295.7" r="2.6" fill="#0000ff"/>
<path d="M722.8 1301.4H732.4M727.6 1296.6V1306.2M724.1 1297.9L731.1 1304.9M724.1 1304.9L731.1 1297.9" stroke="#0000ff" stroke-width="2.1" fill="none"/><circle cx="727.6" cy="1301.4" r="2.6" fill="#0000ff"/>
<path d="M728.6 1310.6H738.2M733.4 1305.8V1315.4M729.9 1307.1L736.9 1314.1M729.9 1314.1L736.9 1307.1" stroke="#0000ff" stroke-width="2.1" fill="none"/><circle cx="733.4" cy="1310.6" r="2.6" fill="#0000ff"/>
<path d="M729.7 1322.0H739.3M734.5 1317.2V1326.8M731.0 1318.5L738.0 1325.5M731.0 1325.5L738.0 1318.5" stroke="#0000ff" stroke-width="2.1" fill="none"/><circle cx="734.5" cy="1322.0" r="2.6" fill="#0000ff"/>
<path d="M728.6 1342.7H738.2M733.4 1337.9V1347.5M729.9 1339.2L736.9 1346.2M729.9 1346.2L736.9 1339.2" stroke="#0000ff" stroke-width="2.1" fill="none"/><circle cx="733.4" cy="1342.7" r="2.6" fill="#0000ff"/>
<path d="M743.5 1351.9H753.1M748.3 1347.1V1356.7M744.8 1348.4L751.8 1355.4M744.8 1355.4L751.8 1348.4" stroke="#0000ff" stroke-width="2.1" fill="none"/><circle cx="748.3" cy="1351.9" r="2.6" fill="#0000ff"/>
<path d="M771.0 1353.0H780.6M775.8 1348.2V1357.8M772.3 1349.5L779.3 1356.5M772.3 1356.5L779.3 1349.5" stroke="#0000ff" stroke-width="2.1" fill="none"/><circle cx="775.8" cy="1353.0" r="2.6" fill="#0000ff"/>
<path d="M780.2 1351.9H789.8M785.0 1347.1V1356.7M781.5 1348.4L788.5 1355.4M781.5 1355.4L788.5 1348.4" stroke="#0000ff" stroke-width="2.1" fill="none"/><circle cx="785.0" cy="1351.9" r="2.6" fill="#0000ff"/>
<path d="M793.9 1354.2H803.5M798.7 1349.4V1359.0M795.2 1350.7L802.2 1357.7M795.2 1357.7L802.2 1350.7" stroke="#0000ff" stroke-width="2.1" fill="none"/><circle cx="798.7" cy="1354.2" r="2.6" fill="#0000ff"/>
<path d="M800.8 1363.3H810.4M805.6 1358.5V1368.1M802.1 1359.8L809.1 1366.8M802.1 1366.8L809.1 1359.8" stroke="#0000ff" stroke-width="2.1" fill="none"/><circle cx="805.6" cy="1363.3" r="2.6" fill="#0000ff"/>
<path d="M814.6 1367.9H824.2M819.4 1363.1V1372.7M815.9 1364.4L822.9 1371.4M815.9 1371.4L822.9 1364.4" stroke="#0000ff" stroke-width="2.1" fill="none"/><circle cx="819.4" cy="1367.9" r="2.6" fill="#0000ff"/>
<path d="M824.9 1372.5H834.5M829.7 1367.7V1377.3M826.2 1369.0L833.2 1376.0M826.2 1376.0L833.2 1369.0" stroke="#0000ff" stroke-width="2.1" fill="none"/><circle cx="829.7" cy="1372.5" r="2.6" fill="#0000ff"/>
<path d="M826.1 1393.2H835.7M830.9 1388.4V1398.0M827.4 1389.7L834.4 1396.7M827.4 1396.7L834.4 1389.7" stroke="#0000ff" stroke-width="2.1" fill="none"/><circle cx="830.9" cy="1393.2" r="2.6" fill="#0000ff"/>
<path d="M829.5 1418.4H839.1M834.3 1413.6V1423.2M830.8 1414.9L837.8 1421.9M830.8 1421.9L837.8 1414.9" stroke="#0000ff" stroke-width="2.1" fill="none"/><circle cx="834.3" cy="1418.4" r="2.6" fill="#0000ff"/>
<path d="M835.2 1427.6H844.8M840.0 1422.8V1432.4M836.5 1424.1L843.5 1431.1M836.5 1431.1L843.5 1424.1" stroke="#0000ff" stroke-width="2.1" fill="none"/><circle cx="840.0" cy="1427.6" r="2.6" fill="#0000ff"/>
<path d="M836.4 1443.6H846.0M841.2 1438.8V1448.4M837.7 1440.1L844.7 1447.1M837.7 1447.1L844.7 1440.1" stroke="#0000ff" stroke-width="2.1" fill="none"/><circle cx="841.2" cy="1443.6" r="2.6" fill="#0000ff"/>
<path d="M687.5 1218.8L688.6 1244.1L690.9 1254.4L695.5 1257.8L718.5 1259.0L719.6 1276.2L727.6 1283.1L736.8 1289.9L750.6 1294.5L768.9 1302.5L775.8 1322.0L789.6 1328.9L794.2 1343.8L814.8 1345.0L819.4 1354.2L828.6 1358.7L846.9 1361.0" stroke="#00ff00" stroke-width="3.0" fill="none" stroke-linejoin="round"/>
<path d="M682.5 1218.8H692.5M687.5 1213.8V1223.8" stroke="#00ff00" stroke-width="2.7" fill="none"/>
<path d="M683.6 1244.1H693.6M688.6 1239.1V1249.1" stroke="#00ff00" stroke-width="2.7" fill="none"/>
<path d="M685.9 1254.4H695.9M690.9 1249.4V1259.4" stroke="#00ff00" stroke-width="2.7" fill="none"/>
<path d="M690.5 1257.8H700.5M695.5 1252.8V1262.8" stroke="#00ff00" stroke-width="2.7" fill="none"/>
<path d="M713.5 1259.0H723.5M718.5 1254.0V1264.0" stroke="#00ff00" stroke-width="2.7" fill="none"/>
<path d="M714.6 1276.2H724.6M719.6 1271.2V1281.2" stroke="#00ff00" stroke-width="2.7" fill="none"/>
<path d="M722.6 1283.1H732.6M727.6 1278.1V1288.1" stroke="#00ff00" stroke-width="2.7" fill="none"/>
<path d="M731.8 1289.9H741.8M736.8 1284.9V1294.9" stroke="#00ff00" stroke-width="2.7" fill="none"/>
<path d="M745.6 1294.5H755.6M750.6 1289.5V1299.5" stroke="#00ff00" stroke-width="2.7" fill="none"/>
<path d="M763.9 1302.5H773.9M768.9 1297.5V1307.5" stroke="#00ff00" stroke-width="2.7" fill="none"/>
<path d="M770.8 1322.0H780.8M775.8 1317.0V1327.0" stroke="#00ff00" stroke-width="2.7" fill="none"/>
<path d="M784.6 1328.9H794.6M789.6 1323.9V1333.9" stroke="#00ff00" stroke-width="2.7" fill="none"/>
<path d="M789.2 1343.8H799.2M794.2 1338.8V1348.8" stroke="#00ff00" stroke-width="2.7" fill="none"/>
<path d="M809.8 1345.0H819.8M814.8 1340.0V1350.0" stroke="#00ff00" stroke-width="2.7" fill="none"/>
<path d="M814.4 1354.2H824.4M819.4 1349.2V1359.2" stroke="#00ff00" stroke-width="2.7" fill="none"/>
<path d="M823.6 1358.7H833.6M828.6 1353.7V1363.7" stroke="#00ff00" stroke-width="2.7" fill="none"/>
<path d="M841.9 1361.0H851.9M846.9 1356.0V1366.0" stroke="#00ff00" stroke-width="2.7" fill="none"/>
<path d="M602.6 1264.7L626.7 1264.7L656.5 1276.2L684.1 1277.3L692.1 1293.4L707.0 1293.4L710.4 1319.8L734.5 1322.0L741.4 1338.1L751.7 1339.3L759.7 1345.0L768.9 1351.9L781.5 1361.0L788.4 1376.0L801.0 1378.2L824.0 1378.2L837.7 1386.3L837.7 1397.7L840.0 1409.2" stroke="#00ff00" stroke-width="2.0" fill="none" stroke-linejoin="round" stroke-dasharray="6,4"/>
<path d="M597.6 1264.7H607.6M602.6 1259.7V1269.7" stroke="#00ff00" stroke-width="2.0" fill="none"/>
<path d="M621.7 1264.7H631.7M626.7 1259.7V1269.7" stroke="#00ff00" stroke-width="2.0" fill="none"/>
<path d="M651.5 1276.2H661.5M656.5 1271.2V1281.2" stroke="#00ff00" stroke-width="2.0" fill="none"/>
<path d="M679.1 1277.3H689.1M684.1 1272.3V1282.3" stroke="#00ff00" stroke-width="2.0" fill="none"/>
<path d="M687.1 1293.4H697.1M692.1 1288.4V1298.4" stroke="#00ff00" stroke-width="2.0" fill="none"/>
<path d="M702.0 1293.4H712.0M707.0 1288.4V1298.4" stroke="#00ff00" stroke-width="2.0" fill="none"/>
<path d="M705.4 1319.8H715.4M710.4 1314.8V1324.8" stroke="#00ff00" stroke-width="2.0" fill="none"/>
<path d="M729.5 1322.0H739.5M734.5 1317.0V1327.0" stroke="#00ff00" stroke-width="2.0" fill="none"/>
<path d="M736.4 1338.1H746.4M741.4 1333.1V1343.1" stroke="#00ff00" stroke-width="2.0" fill="none"/>
<path d="M746.7 1339.3H756.7M751.7 1334.3V1344.3" stroke="#00ff00" stroke-width="2.0" fill="none"/>
<path d="M754.7 1345.0H764.7M759.7 1340.0V1350.0" stroke="#00ff00" stroke-width="2.0" fill="none"/>
<path d="M763.9 1351.9H773.9M768.9 1346.9V1356.9" stroke="#00ff00" stroke-width="2.0" fill="none"/>
<path d="M776.5 1361.0H786.5M781.5 1356.0V1366.0" stroke="#00ff00" stroke-width="2.0" fill="none"/>
<path d="M783.4 1376.0H793.4M788.4 1371.0V1381.0" stroke="#00ff00" stroke-width="2.0" fill="none"/>
<path d="M796.0 1378.2H806.0M801.0 1373.2V1383.2" stroke="#00ff00" stroke-width="2.0" fill="none"/>
<path d="M819.0 1378.2H829.0M824.0 1373.2V1383.2" stroke="#00ff00" stroke-width="2.0" fill="none"/>
<path d="M832.7 1386.3H842.7M837.7 1381.3V1391.3" stroke="#00ff00" stroke-width="2.0" fill="none"/>
<path d="M832.7 1397.7H842.7M837.7 1392.7V1402.7" stroke="#00ff00" stroke-width="2.0" fill="none"/>
<path d="M835.0 1409.2H845.0M840.0 1404.2V1414.2" stroke="#00ff00" stroke-width="2.0" fill="none"/>
<path d="M692.1 1201.6L700.1 1223.4L707.0 1236.0L709.3 1244.1L719.6 1253.2L725.3 1262.4L734.5 1273.9L746.0 1276.2L757.5 1291.1L770.1 1301.4L773.5 1314.0L785.0 1316.3L803.3 1323.2L807.9 1324.3L822.8 1330.1L826.3 1341.5L833.2 1343.8L836.6 1354.2L842.3 1359.9L844.6 1372.5L848.1 1396.6" stroke="#ff0000" stroke-width="3.2" fill="none" stroke-linejoin="round"/>
<path d="M688.5 1198.0L695.7 1205.2M688.5 1205.2L695.7 1198.0" stroke="#ff0000" stroke-width="3.0" fill="none"/>
<path d="M696.5 1219.8L703.7 1227.0M696.5 1227.0L703.7 1219.8" stroke="#ff0000" stroke-width="3.0" fill="none"/>
<path d="M703.4 1232.4L710.6 1239.6M703.4 1239.6L710.6 1232.4" stroke="#ff0000" stroke-width="3.0" fill="none"/>
<path d="M705.7 1240.5L712.9 1247.7M705.7 1247.7L712.9 1240.5" stroke="#ff0000" stroke-width="3.0" fill="none"/>
<path d="M716.0 1249.6L723.2 1256.8M716.0 1256.8L723.2 1249.6" stroke="#ff0000" stroke-width="3.0" fill="none"/>
<path d="M721.7 1258.8L728.9 1266.0M721.7 1266.0L728.9 1258.8" stroke="#ff0000" stroke-width="3.0" fill="none"/>
<path d="M730.9 1270.3L738.1 1277.5M730.9 1277.5L738.1 1270.3" stroke="#ff0000" stroke-width="3.0" fill="none"/>
<path d="M742.4 1272.6L749.6 1279.8M742.4 1279.8L749.6 1272.6" stroke="#ff0000" stroke-width="3.0" fill="none"/>
<path d="M753.9 1287.5L761.1 1294.7M753.9 1294.7L761.1 1287.5" stroke="#ff0000" stroke-width="3.0" fill="none"/>
<path d="M766.5 1297.8L773.7 1305.0M766.5 1305.0L773.7 1297.8" stroke="#ff0000" stroke-width="3.0" fill="none"/>
<path d="M769.9 1310.4L777.1 1317.6M769.9 1317.6L777.1 1310.4" stroke="#ff0000" stroke-width="3.0" fill="none"/>
<path d="M781.4 1312.7L788.6 1319.9M781.4 1319.9L788.6 1312.7" stroke="#ff0000" stroke-width="3.0" fill="none"/>
<path d="M799.7 1319.6L806.9 1326.8M799.7 1326.8L806.9 1319.6" stroke="#ff0000" stroke-width="3.0" fill="none"/>
<path d="M804.3 1320.7L811.5 1327.9M804.3 1327.9L811.5 1320.7" stroke="#ff0000" stroke-width="3.0" fill="none"/>
<path d="M819.2 1326.5L826.4 1333.7M819.2 1333.7L826.4 1326.5" stroke="#ff0000" stroke-width="3.0" fill="none"/>
<path d="M822.7 1337.9L829.9 1345.1M822.7 1345.1L829.9 1337.9" stroke="#ff0000" stroke-width="3.0" fill="none"/>
<path d="M829.6 1340.2L836.8 1347.4M829.6 1347.4L836.8 1340.2" stroke="#ff0000" stroke-width="3.0" fill="none"/>
<path d="M833.0 1350.6L840.2 1357.8M833.0 1357.8L840.2 1350.6" stroke="#ff0000" stroke-width="3.0" fill="none"/>
<path d="M838.7 1356.3L845.9 1363.5M838.7 1363.5L845.9 1356.3" stroke="#ff0000" stroke-width="3.0" fill="none"/>
<path d="M841.0 1368.9L848.2 1376.1M841.0 1376.1L848.2 1368.9" stroke="#ff0000" stroke-width="3.0" fill="none"/>
<path d="M844.5 1393.0L851.7 1400.2M844.5 1400.2L851.7 1393.0" stroke="#ff0000" stroke-width="3.0" fill="none"/>
<path d="M633.6 1259.0L661.1 1261.3L669.1 1263.6L679.5 1263.6L687.5 1270.4L704.7 1272.7L711.6 1278.5L715.0 1309.4L720.8 1310.6L741.4 1319.8L750.6 1320.9L762.0 1324.3L764.3 1339.3L778.1 1340.4L785.0 1347.3L787.3 1369.1L798.7 1376.0L813.7 1378.2L820.5 1385.1L825.1 1401.2L833.2 1404.6L836.6 1406.9L837.7 1482.6" stroke="#ff0000" stroke-width="2.0" fill="none" stroke-linejoin="round" stroke-dasharray="6,4"/>
<path d="M630.2 1255.6L637.0 1262.4M630.2 1262.4L637.0 1255.6" stroke="#ff0000" stroke-width="2.4" fill="none"/>
<path d="M657.7 1257.9L664.5 1264.7M657.7 1264.7L664.5 1257.9" stroke="#ff0000" stroke-width="2.4" fill="none"/>
<path d="M665.7 1260.2L672.5 1267.0M665.7 1267.0L672.5 1260.2" stroke="#ff0000" stroke-width="2.4" fill="none"/>
<path d="M676.1 1260.2L682.9 1267.0M676.1 1267.0L682.9 1260.2" stroke="#ff0000" stroke-width="2.4" fill="none"/>
<path d="M684.1 1267.0L690.9 1273.8M684.1 1273.8L690.9 1267.0" stroke="#ff0000" stroke-width="2.4" fill="none"/>
<path d="M701.3 1269.3L708.1 1276.1M701.3 1276.1L708.1 1269.3" stroke="#ff0000" stroke-width="2.4" fill="none"/>
<path d="M708.2 1275.1L715.0 1281.9M708.2 1281.9L715.0 1275.1" stroke="#ff0000" stroke-width="2.4" fill="none"/>
<path d="M711.6 1306.0L718.4 1312.8M711.6 1312.8L718.4 1306.0" stroke="#ff0000" stroke-width="2.4" fill="none"/>
<path d="M717.4 1307.2L724.2 1314.0M717.4 1314.0L724.2 1307.2" stroke="#ff0000" stroke-width="2.4" fill="none"/>
<path d="M738.0 1316.4L744.8 1323.2M738.0 1323.2L744.8 1316.4" stroke="#ff0000" stroke-width="2.4" fill="none"/>
<path d="M747.2 1317.5L754.0 1324.3M747.2 1324.3L754.0 1317.5" stroke="#ff0000" stroke-width="2.4" fill="none"/>
<path d="M758.6 1320.9L765.4 1327.7M758.6 1327.7L765.4 1320.9" stroke="#ff0000" stroke-width="2.4" fill="none"/>
<path d="M760.9 1335.9L767.7 1342.7M760.9 1342.7L767.7 1335.9" stroke="#ff0000" stroke-width="2.4" fill="none"/>
<path d="M774.7 1337.0L781.5 1343.8M774.7 1343.8L781.5 1337.0" stroke="#ff0000" stroke-width="2.4" fill="none"/>
<path d="M781.6 1343.9L788.4 1350.7M781.6 1350.7L788.4 1343.9" stroke="#ff0000" stroke-width="2.4" fill="none"/>
<path d="M783.9 1365.7L790.7 1372.5M783.9 1372.5L790.7 1365.7" stroke="#ff0000" stroke-width="2.4" fill="none"/>
<path d="M795.3 1372.6L802.1 1379.4M795.3 1379.4L802.1 1372.6" stroke="#ff0000" stroke-width="2.4" fill="none"/>
<path d="M810.3 1374.8L817.1 1381.6M810.3 1381.6L817.1 1374.8" stroke="#ff0000" stroke-width="2.4" fill="none"/>
<path d="M817.1 1381.7L823.9 1388.5M817.1 1388.5L823.9 1381.7" stroke="#ff0000" stroke-width="2.4" fill="none"/>
<path d="M821.7 1397.8L828.5 1404.6M821.7 1404.6L828.5 1397.8" stroke="#ff0000" stroke-width="2.4" fill="none"/>
<path d="M829.8 1401.2L836.6 1408.0M829.8 1408.0L836.6 1401.2" stroke="#ff0000" stroke-width="2.4" fill="none"/>
<path d="M833.2 1403.5L840.0 1410.3M833.2 1410.3L840.0 1403.5" stroke="#ff0000" stroke-width="2.4" fill="none"/>
<path d="M834.3 1479.2L841.1 1486.0M834.3 1486.0L841.1 1479.2" stroke="#ff0000" stroke-width="2.4" fill="none"/>
</g>
<path d="M627.5 1486V1482M627.5 1192V1196M717.5 1486V1482M717.5 1192V1196M807.5 1486V1482M807.5 1192V1196M897.5 1486V1482M897.5 1192V1196M603 1486.5H607M897 1486.5H893M603 1444.5H607M897 1444.5H893M603 1402.5H607M897 1402.5H893M603 1360.5H607M897 1360.5H893M603 1317.5H607M897 1317.5H893M603 1275.5H607M897 1275.5H893M603 1233.5H607M897 1233.5H893M603 1191.5H607M897 1191.5H893" stroke="#262626" stroke-width="1" fill="none"/>
<rect x="602.5" y="1191.5" width="295" height="295" stroke="#262626" stroke-width="1" fill="none"/>
<text x="627.6" y="1510.0" text-anchor="middle" font-size="18" fill="#1a1a1a">0.4</text>
<text x="717.6" y="1510.0" text-anchor="middle" font-size="18" fill="#1a1a1a">0.5</text>
<text x="807.5" y="1510.0" text-anchor="middle" font-size="18" fill="#1a1a1a">0.6</text>
<text x="897.5" y="1510.0" text-anchor="middle" font-size="18" fill="#1a1a1a">0.7</text>
<text x="597.4" y="1492.9" text-anchor="end" font-size="18" fill="#1a1a1a">1</text>
<text x="597.4" y="1450.8" text-anchor="end" font-size="18" fill="#1a1a1a">1.2</text>
<text x="597.4" y="1408.6" text-anchor="end" font-size="18" fill="#1a1a1a">1.4</text>
<text x="597.4" y="1366.5" text-anchor="end" font-size="18" fill="#1a1a1a">1.6</text>
<text x="597.4" y="1324.3" text-anchor="end" font-size="18" fill="#1a1a1a">1.8</text>
<text x="597.4" y="1282.2" text-anchor="end" font-size="18" fill="#1a1a1a">2</text>
<text x="597.4" y="1240.0" text-anchor="end" font-size="18" fill="#1a1a1a">2.2</text>
<text x="597.4" y="1197.9" text-anchor="end" font-size="18" fill="#1a1a1a">2.4</text>
<text x="750.0" y="1533.9" text-anchor="middle" font-size="19.6" fill="#1a1a1a">Effective Cover Rate (ECR)</text>
<text transform="translate(566.4,1339.0) rotate(-90)" text-anchor="middle" font-size="19.7" fill="#1a1a1a">Minimum Pr(W/m<tspan font-size="15" dy="-9.5">2</tspan><tspan dy="9.5">)</tspan></text>
<rect x="607.5" y="1359.5" width="93" height="122" fill="#fff" stroke="#262626" stroke-width="1"/>
<path d="M609.4 1369.8H627.9" stroke="#0000ff" stroke-width="3.0"/>
<circle cx="618.4" cy="1369.8" r="5" fill="#0000ff"/>
<text x="629.2" y="1376.0" font-size="16" fill="#000">PF-Best</text>
<path d="M609.4 1390.1H615.4" stroke="#0000ff" stroke-width="2.0"/>
<path d="M613.6 1390.1H623.2M618.4 1385.3V1394.9M614.9 1386.6L621.9 1393.6M614.9 1393.6L621.9 1386.6" stroke="#0000ff" stroke-width="2.1" fill="none"/><circle cx="618.4" cy="1390.1" r="2.6" fill="#0000ff"/>
<text x="629.2" y="1396.3" font-size="16" fill="#000">PF-Worst</text>
<path d="M609.4 1410.4H627.9" stroke="#00ff00" stroke-width="3.0"/>
<path d="M613.4 1410.4H623.4M618.4 1405.4V1415.4" stroke="#00ff00" stroke-width="2.7" fill="none"/>
<text x="629.2" y="1416.6" font-size="16" fill="#000">SR-Best</text>
<path d="M609.4 1430.6H615.4" stroke="#00ff00" stroke-width="2.0"/>
<path d="M613.4 1430.6H623.4M618.4 1425.6V1435.6" stroke="#00ff00" stroke-width="2.0" fill="none"/>
<text x="629.2" y="1436.8" font-size="16" fill="#000">SR-Worst</text>
<path d="M609.4 1450.9H627.9" stroke="#ff0000" stroke-width="3.2"/>
<path d="M614.8 1447.3L622.0 1454.5M614.8 1454.5L622.0 1447.3" stroke="#ff0000" stroke-width="3.0" fill="none"/>
<text x="629.2" y="1457.1" font-size="16" fill="#000">DT-Best</text>
<path d="M609.4 1471.2H615.4" stroke="#ff0000" stroke-width="2.0"/>
<path d="M615.0 1467.8L621.8 1474.6M615.0 1474.6L621.8 1467.8" stroke="#ff0000" stroke-width="2.4" fill="none"/>
<text x="629.2" y="1477.4" font-size="16" fill="#000">DT-Worst</text>
<text transform="translate(479.22,1539.05) scale(0.9380,0.9725)" font-family="'Liberation Serif', serif" font-size="44" fill="#000"><tspan>(</tspan><tspan font-weight="bold">h</tspan><tspan>)</tspan></text>
<path d="M1146.5 33V330M1246.5 33V330M1048 280.5H1345M1048 231.5H1345M1048 181.5H1345M1048 131.5H1345M1048 82.5H1345" stroke="#e1e1e1" stroke-width="1" fill="none"/>
<clipPath id="clipi"><rect x="1041.4" y="26.5" width="310.0" height="309.8"/></clipPath>
<g clip-path="url(#clipi)">
<path d="M1066.4 68.0L1088.2 70.3L1099.6 78.3L1129.5 78.3L1134.1 84.1L1136.3 104.7L1140.9 113.9L1150.1 123.1L1159.3 129.9L1168.5 143.7L1173.0 150.6L1186.8 164.3L1198.3 166.6L1212.0 170.1L1228.1 173.5L1235.0 198.7L1255.6 198.7L1260.2 212.5L1271.7 219.4L1280.9 228.6L1285.4 233.2L1286.6 258.4L1288.9 300.8" stroke="#0000ff" stroke-width="3.0" fill="none" stroke-linejoin="round"/>
<circle cx="1066.4" cy="68.0" r="5" fill="#0000ff"/>
<circle cx="1088.2" cy="70.3" r="5" fill="#0000ff"/>
<circle cx="1099.6" cy="78.3" r="5" fill="#0000ff"/>
<circle cx="1129.5" cy="78.3" r="5" fill="#0000ff"/>
<circle cx="1134.1" cy="84.1" r="5" fill="#0000ff"/>
<circle cx="1136.3" cy="104.7" r="5" fill="#0000ff"/>
<circle cx="1140.9" cy="113.9" r="5" fill="#0000ff"/>
<circle cx="1150.1" cy="123.1" r="5" fill="#0000ff"/>
<circle cx="1159.3" cy="129.9" r="5" fill="#0000ff"/>
<circle cx="1168.5" cy="143.7" r="5" fill="#0000ff"/>
<circle cx="1173.0" cy="150.6" r="5" fill="#0000ff"/>
<circle cx="1186.8" cy="164.3" r="5" fill="#0000ff"/>
<circle cx="1198.3" cy="166.6" r="5" fill="#0000ff"/>
<circle cx="1212.0" cy="170.1" r="5" fill="#0000ff"/>
<circle cx="1228.1" cy="173.5" r="5" fill="#0000ff"/>
<circle cx="1235.0" cy="198.7" r="5" fill="#0000ff"/>
<circle cx="1255.6" cy="198.7" r="5" fill="#0000ff"/>
<circle cx="1260.2" cy="212.5" r="5" fill="#0000ff"/>
<circle cx="1271.7" cy="219.4" r="5" fill="#0000ff"/>
<circle cx="1280.9" cy="228.6" r="5" fill="#0000ff"/>
<circle cx="1285.4" cy="233.2" r="5" fill="#0000ff"/>
<circle cx="1286.6" cy="258.4" r="5" fill="#0000ff"/>
<circle cx="1288.9" cy="300.8" r="5" fill="#0000ff"/>
<path d="M1052.6 81.8L1054.9 95.5L1074.4 100.1L1104.2 103.6L1108.8 123.1L1113.4 127.6L1118.0 132.2L1122.6 134.5L1127.2 136.8L1132.9 142.5L1138.6 148.3L1142.1 151.7L1145.5 155.2L1150.1 162.0L1157.0 164.3L1161.6 168.9L1166.2 173.5L1175.3 179.3L1186.8 183.8L1200.6 199.9L1209.7 205.6L1221.2 217.1L1237.3 233.2L1246.5 235.5L1260.2 242.3L1264.8 249.2L1274.0 258.4L1276.3 267.6L1279.7 281.3L1280.9 306.6" stroke="#0000ff" stroke-width="2.0" fill="none" stroke-linejoin="round" stroke-dasharray="6,4"/>
<path d="M1047.8 81.8H1057.4M1052.6 77.0V86.6M1049.1 78.3L1056.1 85.3M1049.1 85.3L1056.1 78.3" stroke="#0000ff" stroke-width="2.1" fill="none"/><circle cx="1052.6" cy="81.8" r="2.6" fill="#0000ff"/>
<path d="M1050.1 95.5H1059.7M1054.9 90.7V100.3M1051.4 92.0L1058.4 99.0M1051.4 99.0L1058.4 92.0" stroke="#0000ff" stroke-width="2.1" fill="none"/><circle cx="1054.9" cy="95.5" r="2.6" fill="#0000ff"/>
<path d="M1069.6 100.1H1079.2M1074.4 95.3V104.9M1070.9 96.6L1077.9 103.6M1070.9 103.6L1077.9 96.6" stroke="#0000ff" stroke-width="2.1" fill="none"/><circle cx="1074.4" cy="100.1" r="2.6" fill="#0000ff"/>
<path d="M1099.4 103.6H1109.0M1104.2 98.8V108.4M1100.7 100.1L1107.7 107.1M1100.7 107.1L1107.7 100.1" stroke="#0000ff" stroke-width="2.1" fill="none"/><circle cx="1104.2" cy="103.6" r="2.6" fill="#0000ff"/>
<path d="M1104.0 123.1H1113.6M1108.8 118.3V127.9M1105.3 119.6L1112.3 126.6M1105.3 126.6L1112.3 119.6" stroke="#0000ff" stroke-width="2.1" fill="none"/><circle cx="1108.8" cy="123.1" r="2.6" fill="#0000ff"/>
<path d="M1108.6 127.6H1118.2M1113.4 122.8V132.4M1109.9 124.1L1116.9 131.1M1109.9 131.1L1116.9 124.1" stroke="#0000ff" stroke-width="2.1" fill="none"/><circle cx="1113.4" cy="127.6" r="2.6" fill="#0000ff"/>
<path d="M1113.2 132.2H1122.8M1118.0 127.4V137.0M1114.5 128.7L1121.5 135.7M1114.5 135.7L1121.5 128.7" stroke="#0000ff" stroke-width="2.1" fill="none"/><circle cx="1118.0" cy="132.2" r="2.6" fill="#0000ff"/>
<path d="M1117.8 134.5H1127.4M1122.6 129.7V139.3M1119.1 131.0L1126.1 138.0M1119.1 138.0L1126.1 131.0" stroke="#0000ff" stroke-width="2.1" fill="none"/><circle cx="1122.6" cy="134.5" r="2.6" fill="#0000ff"/>
<path d="M1122.4 136.8H1132.0M1127.2 132.0V141.6M1123.7 133.3L1130.7 140.3M1123.7 140.3L1130.7 133.3" stroke="#0000ff" stroke-width="2.1" fill="none"/><circle cx="1127.2" cy="136.8" r="2.6" fill="#0000ff"/>
<path d="M1128.1 142.5H1137.7M1132.9 137.7V147.3M1129.4 139.0L1136.4 146.0M1129.4 146.0L1136.4 139.0" stroke="#0000ff" stroke-width="2.1" fill="none"/><circle cx="1132.9" cy="142.5" r="2.6" fill="#0000ff"/>
<path d="M1133.8 148.3H1143.4M1138.6 143.5V153.1M1135.1 144.8L1142.1 151.8M1135.1 151.8L1142.1 144.8" stroke="#0000ff" stroke-width="2.1" fill="none"/><circle cx="1138.6" cy="148.3" r="2.6" fill="#0000ff"/>
<path d="M1137.3 151.7H1146.9M1142.1 146.9V156.5M1138.6 148.2L1145.6 155.2M1138.6 155.2L1145.6 148.2" stroke="#0000ff" stroke-width="2.1" fill="none"/><circle cx="1142.1" cy="151.7" r="2.6" fill="#0000ff"/>
<path d="M1140.7 155.2H1150.3M1145.5 150.4V160.0M1142.0 151.7L1149.0 158.7M1142.0 158.7L1149.0 151.7" stroke="#0000ff" stroke-width="2.1" fill="none"/><circle cx="1145.5" cy="155.2" r="2.6" fill="#0000ff"/>
<path d="M1145.3 162.0H1154.9M1150.1 157.2V166.8M1146.6 158.5L1153.6 165.5M1146.6 165.5L1153.6 158.5" stroke="#0000ff" stroke-width="2.1" fill="none"/><circle cx="1150.1" cy="162.0" r="2.6" fill="#0000ff"/>
<path d="M1152.2 164.3H1161.8M1157.0 159.5V169.1M1153.5 160.8L1160.5 167.8M1153.5 167.8L1160.5 160.8" stroke="#0000ff" stroke-width="2.1" fill="none"/><circle cx="1157.0" cy="164.3" r="2.6" fill="#0000ff"/>
<path d="M1156.8 168.9H1166.4M1161.6 164.1V173.7M1158.1 165.4L1165.1 172.4M1158.1 172.4L1165.1 165.4" stroke="#0000ff" stroke-width="2.1" fill="none"/><circle cx="1161.6" cy="168.9" r="2.6" fill="#0000ff"/>
<path d="M1161.4 173.5H1171.0M1166.2 168.7V178.3M1162.7 170.0L1169.7 177.0M1162.7 177.0L1169.7 170.0" stroke="#0000ff" stroke-width="2.1" fill="none"/><circle cx="1166.2" cy="173.5" r="2.6" fill="#0000ff"/>
<path d="M1170.5 179.3H1180.1M1175.3 174.5V184.1M1171.8 175.8L1178.8 182.8M1171.8 182.8L1178.8 175.8" stroke="#0000ff" stroke-width="2.1" fill="none"/><circle cx="1175.3" cy="179.3" r="2.6" fill="#0000ff"/>
<path d="M1182.0 183.8H1191.6M1186.8 179.0V188.6M1183.3 180.3L1190.3 187.3M1183.3 187.3L1190.3 180.3" stroke="#0000ff" stroke-width="2.1" fill="none"/><circle cx="1186.8" cy="183.8" r="2.6" fill="#0000ff"/>
<path d="M1195.8 199.9H1205.4M1200.6 195.1V204.7M1197.1 196.4L1204.1 203.4M1197.1 203.4L1204.1 196.4" stroke="#0000ff" stroke-width="2.1" fill="none"/><circle cx="1200.6" cy="199.9" r="2.6" fill="#0000ff"/>
<path d="M1204.9 205.6H1214.5M1209.7 200.8V210.4M1206.2 202.1L1213.2 209.1M1206.2 209.1L1213.2 202.1" stroke="#0000ff" stroke-width="2.1" fill="none"/><circle cx="1209.7" cy="205.6" r="2.6" fill="#0000ff"/>
<path d="M1216.4 217.1H1226.0M1221.2 212.3V221.9M1217.7 213.6L1224.7 220.6M1217.7 220.6L1224.7 213.6" stroke="#0000ff" stroke-width="2.1" fill="none"/><circle cx="1221.2" cy="217.1" r="2.6" fill="#0000ff"/>
<path d="M1232.5 233.2H1242.1M1237.3 228.4V238.0M1233.8 229.7L1240.8 236.7M1233.8 236.7L1240.8 229.7" stroke="#0000ff" stroke-width="2.1" fill="none"/><circle cx="1237.3" cy="233.2" r="2.6" fill="#0000ff"/>
<path d="M1241.7 235.5H1251.3M1246.5 230.7V240.3M1243.0 232.0L1250.0 239.0M1243.0 239.0L1250.0 232.0" stroke="#0000ff" stroke-width="2.1" fill="none"/><circle cx="1246.5" cy="235.5" r="2.6" fill="#0000ff"/>
<path d="M1255.4 242.3H1265.0M1260.2 237.5V247.1M1256.7 238.8L1263.7 245.8M1256.7 245.8L1263.7 238.8" stroke="#0000ff" stroke-width="2.1" fill="none"/><circle cx="1260.2" cy="242.3" r="2.6" fill="#0000ff"/>
<path d="M1260.0 249.2H1269.6M1264.8 244.4V254.0M1261.3 245.7L1268.3 252.7M1261.3 252.7L1268.3 245.7" stroke="#0000ff" stroke-width="2.1" fill="none"/><circle cx="1264.8" cy="249.2" r="2.6" fill="#0000ff"/>
<path d="M1269.2 258.4H1278.8M1274.0 253.6V263.2M1270.5 254.9L1277.5 261.9M1270.5 261.9L1277.5 254.9" stroke="#0000ff" stroke-width="2.1" fill="none"/><circle cx="1274.0" cy="258.4" r="2.6" fill="#0000ff"/>
<path d="M1271.5 267.6H1281.1M1276.3 262.8V272.4M1272.8 264.1L1279.8 271.1M1272.8 271.1L1279.8 264.1" stroke="#0000ff" stroke-width="2.1" fill="none"/><circle cx="1276.3" cy="267.6" r="2.6" fill="#0000ff"/>
<path d="M1274.9 281.3H1284.5M1279.7 276.5V286.1M1276.2 277.8L1283.2 284.8M1276.2 284.8L1283.2 277.8" stroke="#0000ff" stroke-width="2.1" fill="none"/><circle cx="1279.7" cy="281.3" r="2.6" fill="#0000ff"/>
<path d="M1276.1 306.6H1285.7M1280.9 301.8V311.4M1277.4 303.1L1284.4 310.1M1277.4 310.1L1284.4 303.1" stroke="#0000ff" stroke-width="2.1" fill="none"/><circle cx="1280.9" cy="306.6" r="2.6" fill="#0000ff"/>
<path d="M1113.4 33.6L1120.3 56.5L1127.2 77.2L1128.3 97.8L1131.8 111.6L1143.2 119.6L1159.3 132.2L1168.5 139.1L1182.2 143.7L1196.0 157.5L1198.3 175.8L1214.3 180.4L1228.1 189.6L1237.3 194.2L1246.5 194.2L1247.6 214.8L1260.2 217.1L1276.3 221.7L1278.6 235.5L1285.4 240.0L1287.7 253.8" stroke="#00ff00" stroke-width="3.0" fill="none" stroke-linejoin="round"/>
<path d="M1108.4 33.6H1118.4M1113.4 28.6V38.6" stroke="#00ff00" stroke-width="2.7" fill="none"/>
<path d="M1115.3 56.5H1125.3M1120.3 51.5V61.5" stroke="#00ff00" stroke-width="2.7" fill="none"/>
<path d="M1122.2 77.2H1132.2M1127.2 72.2V82.2" stroke="#00ff00" stroke-width="2.7" fill="none"/>
<path d="M1123.3 97.8H1133.3M1128.3 92.8V102.8" stroke="#00ff00" stroke-width="2.7" fill="none"/>
<path d="M1126.8 111.6H1136.8M1131.8 106.6V116.6" stroke="#00ff00" stroke-width="2.7" fill="none"/>
<path d="M1138.2 119.6H1148.2M1143.2 114.6V124.6" stroke="#00ff00" stroke-width="2.7" fill="none"/>
<path d="M1154.3 132.2H1164.3M1159.3 127.2V137.2" stroke="#00ff00" stroke-width="2.7" fill="none"/>
<path d="M1163.5 139.1H1173.5M1168.5 134.1V144.1" stroke="#00ff00" stroke-width="2.7" fill="none"/>
<path d="M1177.2 143.7H1187.2M1182.2 138.7V148.7" stroke="#00ff00" stroke-width="2.7" fill="none"/>
<path d="M1191.0 157.5H1201.0M1196.0 152.5V162.5" stroke="#00ff00" stroke-width="2.7" fill="none"/>
<path d="M1193.3 175.8H1203.3M1198.3 170.8V180.8" stroke="#00ff00" stroke-width="2.7" fill="none"/>
<path d="M1209.3 180.4H1219.3M1214.3 175.4V185.4" stroke="#00ff00" stroke-width="2.7" fill="none"/>
<path d="M1223.1 189.6H1233.1M1228.1 184.6V194.6" stroke="#00ff00" stroke-width="2.7" fill="none"/>
<path d="M1232.3 194.2H1242.3M1237.3 189.2V199.2" stroke="#00ff00" stroke-width="2.7" fill="none"/>
<path d="M1241.5 194.2H1251.5M1246.5 189.2V199.2" stroke="#00ff00" stroke-width="2.7" fill="none"/>
<path d="M1242.6 214.8H1252.6M1247.6 209.8V219.8" stroke="#00ff00" stroke-width="2.7" fill="none"/>
<path d="M1255.2 217.1H1265.2M1260.2 212.1V222.1" stroke="#00ff00" stroke-width="2.7" fill="none"/>
<path d="M1271.3 221.7H1281.3M1276.3 216.7V226.7" stroke="#00ff00" stroke-width="2.7" fill="none"/>
<path d="M1273.6 235.5H1283.6M1278.6 230.5V240.5" stroke="#00ff00" stroke-width="2.7" fill="none"/>
<path d="M1280.4 240.0H1290.4M1285.4 235.0V245.0" stroke="#00ff00" stroke-width="2.7" fill="none"/>
<path d="M1282.7 253.8H1292.7M1287.7 248.8V258.8" stroke="#00ff00" stroke-width="2.7" fill="none"/>
<path d="M1076.7 65.7L1081.3 71.4L1088.2 84.1L1093.9 104.7L1095.1 134.5L1101.9 139.1L1131.8 141.4L1140.9 164.3L1157.0 187.3L1163.9 197.6L1170.8 207.9L1207.5 218.2L1225.8 226.3L1239.6 230.9L1251.0 233.2L1262.5 241.2L1269.4 249.2L1274.0 263.0L1278.6 272.2L1282.0 281.3L1284.3 304.3" stroke="#00ff00" stroke-width="2.0" fill="none" stroke-linejoin="round" stroke-dasharray="6,4"/>
<path d="M1071.7 65.7H1081.7M1076.7 60.7V70.7" stroke="#00ff00" stroke-width="2.0" fill="none"/>
<path d="M1076.3 71.4H1086.3M1081.3 66.4V76.4" stroke="#00ff00" stroke-width="2.0" fill="none"/>
<path d="M1083.2 84.1H1093.2M1088.2 79.1V89.1" stroke="#00ff00" stroke-width="2.0" fill="none"/>
<path d="M1088.9 104.7H1098.9M1093.9 99.7V109.7" stroke="#00ff00" stroke-width="2.0" fill="none"/>
<path d="M1090.1 134.5H1100.1M1095.1 129.5V139.5" stroke="#00ff00" stroke-width="2.0" fill="none"/>
<path d="M1096.9 139.1H1106.9M1101.9 134.1V144.1" stroke="#00ff00" stroke-width="2.0" fill="none"/>
<path d="M1126.8 141.4H1136.8M1131.8 136.4V146.4" stroke="#00ff00" stroke-width="2.0" fill="none"/>
<path d="M1135.9 164.3H1145.9M1140.9 159.3V169.3" stroke="#00ff00" stroke-width="2.0" fill="none"/>
<path d="M1152.0 187.3H1162.0M1157.0 182.3V192.3" stroke="#00ff00" stroke-width="2.0" fill="none"/>
<path d="M1158.9 197.6H1168.9M1163.9 192.6V202.6" stroke="#00ff00" stroke-width="2.0" fill="none"/>
<path d="M1165.8 207.9H1175.8M1170.8 202.9V212.9" stroke="#00ff00" stroke-width="2.0" fill="none"/>
<path d="M1202.5 218.2H1212.5M1207.5 213.2V223.2" stroke="#00ff00" stroke-width="2.0" fill="none"/>
<path d="M1220.8 226.3H1230.8M1225.8 221.3V231.3" stroke="#00ff00" stroke-width="2.0" fill="none"/>
<path d="M1234.6 230.9H1244.6M1239.6 225.9V235.9" stroke="#00ff00" stroke-width="2.0" fill="none"/>
<path d="M1246.0 233.2H1256.0M1251.0 228.2V238.2" stroke="#00ff00" stroke-width="2.0" fill="none"/>
<path d="M1257.5 241.2H1267.5M1262.5 236.2V246.2" stroke="#00ff00" stroke-width="2.0" fill="none"/>
<path d="M1264.4 249.2H1274.4M1269.4 244.2V254.2" stroke="#00ff00" stroke-width="2.0" fill="none"/>
<path d="M1269.0 263.0H1279.0M1274.0 258.0V268.0" stroke="#00ff00" stroke-width="2.0" fill="none"/>
<path d="M1273.6 272.2H1283.6M1278.6 267.2V277.2" stroke="#00ff00" stroke-width="2.0" fill="none"/>
<path d="M1277.0 281.3H1287.0M1282.0 276.3V286.3" stroke="#00ff00" stroke-width="2.0" fill="none"/>
<path d="M1279.3 304.3H1289.3M1284.3 299.3V309.3" stroke="#00ff00" stroke-width="2.0" fill="none"/>
<path d="M1104.2 40.5L1106.5 54.2L1111.1 58.8L1115.7 70.3L1136.3 77.2L1138.6 97.8L1140.9 113.9L1154.7 117.3L1161.6 123.1L1166.2 127.6L1166.2 141.4L1173.0 155.2L1198.3 162.0L1200.6 179.3L1232.7 181.5L1237.3 196.5L1260.2 202.2L1269.4 214.8L1280.9 224.0L1283.2 235.5L1285.4 251.5L1290.0 254.9" stroke="#ff0000" stroke-width="3.2" fill="none" stroke-linejoin="round"/>
<path d="M1100.6 36.9L1107.8 44.1M1100.6 44.1L1107.8 36.9" stroke="#ff0000" stroke-width="3.0" fill="none"/>
<path d="M1102.9 50.6L1110.1 57.8M1102.9 57.8L1110.1 50.6" stroke="#ff0000" stroke-width="3.0" fill="none"/>
<path d="M1107.5 55.2L1114.7 62.4M1107.5 62.4L1114.7 55.2" stroke="#ff0000" stroke-width="3.0" fill="none"/>
<path d="M1112.1 66.7L1119.3 73.9M1112.1 73.9L1119.3 66.7" stroke="#ff0000" stroke-width="3.0" fill="none"/>
<path d="M1132.7 73.6L1139.9 80.8M1132.7 80.8L1139.9 73.6" stroke="#ff0000" stroke-width="3.0" fill="none"/>
<path d="M1135.0 94.2L1142.2 101.4M1135.0 101.4L1142.2 94.2" stroke="#ff0000" stroke-width="3.0" fill="none"/>
<path d="M1137.3 110.3L1144.5 117.5M1137.3 117.5L1144.5 110.3" stroke="#ff0000" stroke-width="3.0" fill="none"/>
<path d="M1151.1 113.7L1158.3 120.9M1151.1 120.9L1158.3 113.7" stroke="#ff0000" stroke-width="3.0" fill="none"/>
<path d="M1158.0 119.5L1165.2 126.7M1158.0 126.7L1165.2 119.5" stroke="#ff0000" stroke-width="3.0" fill="none"/>
<path d="M1162.6 124.0L1169.8 131.2M1162.6 131.2L1169.8 124.0" stroke="#ff0000" stroke-width="3.0" fill="none"/>
<path d="M1162.6 137.8L1169.8 145.0M1162.6 145.0L1169.8 137.8" stroke="#ff0000" stroke-width="3.0" fill="none"/>
<path d="M1169.4 151.6L1176.6 158.8M1169.4 158.8L1176.6 151.6" stroke="#ff0000" stroke-width="3.0" fill="none"/>
<path d="M1194.7 158.4L1201.9 165.6M1194.7 165.6L1201.9 158.4" stroke="#ff0000" stroke-width="3.0" fill="none"/>
<path d="M1197.0 175.7L1204.2 182.9M1197.0 182.9L1204.2 175.7" stroke="#ff0000" stroke-width="3.0" fill="none"/>
<path d="M1229.1 177.9L1236.3 185.1M1229.1 185.1L1236.3 177.9" stroke="#ff0000" stroke-width="3.0" fill="none"/>
<path d="M1233.7 192.9L1240.9 200.1M1233.7 200.1L1240.9 192.9" stroke="#ff0000" stroke-width="3.0" fill="none"/>
<path d="M1256.6 198.6L1263.8 205.8M1256.6 205.8L1263.8 198.6" stroke="#ff0000" stroke-width="3.0" fill="none"/>
<path d="M1265.8 211.2L1273.0 218.4M1265.8 218.4L1273.0 211.2" stroke="#ff0000" stroke-width="3.0" fill="none"/>
<path d="M1277.3 220.4L1284.5 227.6M1277.3 227.6L1284.5 220.4" stroke="#ff0000" stroke-width="3.0" fill="none"/>
<path d="M1279.6 231.9L1286.8 239.1M1279.6 239.1L1286.8 231.9" stroke="#ff0000" stroke-width="3.0" fill="none"/>
<path d="M1281.8 247.9L1289.0 255.1M1281.8 255.1L1289.0 247.9" stroke="#ff0000" stroke-width="3.0" fill="none"/>
<path d="M1286.4 251.3L1293.6 258.5M1286.4 258.5L1293.6 251.3" stroke="#ff0000" stroke-width="3.0" fill="none"/>
<path d="M1057.2 62.3L1085.9 87.5L1101.9 95.5L1101.9 108.1L1122.6 110.4L1134.1 117.3L1138.6 125.3L1147.8 129.9L1154.7 141.4L1157.0 158.6L1166.2 173.5L1168.5 189.6L1182.2 193.0L1193.7 194.2L1202.9 196.5L1207.5 201.0L1218.9 205.6L1228.1 207.9L1235.0 214.8L1244.2 222.8L1245.3 237.7L1256.8 240.0L1260.2 256.1L1269.4 258.4L1278.6 263.0L1283.2 290.5L1286.6 320.3L1286.6 329.5" stroke="#ff0000" stroke-width="2.0" fill="none" stroke-linejoin="round" stroke-dasharray="6,4"/>
<path d="M1053.8 58.9L1060.6 65.7M1053.8 65.7L1060.6 58.9" stroke="#ff0000" stroke-width="2.4" fill="none"/>
<path d="M1082.5 84.1L1089.3 90.9M1082.5 90.9L1089.3 84.1" stroke="#ff0000" stroke-width="2.4" fill="none"/>
<path d="M1098.5 92.1L1105.3 98.9M1098.5 98.9L1105.3 92.1" stroke="#ff0000" stroke-width="2.4" fill="none"/>
<path d="M1098.5 104.7L1105.3 111.5M1098.5 111.5L1105.3 104.7" stroke="#ff0000" stroke-width="2.4" fill="none"/>
<path d="M1119.2 107.0L1126.0 113.8M1119.2 113.8L1126.0 107.0" stroke="#ff0000" stroke-width="2.4" fill="none"/>
<path d="M1130.7 113.9L1137.5 120.7M1130.7 120.7L1137.5 113.9" stroke="#ff0000" stroke-width="2.4" fill="none"/>
<path d="M1135.2 121.9L1142.0 128.7M1135.2 128.7L1142.0 121.9" stroke="#ff0000" stroke-width="2.4" fill="none"/>
<path d="M1144.4 126.5L1151.2 133.3M1144.4 133.3L1151.2 126.5" stroke="#ff0000" stroke-width="2.4" fill="none"/>
<path d="M1151.3 138.0L1158.1 144.8M1151.3 144.8L1158.1 138.0" stroke="#ff0000" stroke-width="2.4" fill="none"/>
<path d="M1153.6 155.2L1160.4 162.0M1153.6 162.0L1160.4 155.2" stroke="#ff0000" stroke-width="2.4" fill="none"/>
<path d="M1162.8 170.1L1169.6 176.9M1162.8 176.9L1169.6 170.1" stroke="#ff0000" stroke-width="2.4" fill="none"/>
<path d="M1165.1 186.2L1171.9 193.0M1165.1 193.0L1171.9 186.2" stroke="#ff0000" stroke-width="2.4" fill="none"/>
<path d="M1178.8 189.6L1185.6 196.4M1178.8 196.4L1185.6 189.6" stroke="#ff0000" stroke-width="2.4" fill="none"/>
<path d="M1190.3 190.8L1197.1 197.6M1190.3 197.6L1197.1 190.8" stroke="#ff0000" stroke-width="2.4" fill="none"/>
<path d="M1199.5 193.1L1206.3 199.9M1199.5 199.9L1206.3 193.1" stroke="#ff0000" stroke-width="2.4" fill="none"/>
<path d="M1204.1 197.6L1210.9 204.4M1204.1 204.4L1210.9 197.6" stroke="#ff0000" stroke-width="2.4" fill="none"/>
<path d="M1215.5 202.2L1222.3 209.0M1215.5 209.0L1222.3 202.2" stroke="#ff0000" stroke-width="2.4" fill="none"/>
<path d="M1224.7 204.5L1231.5 211.3M1224.7 211.3L1231.5 204.5" stroke="#ff0000" stroke-width="2.4" fill="none"/>
<path d="M1231.6 211.4L1238.4 218.2M1231.6 218.2L1238.4 211.4" stroke="#ff0000" stroke-width="2.4" fill="none"/>
<path d="M1240.8 219.4L1247.6 226.2M1240.8 226.2L1247.6 219.4" stroke="#ff0000" stroke-width="2.4" fill="none"/>
<path d="M1241.9 234.3L1248.7 241.1M1241.9 241.1L1248.7 234.3" stroke="#ff0000" stroke-width="2.4" fill="none"/>
<path d="M1253.4 236.6L1260.2 243.4M1253.4 243.4L1260.2 236.6" stroke="#ff0000" stroke-width="2.4" fill="none"/>
<path d="M1256.8 252.7L1263.6 259.5M1256.8 259.5L1263.6 252.7" stroke="#ff0000" stroke-width="2.4" fill="none"/>
<path d="M1266.0 255.0L1272.8 261.8M1266.0 261.8L1272.8 255.0" stroke="#ff0000" stroke-width="2.4" fill="none"/>
<path d="M1275.2 259.6L1282.0 266.4M1275.2 266.4L1282.0 259.6" stroke="#ff0000" stroke-width="2.4" fill="none"/>
<path d="M1279.8 287.1L1286.6 293.9M1279.8 293.9L1286.6 287.1" stroke="#ff0000" stroke-width="2.4" fill="none"/>
<path d="M1283.2 316.9L1290.0 323.7M1283.2 323.7L1290.0 316.9" stroke="#ff0000" stroke-width="2.4" fill="none"/>
<path d="M1283.2 326.1L1290.0 332.9M1283.2 332.9L1290.0 326.1" stroke="#ff0000" stroke-width="2.4" fill="none"/>
</g>
<path d="M1047.5 330V326M1047.5 33V37M1146.5 330V326M1146.5 33V37M1246.5 330V326M1246.5 33V37M1345.5 330V326M1345.5 33V37M1048 330.5H1052M1345 330.5H1341M1048 280.5H1052M1345 280.5H1341M1048 231.5H1052M1345 231.5H1341M1048 181.5H1052M1345 181.5H1341M1048 131.5H1052M1345 131.5H1341M1048 82.5H1052M1345 82.5H1341M1048 32.5H1052M1345 32.5H1341" stroke="#262626" stroke-width="1" fill="none"/>
<rect x="1047.5" y="32.5" width="298" height="298" stroke="#262626" stroke-width="1" fill="none"/>
<text x="1047.4" y="354.0" text-anchor="middle" font-size="18" fill="#1a1a1a">0.4</text>
<text x="1146.7" y="354.0" text-anchor="middle" font-size="18" fill="#1a1a1a">0.5</text>
<text x="1246.1" y="354.0" text-anchor="middle" font-size="18" fill="#1a1a1a">0.6</text>
<text x="1345.4" y="354.0" text-anchor="middle" font-size="18" fill="#1a1a1a">0.7</text>
<text x="1042.4" y="336.7" text-anchor="end" font-size="18" fill="#1a1a1a">1.2</text>
<text x="1042.4" y="287.1" text-anchor="end" font-size="18" fill="#1a1a1a">1.4</text>
<text x="1042.4" y="237.4" text-anchor="end" font-size="18" fill="#1a1a1a">1.6</text>
<text x="1042.4" y="187.8" text-anchor="end" font-size="18" fill="#1a1a1a">1.8</text>
<text x="1042.4" y="138.2" text-anchor="end" font-size="18" fill="#1a1a1a">2</text>
<text x="1042.4" y="88.5" text-anchor="end" font-size="18" fill="#1a1a1a">2.2</text>
<text x="1042.4" y="38.9" text-anchor="end" font-size="18" fill="#1a1a1a">2.4</text>
<text x="1196.4" y="378.8" text-anchor="middle" font-size="19.8" fill="#1a1a1a">Effective Cover Rate (ECR)</text>
<text transform="translate(1011.4,181.4) rotate(-90)" text-anchor="middle" font-size="19.9" fill="#1a1a1a">Minimum Pr(W/m<tspan font-size="15" dy="-9.5">2</tspan><tspan dy="9.5">)</tspan></text>
<rect x="1052.5" y="202.5" width="93" height="123" fill="#fff" stroke="#262626" stroke-width="1"/>
<path d="M1054.4 213.2H1072.9" stroke="#0000ff" stroke-width="3.0"/>
<circle cx="1063.4" cy="213.2" r="5" fill="#0000ff"/>
<text x="1074.2" y="219.4" font-size="16" fill="#000">PF-Best</text>
<path d="M1054.4 233.5H1060.4" stroke="#0000ff" stroke-width="2.0"/>
<path d="M1058.6 233.5H1068.2M1063.4 228.7V238.3M1059.9 230.0L1066.9 237.0M1059.9 237.0L1066.9 230.0" stroke="#0000ff" stroke-width="2.1" fill="none"/><circle cx="1063.4" cy="233.5" r="2.6" fill="#0000ff"/>
<text x="1074.2" y="239.7" font-size="16" fill="#000">PF-Worst</text>
<path d="M1054.4 253.8H1072.9" stroke="#00ff00" stroke-width="3.0"/>
<path d="M1058.4 253.8H1068.4M1063.4 248.8V258.8" stroke="#00ff00" stroke-width="2.7" fill="none"/>
<text x="1074.2" y="260.0" font-size="16" fill="#000">SR-Best</text>
<path d="M1054.4 274.0H1060.4" stroke="#00ff00" stroke-width="2.0"/>
<path d="M1058.4 274.0H1068.4M1063.4 269.0V279.0" stroke="#00ff00" stroke-width="2.0" fill="none"/>
<text x="1074.2" y="280.2" font-size="16" fill="#000">SR-Worst</text>
<path d="M1054.4 294.3H1072.9" stroke="#ff0000" stroke-width="3.2"/>
<path d="M1059.8 290.7L1067.0 297.9M1059.8 297.9L1067.0 290.7" stroke="#ff0000" stroke-width="3.0" fill="none"/>
<text x="1074.2" y="300.5" font-size="16" fill="#000">DT-Best</text>
<path d="M1054.4 314.6H1060.4" stroke="#ff0000" stroke-width="2.0"/>
<path d="M1060.0 311.2L1066.8 318.0M1060.0 318.0L1066.8 311.2" stroke="#ff0000" stroke-width="2.4" fill="none"/>
<text x="1074.2" y="320.8" font-size="16" fill="#000">DT-Worst</text>
<text transform="translate(936.11,382.96) scale(0.8947,0.9600)" font-family="'Liberation Serif', serif" font-size="44" fill="#000"><tspan>(</tspan><tspan font-weight="normal">i</tspan><tspan>)</tspan></text>
<path d="M1054.5 421V715M1150.5 421V715M1247.5 421V715M1049 666.5H1343M1049 617.5H1343M1049 568.5H1343M1049 518.5H1343M1049 469.5H1343" stroke="#e1e1e1" stroke-width="1" fill="none"/>
<clipPath id="clipj"><rect x="1042.5" y="414.5" width="306.9000000000001" height="307.0"/></clipPath>
<g clip-path="url(#clipj)">
<path d="M1105.4 440.9L1110.0 455.8L1120.3 460.4L1124.9 475.3L1131.8 477.6L1149.0 488.0L1154.7 496.0L1159.3 500.6L1167.3 501.7L1170.8 521.2L1177.6 532.7L1189.1 545.3L1198.3 561.4L1214.3 569.4L1230.4 574.0L1260.2 576.3L1267.1 594.6L1276.3 606.1L1286.6 619.9L1288.9 631.3L1288.9 665.7L1290.0 695.6" stroke="#0000ff" stroke-width="3.0" fill="none" stroke-linejoin="round"/>
<circle cx="1105.4" cy="440.9" r="5" fill="#0000ff"/>
<circle cx="1110.0" cy="455.8" r="5" fill="#0000ff"/>
<circle cx="1120.3" cy="460.4" r="5" fill="#0000ff"/>
<circle cx="1124.9" cy="475.3" r="5" fill="#0000ff"/>
<circle cx="1131.8" cy="477.6" r="5" fill="#0000ff"/>
<circle cx="1149.0" cy="488.0" r="5" fill="#0000ff"/>
<circle cx="1154.7" cy="496.0" r="5" fill="#0000ff"/>
<circle cx="1159.3" cy="500.6" r="5" fill="#0000ff"/>
<circle cx="1167.3" cy="501.7" r="5" fill="#0000ff"/>
<circle cx="1170.8" cy="521.2" r="5" fill="#0000ff"/>
<circle cx="1177.6" cy="532.7" r="5" fill="#0000ff"/>
<circle cx="1189.1" cy="545.3" r="5" fill="#0000ff"/>
<circle cx="1198.3" cy="561.4" r="5" fill="#0000ff"/>
<circle cx="1214.3" cy="569.4" r="5" fill="#0000ff"/>
<circle cx="1230.4" cy="574.0" r="5" fill="#0000ff"/>
<circle cx="1260.2" cy="576.3" r="5" fill="#0000ff"/>
<circle cx="1267.1" cy="594.6" r="5" fill="#0000ff"/>
<circle cx="1276.3" cy="606.1" r="5" fill="#0000ff"/>
<circle cx="1286.6" cy="619.9" r="5" fill="#0000ff"/>
<circle cx="1288.9" cy="631.3" r="5" fill="#0000ff"/>
<circle cx="1288.9" cy="665.7" r="5" fill="#0000ff"/>
<circle cx="1290.0" cy="695.6" r="5" fill="#0000ff"/>
<path d="M1075.6 507.5L1112.3 513.2L1120.3 530.4L1128.3 548.8L1131.8 555.6L1150.1 561.4L1157.0 570.5L1163.9 571.7L1167.3 588.9L1178.8 592.3L1193.7 599.2L1221.2 599.2L1230.4 606.1L1236.1 617.6L1251.0 629.0L1262.5 632.5L1271.7 647.4L1276.3 649.7L1278.6 658.9L1280.9 684.1L1287.7 693.3" stroke="#0000ff" stroke-width="2.0" fill="none" stroke-linejoin="round" stroke-dasharray="6,4"/>
<path d="M1070.8 507.5H1080.4M1075.6 502.7V512.3M1072.1 504.0L1079.1 511.0M1072.1 511.0L1079.1 504.0" stroke="#0000ff" stroke-width="2.1" fill="none"/><circle cx="1075.6" cy="507.5" r="2.6" fill="#0000ff"/>
<path d="M1107.5 513.2H1117.1M1112.3 508.4V518.0M1108.8 509.7L1115.8 516.7M1108.8 516.7L1115.8 509.7" stroke="#0000ff" stroke-width="2.1" fill="none"/><circle cx="1112.3" cy="513.2" r="2.6" fill="#0000ff"/>
<path d="M1115.5 530.4H1125.1M1120.3 525.6V535.2M1116.8 526.9L1123.8 533.9M1116.8 533.9L1123.8 526.9" stroke="#0000ff" stroke-width="2.1" fill="none"/><circle cx="1120.3" cy="530.4" r="2.6" fill="#0000ff"/>
<path d="M1123.5 548.8H1133.1M1128.3 544.0V553.6M1124.8 545.3L1131.8 552.3M1124.8 552.3L1131.8 545.3" stroke="#0000ff" stroke-width="2.1" fill="none"/><circle cx="1128.3" cy="548.8" r="2.6" fill="#0000ff"/>
<path d="M1127.0 555.6H1136.6M1131.8 550.8V560.4M1128.3 552.1L1135.3 559.1M1128.3 559.1L1135.3 552.1" stroke="#0000ff" stroke-width="2.1" fill="none"/><circle cx="1131.8" cy="555.6" r="2.6" fill="#0000ff"/>
<path d="M1145.3 561.4H1154.9M1150.1 556.6V566.2M1146.6 557.9L1153.6 564.9M1146.6 564.9L1153.6 557.9" stroke="#0000ff" stroke-width="2.1" fill="none"/><circle cx="1150.1" cy="561.4" r="2.6" fill="#0000ff"/>
<path d="M1152.2 570.5H1161.8M1157.0 565.7V575.3M1153.5 567.0L1160.5 574.0M1153.5 574.0L1160.5 567.0" stroke="#0000ff" stroke-width="2.1" fill="none"/><circle cx="1157.0" cy="570.5" r="2.6" fill="#0000ff"/>
<path d="M1159.1 571.7H1168.7M1163.9 566.9V576.5M1160.4 568.2L1167.4 575.2M1160.4 575.2L1167.4 568.2" stroke="#0000ff" stroke-width="2.1" fill="none"/><circle cx="1163.9" cy="571.7" r="2.6" fill="#0000ff"/>
<path d="M1162.5 588.9H1172.1M1167.3 584.1V593.7M1163.8 585.4L1170.8 592.4M1163.8 592.4L1170.8 585.4" stroke="#0000ff" stroke-width="2.1" fill="none"/><circle cx="1167.3" cy="588.9" r="2.6" fill="#0000ff"/>
<path d="M1174.0 592.3H1183.6M1178.8 587.5V597.1M1175.3 588.8L1182.3 595.8M1175.3 595.8L1182.3 588.8" stroke="#0000ff" stroke-width="2.1" fill="none"/><circle cx="1178.8" cy="592.3" r="2.6" fill="#0000ff"/>
<path d="M1188.9 599.2H1198.5M1193.7 594.4V604.0M1190.2 595.7L1197.2 602.7M1190.2 602.7L1197.2 595.7" stroke="#0000ff" stroke-width="2.1" fill="none"/><circle cx="1193.7" cy="599.2" r="2.6" fill="#0000ff"/>
<path d="M1216.4 599.2H1226.0M1221.2 594.4V604.0M1217.7 595.7L1224.7 602.7M1217.7 602.7L1224.7 595.7" stroke="#0000ff" stroke-width="2.1" fill="none"/><circle cx="1221.2" cy="599.2" r="2.6" fill="#0000ff"/>
<path d="M1225.6 606.1H1235.2M1230.4 601.3V610.9M1226.9 602.6L1233.9 609.6M1226.9 609.6L1233.9 602.6" stroke="#0000ff" stroke-width="2.1" fill="none"/><circle cx="1230.4" cy="606.1" r="2.6" fill="#0000ff"/>
<path d="M1231.3 617.6H1240.9M1236.1 612.8V622.4M1232.6 614.1L1239.6 621.1M1232.6 621.1L1239.6 614.1" stroke="#0000ff" stroke-width="2.1" fill="none"/><circle cx="1236.1" cy="617.6" r="2.6" fill="#0000ff"/>
<path d="M1246.2 629.0H1255.8M1251.0 624.2V633.8M1247.5 625.5L1254.5 632.5M1247.5 632.5L1254.5 625.5" stroke="#0000ff" stroke-width="2.1" fill="none"/><circle cx="1251.0" cy="629.0" r="2.6" fill="#0000ff"/>
<path d="M1257.7 632.5H1267.3M1262.5 627.7V637.3M1259.0 629.0L1266.0 636.0M1259.0 636.0L1266.0 629.0" stroke="#0000ff" stroke-width="2.1" fill="none"/><circle cx="1262.5" cy="632.5" r="2.6" fill="#0000ff"/>
<path d="M1266.9 647.4H1276.5M1271.7 642.6V652.2M1268.2 643.9L1275.2 650.9M1268.2 650.9L1275.2 643.9" stroke="#0000ff" stroke-width="2.1" fill="none"/><circle cx="1271.7" cy="647.4" r="2.6" fill="#0000ff"/>
<path d="M1271.5 649.7H1281.1M1276.3 644.9V654.5M1272.8 646.2L1279.8 653.2M1272.8 653.2L1279.8 646.2" stroke="#0000ff" stroke-width="2.1" fill="none"/><circle cx="1276.3" cy="649.7" r="2.6" fill="#0000ff"/>
<path d="M1273.8 658.9H1283.4M1278.6 654.1V663.7M1275.1 655.4L1282.1 662.4M1275.1 662.4L1282.1 655.4" stroke="#0000ff" stroke-width="2.1" fill="none"/><circle cx="1278.6" cy="658.9" r="2.6" fill="#0000ff"/>
<path d="M1276.1 684.1H1285.7M1280.9 679.3V688.9M1277.4 680.6L1284.4 687.6M1277.4 687.6L1284.4 680.6" stroke="#0000ff" stroke-width="2.1" fill="none"/><circle cx="1280.9" cy="684.1" r="2.6" fill="#0000ff"/>
<path d="M1282.9 693.3H1292.5M1287.7 688.5V698.1M1284.2 689.8L1291.2 696.8M1284.2 696.8L1291.2 689.8" stroke="#0000ff" stroke-width="2.1" fill="none"/><circle cx="1287.7" cy="693.3" r="2.6" fill="#0000ff"/>
<path d="M1106.5 437.5L1118.0 463.9L1127.2 479.9L1143.2 498.3L1152.4 512.1L1163.9 512.1L1168.5 525.8L1189.1 539.6L1212.0 546.5L1221.2 569.4L1232.7 578.6L1251.0 592.3L1262.5 603.8L1287.7 608.4" stroke="#00ff00" stroke-width="3.0" fill="none" stroke-linejoin="round"/>
<path d="M1101.5 437.5H1111.5M1106.5 432.5V442.5" stroke="#00ff00" stroke-width="2.7" fill="none"/>
<path d="M1113.0 463.9H1123.0M1118.0 458.9V468.9" stroke="#00ff00" stroke-width="2.7" fill="none"/>
<path d="M1122.2 479.9H1132.2M1127.2 474.9V484.9" stroke="#00ff00" stroke-width="2.7" fill="none"/>
<path d="M1138.2 498.3H1148.2M1143.2 493.3V503.3" stroke="#00ff00" stroke-width="2.7" fill="none"/>
<path d="M1147.4 512.1H1157.4M1152.4 507.1V517.1" stroke="#00ff00" stroke-width="2.7" fill="none"/>
<path d="M1158.9 512.1H1168.9M1163.9 507.1V517.1" stroke="#00ff00" stroke-width="2.7" fill="none"/>
<path d="M1163.5 525.8H1173.5M1168.5 520.8V530.8" stroke="#00ff00" stroke-width="2.7" fill="none"/>
<path d="M1184.1 539.6H1194.1M1189.1 534.6V544.6" stroke="#00ff00" stroke-width="2.7" fill="none"/>
<path d="M1207.0 546.5H1217.0M1212.0 541.5V551.5" stroke="#00ff00" stroke-width="2.7" fill="none"/>
<path d="M1216.2 569.4H1226.2M1221.2 564.4V574.4" stroke="#00ff00" stroke-width="2.7" fill="none"/>
<path d="M1227.7 578.6H1237.7M1232.7 573.6V583.6" stroke="#00ff00" stroke-width="2.7" fill="none"/>
<path d="M1246.0 592.3H1256.0M1251.0 587.3V597.3" stroke="#00ff00" stroke-width="2.7" fill="none"/>
<path d="M1257.5 603.8H1267.5M1262.5 598.8V608.8" stroke="#00ff00" stroke-width="2.7" fill="none"/>
<path d="M1282.7 608.4H1292.7M1287.7 603.4V613.4" stroke="#00ff00" stroke-width="2.7" fill="none"/>
<path d="M1049.2 486.8L1053.8 521.2L1089.3 532.7L1120.3 532.7L1129.5 540.7L1138.6 551.0L1161.6 566.0L1177.6 569.4L1179.9 578.6L1191.4 582.0L1200.6 592.3L1209.7 599.2L1221.2 608.4L1232.7 610.7L1241.9 621.0L1251.0 624.5L1257.9 633.6L1260.2 654.3L1262.5 663.4L1274.0 668.0L1274.0 693.3L1284.3 707.0" stroke="#00ff00" stroke-width="2.0" fill="none" stroke-linejoin="round" stroke-dasharray="6,4"/>
<path d="M1044.2 486.8H1054.2M1049.2 481.8V491.8" stroke="#00ff00" stroke-width="2.0" fill="none"/>
<path d="M1048.8 521.2H1058.8M1053.8 516.2V526.2" stroke="#00ff00" stroke-width="2.0" fill="none"/>
<path d="M1084.3 532.7H1094.3M1089.3 527.7V537.7" stroke="#00ff00" stroke-width="2.0" fill="none"/>
<path d="M1115.3 532.7H1125.3M1120.3 527.7V537.7" stroke="#00ff00" stroke-width="2.0" fill="none"/>
<path d="M1124.5 540.7H1134.5M1129.5 535.7V545.7" stroke="#00ff00" stroke-width="2.0" fill="none"/>
<path d="M1133.6 551.0H1143.6M1138.6 546.0V556.0" stroke="#00ff00" stroke-width="2.0" fill="none"/>
<path d="M1156.6 566.0H1166.6M1161.6 561.0V571.0" stroke="#00ff00" stroke-width="2.0" fill="none"/>
<path d="M1172.6 569.4H1182.6M1177.6 564.4V574.4" stroke="#00ff00" stroke-width="2.0" fill="none"/>
<path d="M1174.9 578.6H1184.9M1179.9 573.6V583.6" stroke="#00ff00" stroke-width="2.0" fill="none"/>
<path d="M1186.4 582.0H1196.4M1191.4 577.0V587.0" stroke="#00ff00" stroke-width="2.0" fill="none"/>
<path d="M1195.6 592.3H1205.6M1200.6 587.3V597.3" stroke="#00ff00" stroke-width="2.0" fill="none"/>
<path d="M1204.7 599.2H1214.7M1209.7 594.2V604.2" stroke="#00ff00" stroke-width="2.0" fill="none"/>
<path d="M1216.2 608.4H1226.2M1221.2 603.4V613.4" stroke="#00ff00" stroke-width="2.0" fill="none"/>
<path d="M1227.7 610.7H1237.7M1232.7 605.7V615.7" stroke="#00ff00" stroke-width="2.0" fill="none"/>
<path d="M1236.9 621.0H1246.9M1241.9 616.0V626.0" stroke="#00ff00" stroke-width="2.0" fill="none"/>
<path d="M1246.0 624.5H1256.0M1251.0 619.5V629.5" stroke="#00ff00" stroke-width="2.0" fill="none"/>
<path d="M1252.9 633.6H1262.9M1257.9 628.6V638.6" stroke="#00ff00" stroke-width="2.0" fill="none"/>
<path d="M1255.2 654.3H1265.2M1260.2 649.3V659.3" stroke="#00ff00" stroke-width="2.0" fill="none"/>
<path d="M1257.5 663.4H1267.5M1262.5 658.4V668.4" stroke="#00ff00" stroke-width="2.0" fill="none"/>
<path d="M1269.0 668.0H1279.0M1274.0 663.0V673.0" stroke="#00ff00" stroke-width="2.0" fill="none"/>
<path d="M1269.0 693.3H1279.0M1274.0 688.3V698.3" stroke="#00ff00" stroke-width="2.0" fill="none"/>
<path d="M1279.3 707.0H1289.3M1284.3 702.0V712.0" stroke="#00ff00" stroke-width="2.0" fill="none"/>
<path d="M1128.3 428.3L1130.6 462.7L1140.9 477.6L1145.5 493.7L1150.1 507.5L1154.7 512.1L1166.2 516.6L1173.0 525.8L1182.2 525.8L1193.7 532.7L1196.0 553.3L1209.7 562.5L1225.8 564.8L1239.6 571.7L1246.5 585.5L1267.1 587.7L1271.7 594.6L1278.6 610.7L1285.4 622.2L1287.7 647.4L1290.0 665.7" stroke="#ff0000" stroke-width="3.2" fill="none" stroke-linejoin="round"/>
<path d="M1124.7 424.7L1131.9 431.9M1124.7 431.9L1131.9 424.7" stroke="#ff0000" stroke-width="3.0" fill="none"/>
<path d="M1127.0 459.1L1134.2 466.3M1127.0 466.3L1134.2 459.1" stroke="#ff0000" stroke-width="3.0" fill="none"/>
<path d="M1137.3 474.0L1144.5 481.2M1137.3 481.2L1144.5 474.0" stroke="#ff0000" stroke-width="3.0" fill="none"/>
<path d="M1141.9 490.1L1149.1 497.3M1141.9 497.3L1149.1 490.1" stroke="#ff0000" stroke-width="3.0" fill="none"/>
<path d="M1146.5 503.9L1153.7 511.1M1146.5 511.1L1153.7 503.9" stroke="#ff0000" stroke-width="3.0" fill="none"/>
<path d="M1151.1 508.5L1158.3 515.7M1151.1 515.7L1158.3 508.5" stroke="#ff0000" stroke-width="3.0" fill="none"/>
<path d="M1162.6 513.0L1169.8 520.2M1162.6 520.2L1169.8 513.0" stroke="#ff0000" stroke-width="3.0" fill="none"/>
<path d="M1169.4 522.2L1176.6 529.4M1169.4 529.4L1176.6 522.2" stroke="#ff0000" stroke-width="3.0" fill="none"/>
<path d="M1178.6 522.2L1185.8 529.4M1178.6 529.4L1185.8 522.2" stroke="#ff0000" stroke-width="3.0" fill="none"/>
<path d="M1190.1 529.1L1197.3 536.3M1190.1 536.3L1197.3 529.1" stroke="#ff0000" stroke-width="3.0" fill="none"/>
<path d="M1192.4 549.7L1199.6 556.9M1192.4 556.9L1199.6 549.7" stroke="#ff0000" stroke-width="3.0" fill="none"/>
<path d="M1206.1 558.9L1213.3 566.1M1206.1 566.1L1213.3 558.9" stroke="#ff0000" stroke-width="3.0" fill="none"/>
<path d="M1222.2 561.2L1229.4 568.4M1222.2 568.4L1229.4 561.2" stroke="#ff0000" stroke-width="3.0" fill="none"/>
<path d="M1236.0 568.1L1243.2 575.3M1236.0 575.3L1243.2 568.1" stroke="#ff0000" stroke-width="3.0" fill="none"/>
<path d="M1242.9 581.9L1250.1 589.1M1242.9 589.1L1250.1 581.9" stroke="#ff0000" stroke-width="3.0" fill="none"/>
<path d="M1263.5 584.1L1270.7 591.3M1263.5 591.3L1270.7 584.1" stroke="#ff0000" stroke-width="3.0" fill="none"/>
<path d="M1268.1 591.0L1275.3 598.2M1268.1 598.2L1275.3 591.0" stroke="#ff0000" stroke-width="3.0" fill="none"/>
<path d="M1275.0 607.1L1282.2 614.3M1275.0 614.3L1282.2 607.1" stroke="#ff0000" stroke-width="3.0" fill="none"/>
<path d="M1281.8 618.6L1289.0 625.8M1281.8 625.8L1289.0 618.6" stroke="#ff0000" stroke-width="3.0" fill="none"/>
<path d="M1284.1 643.8L1291.3 651.0M1284.1 651.0L1291.3 643.8" stroke="#ff0000" stroke-width="3.0" fill="none"/>
<path d="M1286.4 662.1L1293.6 669.3M1286.4 669.3L1293.6 662.1" stroke="#ff0000" stroke-width="3.0" fill="none"/>
<path d="M1052.6 474.2L1093.9 489.1L1123.7 497.1L1128.3 514.3L1140.9 518.9L1147.8 537.3L1157.0 538.4L1166.2 545.3L1170.8 557.9L1186.8 562.5L1196.0 569.4L1207.5 586.6L1218.9 590.0L1230.4 596.9L1239.6 594.6L1244.2 601.5L1257.9 613.0L1267.1 629.0L1276.3 640.5L1280.9 658.9L1283.2 679.5L1284.3 711.6" stroke="#ff0000" stroke-width="2.0" fill="none" stroke-linejoin="round" stroke-dasharray="6,4"/>
<path d="M1049.2 470.8L1056.0 477.6M1049.2 477.6L1056.0 470.8" stroke="#ff0000" stroke-width="2.4" fill="none"/>
<path d="M1090.5 485.7L1097.3 492.5M1090.5 492.5L1097.3 485.7" stroke="#ff0000" stroke-width="2.4" fill="none"/>
<path d="M1120.3 493.7L1127.1 500.5M1120.3 500.5L1127.1 493.7" stroke="#ff0000" stroke-width="2.4" fill="none"/>
<path d="M1124.9 510.9L1131.7 517.7M1124.9 517.7L1131.7 510.9" stroke="#ff0000" stroke-width="2.4" fill="none"/>
<path d="M1137.5 515.5L1144.3 522.3M1137.5 522.3L1144.3 515.5" stroke="#ff0000" stroke-width="2.4" fill="none"/>
<path d="M1144.4 533.9L1151.2 540.7M1144.4 540.7L1151.2 533.9" stroke="#ff0000" stroke-width="2.4" fill="none"/>
<path d="M1153.6 535.0L1160.4 541.8M1153.6 541.8L1160.4 535.0" stroke="#ff0000" stroke-width="2.4" fill="none"/>
<path d="M1162.8 541.9L1169.6 548.7M1162.8 548.7L1169.6 541.9" stroke="#ff0000" stroke-width="2.4" fill="none"/>
<path d="M1167.4 554.5L1174.2 561.3M1167.4 561.3L1174.2 554.5" stroke="#ff0000" stroke-width="2.4" fill="none"/>
<path d="M1183.4 559.1L1190.2 565.9M1183.4 565.9L1190.2 559.1" stroke="#ff0000" stroke-width="2.4" fill="none"/>
<path d="M1192.6 566.0L1199.4 572.8M1192.6 572.8L1199.4 566.0" stroke="#ff0000" stroke-width="2.4" fill="none"/>
<path d="M1204.1 583.2L1210.9 590.0M1204.1 590.0L1210.9 583.2" stroke="#ff0000" stroke-width="2.4" fill="none"/>
<path d="M1215.5 586.6L1222.3 593.4M1215.5 593.4L1222.3 586.6" stroke="#ff0000" stroke-width="2.4" fill="none"/>
<path d="M1227.0 593.5L1233.8 600.3M1227.0 600.3L1233.8 593.5" stroke="#ff0000" stroke-width="2.4" fill="none"/>
<path d="M1236.2 591.2L1243.0 598.0M1236.2 598.0L1243.0 591.2" stroke="#ff0000" stroke-width="2.4" fill="none"/>
<path d="M1240.8 598.1L1247.6 604.9M1240.8 604.9L1247.6 598.1" stroke="#ff0000" stroke-width="2.4" fill="none"/>
<path d="M1254.5 609.6L1261.3 616.4M1254.5 616.4L1261.3 609.6" stroke="#ff0000" stroke-width="2.4" fill="none"/>
<path d="M1263.7 625.6L1270.5 632.4M1263.7 632.4L1270.5 625.6" stroke="#ff0000" stroke-width="2.4" fill="none"/>
<path d="M1272.9 637.1L1279.7 643.9M1272.9 643.9L1279.7 637.1" stroke="#ff0000" stroke-width="2.4" fill="none"/>
<path d="M1277.5 655.5L1284.3 662.3M1277.5 662.3L1284.3 655.5" stroke="#ff0000" stroke-width="2.4" fill="none"/>
<path d="M1279.8 676.1L1286.6 682.9M1279.8 682.9L1286.6 676.1" stroke="#ff0000" stroke-width="2.4" fill="none"/>
<path d="M1280.9 708.2L1287.7 715.0M1280.9 715.0L1287.7 708.2" stroke="#ff0000" stroke-width="2.4" fill="none"/>
</g>
<path d="M1054.5 715V711M1054.5 421V425M1150.5 715V711M1150.5 421V425M1247.5 715V711M1247.5 421V425M1343.5 715V711M1343.5 421V425M1049 715.5H1053M1343 715.5H1339M1049 666.5H1053M1343 666.5H1339M1049 617.5H1053M1343 617.5H1339M1049 568.5H1053M1343 568.5H1339M1049 518.5H1053M1343 518.5H1339M1049 469.5H1053M1343 469.5H1339M1049 420.5H1053M1343 420.5H1339" stroke="#262626" stroke-width="1" fill="none"/>
<rect x="1048.5" y="420.5" width="295" height="295" stroke="#262626" stroke-width="1" fill="none"/>
<text x="1054.3" y="738.1" text-anchor="middle" font-size="18" fill="#1a1a1a">0.4</text>
<text x="1150.7" y="738.1" text-anchor="middle" font-size="18" fill="#1a1a1a">0.5</text>
<text x="1247.0" y="738.1" text-anchor="middle" font-size="18" fill="#1a1a1a">0.6</text>
<text x="1343.4" y="738.1" text-anchor="middle" font-size="18" fill="#1a1a1a">0.7</text>
<text x="1043.5" y="721.9" text-anchor="end" font-size="18" fill="#1a1a1a">1.2</text>
<text x="1043.5" y="672.7" text-anchor="end" font-size="18" fill="#1a1a1a">1.4</text>
<text x="1043.5" y="623.6" text-anchor="end" font-size="18" fill="#1a1a1a">1.6</text>
<text x="1043.5" y="574.4" text-anchor="end" font-size="18" fill="#1a1a1a">1.8</text>
<text x="1043.5" y="525.2" text-anchor="end" font-size="18" fill="#1a1a1a">2</text>
<text x="1043.5" y="476.1" text-anchor="end" font-size="18" fill="#1a1a1a">2.2</text>
<text x="1043.5" y="426.9" text-anchor="end" font-size="18" fill="#1a1a1a">2.4</text>
<text x="1196.0" y="762.9" text-anchor="middle" font-size="19.6" fill="#1a1a1a">Effective Cover Rate (ECR)</text>
<text transform="translate(1012.5,568.0) rotate(-90)" text-anchor="middle" font-size="19.7" fill="#1a1a1a">Minimum Pr(W/m<tspan font-size="15" dy="-9.5">2</tspan><tspan dy="9.5">)</tspan></text>
<rect x="1053.5" y="588.5" width="93" height="122" fill="#fff" stroke="#262626" stroke-width="1"/>
<path d="M1055.5 598.8H1074.0" stroke="#0000ff" stroke-width="3.0"/>
<circle cx="1064.5" cy="598.8" r="5" fill="#0000ff"/>
<text x="1075.3" y="605.0" font-size="16" fill="#000">PF-Best</text>
<path d="M1055.5 619.1H1061.5" stroke="#0000ff" stroke-width="2.0"/>
<path d="M1059.7 619.1H1069.3M1064.5 614.3V623.9M1061.0 615.6L1068.0 622.6M1061.0 622.6L1068.0 615.6" stroke="#0000ff" stroke-width="2.1" fill="none"/><circle cx="1064.5" cy="619.1" r="2.6" fill="#0000ff"/>
<text x="1075.3" y="625.3" font-size="16" fill="#000">PF-Worst</text>
<path d="M1055.5 639.4H1074.0" stroke="#00ff00" stroke-width="3.0"/>
<path d="M1059.5 639.4H1069.5M1064.5 634.4V644.4" stroke="#00ff00" stroke-width="2.7" fill="none"/>
<text x="1075.3" y="645.6" font-size="16" fill="#000">SR-Best</text>
<path d="M1055.5 659.6H1061.5" stroke="#00ff00" stroke-width="2.0"/>
<path d="M1059.5 659.6H1069.5M1064.5 654.6V664.6" stroke="#00ff00" stroke-width="2.0" fill="none"/>
<text x="1075.3" y="665.8" font-size="16" fill="#000">SR-Worst</text>
<path d="M1055.5 679.9H1074.0" stroke="#ff0000" stroke-width="3.2"/>
<path d="M1060.9 676.3L1068.1 683.5M1060.9 683.5L1068.1 676.3" stroke="#ff0000" stroke-width="3.0" fill="none"/>
<text x="1075.3" y="686.1" font-size="16" fill="#000">DT-Best</text>
<path d="M1055.5 700.2H1061.5" stroke="#ff0000" stroke-width="2.0"/>
<path d="M1061.1 696.8L1067.9 703.6M1061.1 703.6L1067.9 696.8" stroke="#ff0000" stroke-width="2.4" fill="none"/>
<text x="1075.3" y="706.4" font-size="16" fill="#000">DT-Worst</text>
<text transform="translate(936.31,767.19) scale(0.8975,0.9675)" font-family="'Liberation Serif', serif" font-size="44" fill="#000"><tspan>(</tspan><tspan font-weight="bold">j</tspan><tspan>)</tspan></text>
<path d="M1070.5 807V1101M1162.5 807V1101M1254.5 807V1101M1052 1059.5H1346M1052 1017.5H1346M1052 974.5H1346M1052 932.5H1346M1052 890.5H1346M1052 848.5H1346" stroke="#e1e1e1" stroke-width="1" fill="none"/>
<clipPath id="clipk"><rect x="1045.5" y="800.3" width="307.0" height="307.10000000000014"/></clipPath>
<g clip-path="url(#clipk)">
<path d="M1112.3 846.6L1145.5 847.7L1152.4 858.1L1157.0 871.8L1175.3 876.4L1184.5 887.9L1193.7 897.1L1200.6 910.8L1212.0 915.4L1246.5 928.0L1246.5 947.5L1257.9 952.1L1269.4 959.0L1274.0 965.9L1280.9 968.2L1292.3 981.9L1295.8 1032.4" stroke="#0000ff" stroke-width="3.0" fill="none" stroke-linejoin="round"/>
<circle cx="1112.3" cy="846.6" r="5" fill="#0000ff"/>
<circle cx="1145.5" cy="847.7" r="5" fill="#0000ff"/>
<circle cx="1152.4" cy="858.1" r="5" fill="#0000ff"/>
<circle cx="1157.0" cy="871.8" r="5" fill="#0000ff"/>
<circle cx="1175.3" cy="876.4" r="5" fill="#0000ff"/>
<circle cx="1184.5" cy="887.9" r="5" fill="#0000ff"/>
<circle cx="1193.7" cy="897.1" r="5" fill="#0000ff"/>
<circle cx="1200.6" cy="910.8" r="5" fill="#0000ff"/>
<circle cx="1212.0" cy="915.4" r="5" fill="#0000ff"/>
<circle cx="1246.5" cy="928.0" r="5" fill="#0000ff"/>
<circle cx="1246.5" cy="947.5" r="5" fill="#0000ff"/>
<circle cx="1257.9" cy="952.1" r="5" fill="#0000ff"/>
<circle cx="1269.4" cy="959.0" r="5" fill="#0000ff"/>
<circle cx="1274.0" cy="965.9" r="5" fill="#0000ff"/>
<circle cx="1280.9" cy="968.2" r="5" fill="#0000ff"/>
<circle cx="1292.3" cy="981.9" r="5" fill="#0000ff"/>
<circle cx="1295.8" cy="1032.4" r="5" fill="#0000ff"/>
<path d="M1093.9 859.2L1097.3 884.4L1099.6 902.8L1150.1 902.8L1157.0 906.2L1166.2 910.8L1175.3 910.8L1179.9 924.6L1186.8 932.6L1191.4 938.3L1209.7 940.6L1223.5 949.8L1228.1 956.7L1241.9 963.6L1251.0 972.7L1262.5 984.2L1269.4 988.8L1276.3 993.4L1278.6 1002.6L1282.0 1020.9L1283.2 1032.4L1288.9 1062.2" stroke="#0000ff" stroke-width="2.0" fill="none" stroke-linejoin="round" stroke-dasharray="6,4"/>
<path d="M1089.1 859.2H1098.7M1093.9 854.4V864.0M1090.4 855.7L1097.4 862.7M1090.4 862.7L1097.4 855.7" stroke="#0000ff" stroke-width="2.1" fill="none"/><circle cx="1093.9" cy="859.2" r="2.6" fill="#0000ff"/>
<path d="M1092.5 884.4H1102.1M1097.3 879.6V889.2M1093.8 880.9L1100.8 887.9M1093.8 887.9L1100.8 880.9" stroke="#0000ff" stroke-width="2.1" fill="none"/><circle cx="1097.3" cy="884.4" r="2.6" fill="#0000ff"/>
<path d="M1094.8 902.8H1104.4M1099.6 898.0V907.6M1096.1 899.3L1103.1 906.3M1096.1 906.3L1103.1 899.3" stroke="#0000ff" stroke-width="2.1" fill="none"/><circle cx="1099.6" cy="902.8" r="2.6" fill="#0000ff"/>
<path d="M1145.3 902.8H1154.9M1150.1 898.0V907.6M1146.6 899.3L1153.6 906.3M1146.6 906.3L1153.6 899.3" stroke="#0000ff" stroke-width="2.1" fill="none"/><circle cx="1150.1" cy="902.8" r="2.6" fill="#0000ff"/>
<path d="M1152.2 906.2H1161.8M1157.0 901.4V911.0M1153.5 902.7L1160.5 909.7M1153.5 909.7L1160.5 902.7" stroke="#0000ff" stroke-width="2.1" fill="none"/><circle cx="1157.0" cy="906.2" r="2.6" fill="#0000ff"/>
<path d="M1161.4 910.8H1171.0M1166.2 906.0V915.6M1162.7 907.3L1169.7 914.3M1162.7 914.3L1169.7 907.3" stroke="#0000ff" stroke-width="2.1" fill="none"/><circle cx="1166.2" cy="910.8" r="2.6" fill="#0000ff"/>
<path d="M1170.5 910.8H1180.1M1175.3 906.0V915.6M1171.8 907.3L1178.8 914.3M1171.8 914.3L1178.8 907.3" stroke="#0000ff" stroke-width="2.1" fill="none"/><circle cx="1175.3" cy="910.8" r="2.6" fill="#0000ff"/>
<path d="M1175.1 924.6H1184.7M1179.9 919.8V929.4M1176.4 921.1L1183.4 928.1M1176.4 928.1L1183.4 921.1" stroke="#0000ff" stroke-width="2.1" fill="none"/><circle cx="1179.9" cy="924.6" r="2.6" fill="#0000ff"/>
<path d="M1182.0 932.6H1191.6M1186.8 927.8V937.4M1183.3 929.1L1190.3 936.1M1183.3 936.1L1190.3 929.1" stroke="#0000ff" stroke-width="2.1" fill="none"/><circle cx="1186.8" cy="932.6" r="2.6" fill="#0000ff"/>
<path d="M1186.6 938.3H1196.2M1191.4 933.5V943.1M1187.9 934.8L1194.9 941.8M1187.9 941.8L1194.9 934.8" stroke="#0000ff" stroke-width="2.1" fill="none"/><circle cx="1191.4" cy="938.3" r="2.6" fill="#0000ff"/>
<path d="M1204.9 940.6H1214.5M1209.7 935.8V945.4M1206.2 937.1L1213.2 944.1M1206.2 944.1L1213.2 937.1" stroke="#0000ff" stroke-width="2.1" fill="none"/><circle cx="1209.7" cy="940.6" r="2.6" fill="#0000ff"/>
<path d="M1218.7 949.8H1228.3M1223.5 945.0V954.6M1220.0 946.3L1227.0 953.3M1220.0 953.3L1227.0 946.3" stroke="#0000ff" stroke-width="2.1" fill="none"/><circle cx="1223.5" cy="949.8" r="2.6" fill="#0000ff"/>
<path d="M1223.3 956.7H1232.9M1228.1 951.9V961.5M1224.6 953.2L1231.6 960.2M1224.6 960.2L1231.6 953.2" stroke="#0000ff" stroke-width="2.1" fill="none"/><circle cx="1228.1" cy="956.7" r="2.6" fill="#0000ff"/>
<path d="M1237.1 963.6H1246.7M1241.9 958.8V968.4M1238.4 960.1L1245.4 967.1M1238.4 967.1L1245.4 960.1" stroke="#0000ff" stroke-width="2.1" fill="none"/><circle cx="1241.9" cy="963.6" r="2.6" fill="#0000ff"/>
<path d="M1246.2 972.7H1255.8M1251.0 967.9V977.5M1247.5 969.2L1254.5 976.2M1247.5 976.2L1254.5 969.2" stroke="#0000ff" stroke-width="2.1" fill="none"/><circle cx="1251.0" cy="972.7" r="2.6" fill="#0000ff"/>
<path d="M1257.7 984.2H1267.3M1262.5 979.4V989.0M1259.0 980.7L1266.0 987.7M1259.0 987.7L1266.0 980.7" stroke="#0000ff" stroke-width="2.1" fill="none"/><circle cx="1262.5" cy="984.2" r="2.6" fill="#0000ff"/>
<path d="M1264.6 988.8H1274.2M1269.4 984.0V993.6M1265.9 985.3L1272.9 992.3M1265.9 992.3L1272.9 985.3" stroke="#0000ff" stroke-width="2.1" fill="none"/><circle cx="1269.4" cy="988.8" r="2.6" fill="#0000ff"/>
<path d="M1271.5 993.4H1281.1M1276.3 988.6V998.2M1272.8 989.9L1279.8 996.9M1272.8 996.9L1279.8 989.9" stroke="#0000ff" stroke-width="2.1" fill="none"/><circle cx="1276.3" cy="993.4" r="2.6" fill="#0000ff"/>
<path d="M1273.8 1002.6H1283.4M1278.6 997.8V1007.4M1275.1 999.1L1282.1 1006.1M1275.1 1006.1L1282.1 999.1" stroke="#0000ff" stroke-width="2.1" fill="none"/><circle cx="1278.6" cy="1002.6" r="2.6" fill="#0000ff"/>
<path d="M1277.2 1020.9H1286.8M1282.0 1016.1V1025.7M1278.5 1017.4L1285.5 1024.4M1278.5 1024.4L1285.5 1017.4" stroke="#0000ff" stroke-width="2.1" fill="none"/><circle cx="1282.0" cy="1020.9" r="2.6" fill="#0000ff"/>
<path d="M1278.4 1032.4H1288.0M1283.2 1027.6V1037.2M1279.7 1028.9L1286.7 1035.9M1279.7 1035.9L1286.7 1028.9" stroke="#0000ff" stroke-width="2.1" fill="none"/><circle cx="1283.2" cy="1032.4" r="2.6" fill="#0000ff"/>
<path d="M1284.1 1062.2H1293.7M1288.9 1057.4V1067.0M1285.4 1058.7L1292.4 1065.7M1285.4 1065.7L1292.4 1058.7" stroke="#0000ff" stroke-width="2.1" fill="none"/><circle cx="1288.9" cy="1062.2" r="2.6" fill="#0000ff"/>
<path d="M1115.7 837.4L1129.5 842.0L1134.1 856.9L1140.9 862.6L1154.7 864.9L1166.2 867.2L1177.6 883.3L1189.1 894.8L1193.7 906.2L1200.6 913.1L1212.0 922.3L1223.5 926.9L1230.4 938.3L1248.7 939.5L1255.6 945.2L1278.6 954.4L1287.7 968.2L1295.8 1011.7" stroke="#00ff00" stroke-width="3.0" fill="none" stroke-linejoin="round"/>
<path d="M1110.7 837.4H1120.7M1115.7 832.4V842.4" stroke="#00ff00" stroke-width="2.7" fill="none"/>
<path d="M1124.5 842.0H1134.5M1129.5 837.0V847.0" stroke="#00ff00" stroke-width="2.7" fill="none"/>
<path d="M1129.1 856.9H1139.1M1134.1 851.9V861.9" stroke="#00ff00" stroke-width="2.7" fill="none"/>
<path d="M1135.9 862.6H1145.9M1140.9 857.6V867.6" stroke="#00ff00" stroke-width="2.7" fill="none"/>
<path d="M1149.7 864.9H1159.7M1154.7 859.9V869.9" stroke="#00ff00" stroke-width="2.7" fill="none"/>
<path d="M1161.2 867.2H1171.2M1166.2 862.2V872.2" stroke="#00ff00" stroke-width="2.7" fill="none"/>
<path d="M1172.6 883.3H1182.6M1177.6 878.3V888.3" stroke="#00ff00" stroke-width="2.7" fill="none"/>
<path d="M1184.1 894.8H1194.1M1189.1 889.8V899.8" stroke="#00ff00" stroke-width="2.7" fill="none"/>
<path d="M1188.7 906.2H1198.7M1193.7 901.2V911.2" stroke="#00ff00" stroke-width="2.7" fill="none"/>
<path d="M1195.6 913.1H1205.6M1200.6 908.1V918.1" stroke="#00ff00" stroke-width="2.7" fill="none"/>
<path d="M1207.0 922.3H1217.0M1212.0 917.3V927.3" stroke="#00ff00" stroke-width="2.7" fill="none"/>
<path d="M1218.5 926.9H1228.5M1223.5 921.9V931.9" stroke="#00ff00" stroke-width="2.7" fill="none"/>
<path d="M1225.4 938.3H1235.4M1230.4 933.3V943.3" stroke="#00ff00" stroke-width="2.7" fill="none"/>
<path d="M1243.7 939.5H1253.7M1248.7 934.5V944.5" stroke="#00ff00" stroke-width="2.7" fill="none"/>
<path d="M1250.6 945.2H1260.6M1255.6 940.2V950.2" stroke="#00ff00" stroke-width="2.7" fill="none"/>
<path d="M1273.6 954.4H1283.6M1278.6 949.4V959.4" stroke="#00ff00" stroke-width="2.7" fill="none"/>
<path d="M1282.7 968.2H1292.7M1287.7 963.2V973.2" stroke="#00ff00" stroke-width="2.7" fill="none"/>
<path d="M1290.8 1011.7H1300.8M1295.8 1006.7V1016.7" stroke="#00ff00" stroke-width="2.7" fill="none"/>
<path d="M1050.3 867.2L1068.7 867.2L1069.8 881.0L1101.9 882.1L1108.8 890.2L1129.5 892.5L1147.8 898.2L1163.9 903.9L1168.5 928.0L1177.6 938.3L1189.1 945.2L1198.3 956.7L1212.0 959.0L1221.2 961.3L1230.4 963.6L1241.9 970.5L1255.6 979.6L1269.4 986.5L1283.2 995.7L1285.4 1037.0L1286.6 1046.2L1292.3 1062.2" stroke="#00ff00" stroke-width="2.0" fill="none" stroke-linejoin="round" stroke-dasharray="6,4"/>
<path d="M1045.3 867.2H1055.3M1050.3 862.2V872.2" stroke="#00ff00" stroke-width="2.0" fill="none"/>
<path d="M1063.7 867.2H1073.7M1068.7 862.2V872.2" stroke="#00ff00" stroke-width="2.0" fill="none"/>
<path d="M1064.8 881.0H1074.8M1069.8 876.0V886.0" stroke="#00ff00" stroke-width="2.0" fill="none"/>
<path d="M1096.9 882.1H1106.9M1101.9 877.1V887.1" stroke="#00ff00" stroke-width="2.0" fill="none"/>
<path d="M1103.8 890.2H1113.8M1108.8 885.2V895.2" stroke="#00ff00" stroke-width="2.0" fill="none"/>
<path d="M1124.5 892.5H1134.5M1129.5 887.5V897.5" stroke="#00ff00" stroke-width="2.0" fill="none"/>
<path d="M1142.8 898.2H1152.8M1147.8 893.2V903.2" stroke="#00ff00" stroke-width="2.0" fill="none"/>
<path d="M1158.9 903.9H1168.9M1163.9 898.9V908.9" stroke="#00ff00" stroke-width="2.0" fill="none"/>
<path d="M1163.5 928.0H1173.5M1168.5 923.0V933.0" stroke="#00ff00" stroke-width="2.0" fill="none"/>
<path d="M1172.6 938.3H1182.6M1177.6 933.3V943.3" stroke="#00ff00" stroke-width="2.0" fill="none"/>
<path d="M1184.1 945.2H1194.1M1189.1 940.2V950.2" stroke="#00ff00" stroke-width="2.0" fill="none"/>
<path d="M1193.3 956.7H1203.3M1198.3 951.7V961.7" stroke="#00ff00" stroke-width="2.0" fill="none"/>
<path d="M1207.0 959.0H1217.0M1212.0 954.0V964.0" stroke="#00ff00" stroke-width="2.0" fill="none"/>
<path d="M1216.2 961.3H1226.2M1221.2 956.3V966.3" stroke="#00ff00" stroke-width="2.0" fill="none"/>
<path d="M1225.4 963.6H1235.4M1230.4 958.6V968.6" stroke="#00ff00" stroke-width="2.0" fill="none"/>
<path d="M1236.9 970.5H1246.9M1241.9 965.5V975.5" stroke="#00ff00" stroke-width="2.0" fill="none"/>
<path d="M1250.6 979.6H1260.6M1255.6 974.6V984.6" stroke="#00ff00" stroke-width="2.0" fill="none"/>
<path d="M1264.4 986.5H1274.4M1269.4 981.5V991.5" stroke="#00ff00" stroke-width="2.0" fill="none"/>
<path d="M1278.2 995.7H1288.2M1283.2 990.7V1000.7" stroke="#00ff00" stroke-width="2.0" fill="none"/>
<path d="M1280.4 1037.0H1290.4M1285.4 1032.0V1042.0" stroke="#00ff00" stroke-width="2.0" fill="none"/>
<path d="M1281.6 1046.2H1291.6M1286.6 1041.2V1051.2" stroke="#00ff00" stroke-width="2.0" fill="none"/>
<path d="M1287.3 1062.2H1297.3M1292.3 1057.2V1067.2" stroke="#00ff00" stroke-width="2.0" fill="none"/>
<path d="M1132.9 817.9L1136.3 825.9L1138.6 837.4L1140.9 843.1L1145.5 848.9L1152.4 855.8L1159.3 858.1L1166.2 876.4L1175.3 881.0L1176.5 894.8L1186.8 899.3L1196.0 906.2L1200.6 910.8L1205.2 913.1L1218.9 918.8L1230.4 924.6L1251.0 932.6L1253.3 947.5L1260.2 952.1L1278.6 954.4L1287.7 965.9L1292.3 975.0L1293.5 1034.7" stroke="#ff0000" stroke-width="3.2" fill="none" stroke-linejoin="round"/>
<path d="M1129.3 814.3L1136.5 821.5M1129.3 821.5L1136.5 814.3" stroke="#ff0000" stroke-width="3.0" fill="none"/>
<path d="M1132.7 822.3L1139.9 829.5M1132.7 829.5L1139.9 822.3" stroke="#ff0000" stroke-width="3.0" fill="none"/>
<path d="M1135.0 833.8L1142.2 841.0M1135.0 841.0L1142.2 833.8" stroke="#ff0000" stroke-width="3.0" fill="none"/>
<path d="M1137.3 839.5L1144.5 846.7M1137.3 846.7L1144.5 839.5" stroke="#ff0000" stroke-width="3.0" fill="none"/>
<path d="M1141.9 845.3L1149.1 852.5M1141.9 852.5L1149.1 845.3" stroke="#ff0000" stroke-width="3.0" fill="none"/>
<path d="M1148.8 852.2L1156.0 859.4M1148.8 859.4L1156.0 852.2" stroke="#ff0000" stroke-width="3.0" fill="none"/>
<path d="M1155.7 854.5L1162.9 861.7M1155.7 861.7L1162.9 854.5" stroke="#ff0000" stroke-width="3.0" fill="none"/>
<path d="M1162.6 872.8L1169.8 880.0M1162.6 880.0L1169.8 872.8" stroke="#ff0000" stroke-width="3.0" fill="none"/>
<path d="M1171.7 877.4L1178.9 884.6M1171.7 884.6L1178.9 877.4" stroke="#ff0000" stroke-width="3.0" fill="none"/>
<path d="M1172.9 891.2L1180.1 898.4M1172.9 898.4L1180.1 891.2" stroke="#ff0000" stroke-width="3.0" fill="none"/>
<path d="M1183.2 895.7L1190.4 902.9M1183.2 902.9L1190.4 895.7" stroke="#ff0000" stroke-width="3.0" fill="none"/>
<path d="M1192.4 902.6L1199.6 909.8M1192.4 909.8L1199.6 902.6" stroke="#ff0000" stroke-width="3.0" fill="none"/>
<path d="M1197.0 907.2L1204.2 914.4M1197.0 914.4L1204.2 907.2" stroke="#ff0000" stroke-width="3.0" fill="none"/>
<path d="M1201.6 909.5L1208.8 916.7M1201.6 916.7L1208.8 909.5" stroke="#ff0000" stroke-width="3.0" fill="none"/>
<path d="M1215.3 915.2L1222.5 922.4M1215.3 922.4L1222.5 915.2" stroke="#ff0000" stroke-width="3.0" fill="none"/>
<path d="M1226.8 921.0L1234.0 928.2M1226.8 928.2L1234.0 921.0" stroke="#ff0000" stroke-width="3.0" fill="none"/>
<path d="M1247.4 929.0L1254.6 936.2M1247.4 936.2L1254.6 929.0" stroke="#ff0000" stroke-width="3.0" fill="none"/>
<path d="M1249.7 943.9L1256.9 951.1M1249.7 951.1L1256.9 943.9" stroke="#ff0000" stroke-width="3.0" fill="none"/>
<path d="M1256.6 948.5L1263.8 955.7M1256.6 955.7L1263.8 948.5" stroke="#ff0000" stroke-width="3.0" fill="none"/>
<path d="M1275.0 950.8L1282.2 958.0M1275.0 958.0L1282.2 950.8" stroke="#ff0000" stroke-width="3.0" fill="none"/>
<path d="M1284.1 962.3L1291.3 969.5M1284.1 969.5L1291.3 962.3" stroke="#ff0000" stroke-width="3.0" fill="none"/>
<path d="M1288.7 971.4L1295.9 978.6M1288.7 978.6L1295.9 971.4" stroke="#ff0000" stroke-width="3.0" fill="none"/>
<path d="M1289.9 1031.1L1297.1 1038.3M1289.9 1038.3L1297.1 1031.1" stroke="#ff0000" stroke-width="3.0" fill="none"/>
<path d="M1065.2 850.0L1074.4 852.3L1092.8 855.8L1111.1 855.8L1119.1 863.8L1127.2 871.8L1136.3 883.3L1152.4 898.2L1157.0 912.0L1163.9 928.0L1177.6 934.9L1200.6 938.3L1214.3 949.8L1228.1 955.5L1241.9 962.4L1260.2 970.5L1262.5 980.8L1280.9 984.2L1283.2 991.1L1287.7 1026.7L1288.9 1059.9" stroke="#ff0000" stroke-width="2.0" fill="none" stroke-linejoin="round" stroke-dasharray="6,4"/>
<path d="M1061.8 846.6L1068.6 853.4M1061.8 853.4L1068.6 846.6" stroke="#ff0000" stroke-width="2.4" fill="none"/>
<path d="M1071.0 848.9L1077.8 855.7M1071.0 855.7L1077.8 848.9" stroke="#ff0000" stroke-width="2.4" fill="none"/>
<path d="M1089.4 852.4L1096.2 859.2M1089.4 859.2L1096.2 852.4" stroke="#ff0000" stroke-width="2.4" fill="none"/>
<path d="M1107.7 852.4L1114.5 859.2M1107.7 859.2L1114.5 852.4" stroke="#ff0000" stroke-width="2.4" fill="none"/>
<path d="M1115.7 860.4L1122.5 867.2M1115.7 867.2L1122.5 860.4" stroke="#ff0000" stroke-width="2.4" fill="none"/>
<path d="M1123.8 868.4L1130.6 875.2M1123.8 875.2L1130.6 868.4" stroke="#ff0000" stroke-width="2.4" fill="none"/>
<path d="M1132.9 879.9L1139.7 886.7M1132.9 886.7L1139.7 879.9" stroke="#ff0000" stroke-width="2.4" fill="none"/>
<path d="M1149.0 894.8L1155.8 901.6M1149.0 901.6L1155.8 894.8" stroke="#ff0000" stroke-width="2.4" fill="none"/>
<path d="M1153.6 908.6L1160.4 915.4M1153.6 915.4L1160.4 908.6" stroke="#ff0000" stroke-width="2.4" fill="none"/>
<path d="M1160.5 924.6L1167.3 931.4M1160.5 931.4L1167.3 924.6" stroke="#ff0000" stroke-width="2.4" fill="none"/>
<path d="M1174.2 931.5L1181.0 938.3M1174.2 938.3L1181.0 931.5" stroke="#ff0000" stroke-width="2.4" fill="none"/>
<path d="M1197.2 934.9L1204.0 941.7M1197.2 941.7L1204.0 934.9" stroke="#ff0000" stroke-width="2.4" fill="none"/>
<path d="M1210.9 946.4L1217.7 953.2M1210.9 953.2L1217.7 946.4" stroke="#ff0000" stroke-width="2.4" fill="none"/>
<path d="M1224.7 952.1L1231.5 958.9M1224.7 958.9L1231.5 952.1" stroke="#ff0000" stroke-width="2.4" fill="none"/>
<path d="M1238.5 959.0L1245.3 965.8M1238.5 965.8L1245.3 959.0" stroke="#ff0000" stroke-width="2.4" fill="none"/>
<path d="M1256.8 967.1L1263.6 973.9M1256.8 973.9L1263.6 967.1" stroke="#ff0000" stroke-width="2.4" fill="none"/>
<path d="M1259.1 977.4L1265.9 984.2M1259.1 984.2L1265.9 977.4" stroke="#ff0000" stroke-width="2.4" fill="none"/>
<path d="M1277.5 980.8L1284.3 987.6M1277.5 987.6L1284.3 980.8" stroke="#ff0000" stroke-width="2.4" fill="none"/>
<path d="M1279.8 987.7L1286.6 994.5M1279.8 994.5L1286.6 987.7" stroke="#ff0000" stroke-width="2.4" fill="none"/>
<path d="M1284.3 1023.3L1291.1 1030.1M1284.3 1030.1L1291.1 1023.3" stroke="#ff0000" stroke-width="2.4" fill="none"/>
<path d="M1285.5 1056.5L1292.3 1063.3M1285.5 1063.3L1292.3 1056.5" stroke="#ff0000" stroke-width="2.4" fill="none"/>
</g>
<path d="M1070.5 1101V1097M1070.5 807V811M1162.5 1101V1097M1162.5 807V811M1254.5 1101V1097M1254.5 807V811M1346.5 1101V1097M1346.5 807V811M1052 1101.5H1056M1346 1101.5H1342M1052 1059.5H1056M1346 1059.5H1342M1052 1017.5H1056M1346 1017.5H1342M1052 974.5H1056M1346 974.5H1342M1052 932.5H1056M1346 932.5H1342M1052 890.5H1056M1346 890.5H1342M1052 848.5H1056M1346 848.5H1342M1052 806.5H1056M1346 806.5H1342" stroke="#262626" stroke-width="1" fill="none"/>
<rect x="1051.5" y="806.5" width="295" height="295" stroke="#262626" stroke-width="1" fill="none"/>
<text x="1070.8" y="1124.0" text-anchor="middle" font-size="18" fill="#1a1a1a">0.4</text>
<text x="1162.7" y="1124.0" text-anchor="middle" font-size="18" fill="#1a1a1a">0.5</text>
<text x="1254.6" y="1124.0" text-anchor="middle" font-size="18" fill="#1a1a1a">0.6</text>
<text x="1346.5" y="1124.0" text-anchor="middle" font-size="18" fill="#1a1a1a">0.7</text>
<text x="1046.5" y="1107.8" text-anchor="end" font-size="18" fill="#1a1a1a">1</text>
<text x="1046.5" y="1065.6" text-anchor="end" font-size="18" fill="#1a1a1a">1.2</text>
<text x="1046.5" y="1023.5" text-anchor="end" font-size="18" fill="#1a1a1a">1.4</text>
<text x="1046.5" y="981.3" text-anchor="end" font-size="18" fill="#1a1a1a">1.6</text>
<text x="1046.5" y="939.2" text-anchor="end" font-size="18" fill="#1a1a1a">1.8</text>
<text x="1046.5" y="897.0" text-anchor="end" font-size="18" fill="#1a1a1a">2</text>
<text x="1046.5" y="854.9" text-anchor="end" font-size="18" fill="#1a1a1a">2.2</text>
<text x="1046.5" y="812.7" text-anchor="end" font-size="18" fill="#1a1a1a">2.4</text>
<text x="1199.0" y="1148.8" text-anchor="middle" font-size="19.6" fill="#1a1a1a">Effective Cover Rate (ECR)</text>
<text transform="translate(1015.5,953.9) rotate(-90)" text-anchor="middle" font-size="19.7" fill="#1a1a1a">Minimum Pr(W/m<tspan font-size="15" dy="-9.5">2</tspan><tspan dy="9.5">)</tspan></text>
<rect x="1056.5" y="974.5" width="93" height="122" fill="#fff" stroke="#262626" stroke-width="1"/>
<path d="M1058.5 984.8H1077.0" stroke="#0000ff" stroke-width="3.0"/>
<circle cx="1067.5" cy="984.8" r="5" fill="#0000ff"/>
<text x="1078.3" y="991.0" font-size="16" fill="#000">PF-Best</text>
<path d="M1058.5 1005.1H1064.5" stroke="#0000ff" stroke-width="2.0"/>
<path d="M1062.7 1005.1H1072.3M1067.5 1000.3V1009.9M1064.0 1001.6L1071.0 1008.6M1064.0 1008.6L1071.0 1001.6" stroke="#0000ff" stroke-width="2.1" fill="none"/><circle cx="1067.5" cy="1005.1" r="2.6" fill="#0000ff"/>
<text x="1078.3" y="1011.3" font-size="16" fill="#000">PF-Worst</text>
<path d="M1058.5 1025.4H1077.0" stroke="#00ff00" stroke-width="3.0"/>
<path d="M1062.5 1025.4H1072.5M1067.5 1020.4V1030.4" stroke="#00ff00" stroke-width="2.7" fill="none"/>
<text x="1078.3" y="1031.6" font-size="16" fill="#000">SR-Best</text>
<path d="M1058.5 1045.6H1064.5" stroke="#00ff00" stroke-width="2.0"/>
<path d="M1062.5 1045.6H1072.5M1067.5 1040.6V1050.6" stroke="#00ff00" stroke-width="2.0" fill="none"/>
<text x="1078.3" y="1051.8" font-size="16" fill="#000">SR-Worst</text>
<path d="M1058.5 1065.9H1077.0" stroke="#ff0000" stroke-width="3.2"/>
<path d="M1063.9 1062.3L1071.1 1069.5M1063.9 1069.5L1071.1 1062.3" stroke="#ff0000" stroke-width="3.0" fill="none"/>
<text x="1078.3" y="1072.1" font-size="16" fill="#000">DT-Best</text>
<path d="M1058.5 1086.2H1064.5" stroke="#ff0000" stroke-width="2.0"/>
<path d="M1064.1 1082.8L1070.9 1089.6M1064.1 1089.6L1070.9 1082.8" stroke="#ff0000" stroke-width="2.4" fill="none"/>
<text x="1078.3" y="1092.4" font-size="16" fill="#000">DT-Worst</text>
<text transform="translate(927.09,1153.09) scale(0.9560,0.9675)" font-family="'Liberation Serif', serif" font-size="44" fill="#000"><tspan>(</tspan><tspan font-weight="bold">k</tspan><tspan>)</tspan></text>
<path d="M1124.5 1192V1486M1199.5 1192V1486M1273.5 1192V1486M1050 1444.5H1348M1050 1402.5H1348M1050 1360.5H1348M1050 1317.5H1348M1050 1275.5H1348M1050 1233.5H1348" stroke="#e1e1e1" stroke-width="1" fill="none"/>
<clipPath id="clipl"><rect x="1043.6" y="1185.5" width="310.8000000000002" height="307.0"/></clipPath>
<g clip-path="url(#clipl)">
<path d="M1137.5 1239.5L1147.8 1241.8L1163.9 1256.7L1175.3 1259.0L1189.1 1257.8L1196.0 1264.7L1209.7 1273.9L1214.3 1277.3L1225.8 1292.2L1230.4 1303.7L1239.6 1310.6L1255.6 1317.5L1267.1 1324.3L1276.3 1335.8L1287.7 1342.7L1299.2 1347.3L1302.7 1367.9L1304.9 1397.7" stroke="#0000ff" stroke-width="3.0" fill="none" stroke-linejoin="round"/>
<circle cx="1137.5" cy="1239.5" r="5" fill="#0000ff"/>
<circle cx="1147.8" cy="1241.8" r="5" fill="#0000ff"/>
<circle cx="1163.9" cy="1256.7" r="5" fill="#0000ff"/>
<circle cx="1175.3" cy="1259.0" r="5" fill="#0000ff"/>
<circle cx="1189.1" cy="1257.8" r="5" fill="#0000ff"/>
<circle cx="1196.0" cy="1264.7" r="5" fill="#0000ff"/>
<circle cx="1209.7" cy="1273.9" r="5" fill="#0000ff"/>
<circle cx="1214.3" cy="1277.3" r="5" fill="#0000ff"/>
<circle cx="1225.8" cy="1292.2" r="5" fill="#0000ff"/>
<circle cx="1230.4" cy="1303.7" r="5" fill="#0000ff"/>
<circle cx="1239.6" cy="1310.6" r="5" fill="#0000ff"/>
<circle cx="1255.6" cy="1317.5" r="5" fill="#0000ff"/>
<circle cx="1267.1" cy="1324.3" r="5" fill="#0000ff"/>
<circle cx="1276.3" cy="1335.8" r="5" fill="#0000ff"/>
<circle cx="1287.7" cy="1342.7" r="5" fill="#0000ff"/>
<circle cx="1299.2" cy="1347.3" r="5" fill="#0000ff"/>
<circle cx="1302.7" cy="1367.9" r="5" fill="#0000ff"/>
<circle cx="1304.9" cy="1397.7" r="5" fill="#0000ff"/>
<path d="M1056.1 1317.5L1093.9 1318.6L1146.7 1335.8L1178.8 1338.1L1198.3 1351.9L1214.3 1365.6L1230.4 1372.5L1241.9 1376.0L1255.6 1379.4L1290.0 1386.3L1291.2 1413.8L1292.3 1442.5" stroke="#0000ff" stroke-width="2.0" fill="none" stroke-linejoin="round" stroke-dasharray="6,4"/>
<path d="M1051.3 1317.5H1060.9M1056.1 1312.7V1322.3M1052.6 1314.0L1059.6 1321.0M1052.6 1321.0L1059.6 1314.0" stroke="#0000ff" stroke-width="2.1" fill="none"/><circle cx="1056.1" cy="1317.5" r="2.6" fill="#0000ff"/>
<path d="M1089.1 1318.6H1098.7M1093.9 1313.8V1323.4M1090.4 1315.1L1097.4 1322.1M1090.4 1322.1L1097.4 1315.1" stroke="#0000ff" stroke-width="2.1" fill="none"/><circle cx="1093.9" cy="1318.6" r="2.6" fill="#0000ff"/>
<path d="M1141.9 1335.8H1151.5M1146.7 1331.0V1340.6M1143.2 1332.3L1150.2 1339.3M1143.2 1339.3L1150.2 1332.3" stroke="#0000ff" stroke-width="2.1" fill="none"/><circle cx="1146.7" cy="1335.8" r="2.6" fill="#0000ff"/>
<path d="M1174.0 1338.1H1183.6M1178.8 1333.3V1342.9M1175.3 1334.6L1182.3 1341.6M1175.3 1341.6L1182.3 1334.6" stroke="#0000ff" stroke-width="2.1" fill="none"/><circle cx="1178.8" cy="1338.1" r="2.6" fill="#0000ff"/>
<path d="M1193.5 1351.9H1203.1M1198.3 1347.1V1356.7M1194.8 1348.4L1201.8 1355.4M1194.8 1355.4L1201.8 1348.4" stroke="#0000ff" stroke-width="2.1" fill="none"/><circle cx="1198.3" cy="1351.9" r="2.6" fill="#0000ff"/>
<path d="M1209.5 1365.6H1219.1M1214.3 1360.8V1370.4M1210.8 1362.1L1217.8 1369.1M1210.8 1369.1L1217.8 1362.1" stroke="#0000ff" stroke-width="2.1" fill="none"/><circle cx="1214.3" cy="1365.6" r="2.6" fill="#0000ff"/>
<path d="M1225.6 1372.5H1235.2M1230.4 1367.7V1377.3M1226.9 1369.0L1233.9 1376.0M1226.9 1376.0L1233.9 1369.0" stroke="#0000ff" stroke-width="2.1" fill="none"/><circle cx="1230.4" cy="1372.5" r="2.6" fill="#0000ff"/>
<path d="M1237.1 1376.0H1246.7M1241.9 1371.2V1380.8M1238.4 1372.5L1245.4 1379.5M1238.4 1379.5L1245.4 1372.5" stroke="#0000ff" stroke-width="2.1" fill="none"/><circle cx="1241.9" cy="1376.0" r="2.6" fill="#0000ff"/>
<path d="M1250.8 1379.4H1260.4M1255.6 1374.6V1384.2M1252.1 1375.9L1259.1 1382.9M1252.1 1382.9L1259.1 1375.9" stroke="#0000ff" stroke-width="2.1" fill="none"/><circle cx="1255.6" cy="1379.4" r="2.6" fill="#0000ff"/>
<path d="M1285.2 1386.3H1294.8M1290.0 1381.5V1391.1M1286.5 1382.8L1293.5 1389.8M1286.5 1389.8L1293.5 1382.8" stroke="#0000ff" stroke-width="2.1" fill="none"/><circle cx="1290.0" cy="1386.3" r="2.6" fill="#0000ff"/>
<path d="M1286.4 1413.8H1296.0M1291.2 1409.0V1418.6M1287.7 1410.3L1294.7 1417.3M1287.7 1417.3L1294.7 1410.3" stroke="#0000ff" stroke-width="2.1" fill="none"/><circle cx="1291.2" cy="1413.8" r="2.6" fill="#0000ff"/>
<path d="M1287.5 1442.5H1297.1M1292.3 1437.7V1447.3M1288.8 1439.0L1295.8 1446.0M1288.8 1446.0L1295.8 1439.0" stroke="#0000ff" stroke-width="2.1" fill="none"/><circle cx="1292.3" cy="1442.5" r="2.6" fill="#0000ff"/>
<path d="M1154.7 1226.8L1173.0 1229.1L1179.9 1231.4L1193.7 1241.8L1198.3 1257.8L1207.5 1264.7L1212.0 1280.8L1221.2 1283.1L1230.4 1292.2L1241.9 1296.8L1246.5 1306.0L1260.2 1314.0L1267.1 1331.2L1283.2 1349.6L1301.5 1356.5L1303.8 1402.3" stroke="#00ff00" stroke-width="3.0" fill="none" stroke-linejoin="round"/>
<path d="M1149.7 1226.8H1159.7M1154.7 1221.8V1231.8" stroke="#00ff00" stroke-width="2.7" fill="none"/>
<path d="M1168.0 1229.1H1178.0M1173.0 1224.1V1234.1" stroke="#00ff00" stroke-width="2.7" fill="none"/>
<path d="M1174.9 1231.4H1184.9M1179.9 1226.4V1236.4" stroke="#00ff00" stroke-width="2.7" fill="none"/>
<path d="M1188.7 1241.8H1198.7M1193.7 1236.8V1246.8" stroke="#00ff00" stroke-width="2.7" fill="none"/>
<path d="M1193.3 1257.8H1203.3M1198.3 1252.8V1262.8" stroke="#00ff00" stroke-width="2.7" fill="none"/>
<path d="M1202.5 1264.7H1212.5M1207.5 1259.7V1269.7" stroke="#00ff00" stroke-width="2.7" fill="none"/>
<path d="M1207.0 1280.8H1217.0M1212.0 1275.8V1285.8" stroke="#00ff00" stroke-width="2.7" fill="none"/>
<path d="M1216.2 1283.1H1226.2M1221.2 1278.1V1288.1" stroke="#00ff00" stroke-width="2.7" fill="none"/>
<path d="M1225.4 1292.2H1235.4M1230.4 1287.2V1297.2" stroke="#00ff00" stroke-width="2.7" fill="none"/>
<path d="M1236.9 1296.8H1246.9M1241.9 1291.8V1301.8" stroke="#00ff00" stroke-width="2.7" fill="none"/>
<path d="M1241.5 1306.0H1251.5M1246.5 1301.0V1311.0" stroke="#00ff00" stroke-width="2.7" fill="none"/>
<path d="M1255.2 1314.0H1265.2M1260.2 1309.0V1319.0" stroke="#00ff00" stroke-width="2.7" fill="none"/>
<path d="M1262.1 1331.2H1272.1M1267.1 1326.2V1336.2" stroke="#00ff00" stroke-width="2.7" fill="none"/>
<path d="M1278.2 1349.6H1288.2M1283.2 1344.6V1354.6" stroke="#00ff00" stroke-width="2.7" fill="none"/>
<path d="M1296.5 1356.5H1306.5M1301.5 1351.5V1361.5" stroke="#00ff00" stroke-width="2.7" fill="none"/>
<path d="M1298.8 1402.3H1308.8M1303.8 1397.3V1407.3" stroke="#00ff00" stroke-width="2.7" fill="none"/>
<path d="M1062.9 1296.8L1151.3 1299.1L1161.6 1302.5L1173.0 1308.3L1182.2 1312.9L1197.1 1319.8L1200.6 1326.6L1205.2 1335.8L1207.5 1349.6L1214.3 1365.6L1236.1 1365.6L1246.5 1376.0L1255.6 1379.4L1264.8 1386.3L1278.6 1390.9L1285.4 1400.0L1286.6 1416.1L1291.2 1429.9L1295.8 1458.5" stroke="#00ff00" stroke-width="2.0" fill="none" stroke-linejoin="round" stroke-dasharray="6,4"/>
<path d="M1057.9 1296.8H1067.9M1062.9 1291.8V1301.8" stroke="#00ff00" stroke-width="2.0" fill="none"/>
<path d="M1146.3 1299.1H1156.3M1151.3 1294.1V1304.1" stroke="#00ff00" stroke-width="2.0" fill="none"/>
<path d="M1156.6 1302.5H1166.6M1161.6 1297.5V1307.5" stroke="#00ff00" stroke-width="2.0" fill="none"/>
<path d="M1168.0 1308.3H1178.0M1173.0 1303.3V1313.3" stroke="#00ff00" stroke-width="2.0" fill="none"/>
<path d="M1177.2 1312.9H1187.2M1182.2 1307.9V1317.9" stroke="#00ff00" stroke-width="2.0" fill="none"/>
<path d="M1192.1 1319.8H1202.1M1197.1 1314.8V1324.8" stroke="#00ff00" stroke-width="2.0" fill="none"/>
<path d="M1195.6 1326.6H1205.6M1200.6 1321.6V1331.6" stroke="#00ff00" stroke-width="2.0" fill="none"/>
<path d="M1200.2 1335.8H1210.2M1205.2 1330.8V1340.8" stroke="#00ff00" stroke-width="2.0" fill="none"/>
<path d="M1202.5 1349.6H1212.5M1207.5 1344.6V1354.6" stroke="#00ff00" stroke-width="2.0" fill="none"/>
<path d="M1209.3 1365.6H1219.3M1214.3 1360.6V1370.6" stroke="#00ff00" stroke-width="2.0" fill="none"/>
<path d="M1231.1 1365.6H1241.1M1236.1 1360.6V1370.6" stroke="#00ff00" stroke-width="2.0" fill="none"/>
<path d="M1241.5 1376.0H1251.5M1246.5 1371.0V1381.0" stroke="#00ff00" stroke-width="2.0" fill="none"/>
<path d="M1250.6 1379.4H1260.6M1255.6 1374.4V1384.4" stroke="#00ff00" stroke-width="2.0" fill="none"/>
<path d="M1259.8 1386.3H1269.8M1264.8 1381.3V1391.3" stroke="#00ff00" stroke-width="2.0" fill="none"/>
<path d="M1273.6 1390.9H1283.6M1278.6 1385.9V1395.9" stroke="#00ff00" stroke-width="2.0" fill="none"/>
<path d="M1280.4 1400.0H1290.4M1285.4 1395.0V1405.0" stroke="#00ff00" stroke-width="2.0" fill="none"/>
<path d="M1281.6 1416.1H1291.6M1286.6 1411.1V1421.1" stroke="#00ff00" stroke-width="2.0" fill="none"/>
<path d="M1286.2 1429.9H1296.2M1291.2 1424.9V1434.9" stroke="#00ff00" stroke-width="2.0" fill="none"/>
<path d="M1290.8 1458.5H1300.8M1295.8 1453.5V1463.5" stroke="#00ff00" stroke-width="2.0" fill="none"/>
<path d="M1147.8 1202.8L1147.8 1214.2L1168.5 1217.7L1173.0 1223.4L1177.6 1234.9L1186.8 1238.3L1191.4 1246.3L1196.0 1257.8L1207.5 1267.0L1212.0 1280.8L1225.8 1287.6L1230.4 1296.8L1241.9 1296.8L1246.5 1312.9L1251.0 1319.8L1260.2 1326.6L1269.4 1328.9L1276.3 1338.1L1283.2 1345.0L1287.7 1349.6L1299.2 1350.7L1303.8 1356.5L1306.1 1372.5L1306.1 1406.9" stroke="#ff0000" stroke-width="3.2" fill="none" stroke-linejoin="round"/>
<path d="M1144.2 1199.2L1151.4 1206.4M1144.2 1206.4L1151.4 1199.2" stroke="#ff0000" stroke-width="3.0" fill="none"/>
<path d="M1144.2 1210.6L1151.4 1217.8M1144.2 1217.8L1151.4 1210.6" stroke="#ff0000" stroke-width="3.0" fill="none"/>
<path d="M1164.9 1214.1L1172.1 1221.3M1164.9 1221.3L1172.1 1214.1" stroke="#ff0000" stroke-width="3.0" fill="none"/>
<path d="M1169.4 1219.8L1176.6 1227.0M1169.4 1227.0L1176.6 1219.8" stroke="#ff0000" stroke-width="3.0" fill="none"/>
<path d="M1174.0 1231.3L1181.2 1238.5M1174.0 1238.5L1181.2 1231.3" stroke="#ff0000" stroke-width="3.0" fill="none"/>
<path d="M1183.2 1234.7L1190.4 1241.9M1183.2 1241.9L1190.4 1234.7" stroke="#ff0000" stroke-width="3.0" fill="none"/>
<path d="M1187.8 1242.7L1195.0 1249.9M1187.8 1249.9L1195.0 1242.7" stroke="#ff0000" stroke-width="3.0" fill="none"/>
<path d="M1192.4 1254.2L1199.6 1261.4M1192.4 1261.4L1199.6 1254.2" stroke="#ff0000" stroke-width="3.0" fill="none"/>
<path d="M1203.9 1263.4L1211.1 1270.6M1203.9 1270.6L1211.1 1263.4" stroke="#ff0000" stroke-width="3.0" fill="none"/>
<path d="M1208.4 1277.2L1215.6 1284.4M1208.4 1284.4L1215.6 1277.2" stroke="#ff0000" stroke-width="3.0" fill="none"/>
<path d="M1222.2 1284.0L1229.4 1291.2M1222.2 1291.2L1229.4 1284.0" stroke="#ff0000" stroke-width="3.0" fill="none"/>
<path d="M1226.8 1293.2L1234.0 1300.4M1226.8 1300.4L1234.0 1293.2" stroke="#ff0000" stroke-width="3.0" fill="none"/>
<path d="M1238.3 1293.2L1245.5 1300.4M1238.3 1300.4L1245.5 1293.2" stroke="#ff0000" stroke-width="3.0" fill="none"/>
<path d="M1242.9 1309.3L1250.1 1316.5M1242.9 1316.5L1250.1 1309.3" stroke="#ff0000" stroke-width="3.0" fill="none"/>
<path d="M1247.4 1316.2L1254.6 1323.4M1247.4 1323.4L1254.6 1316.2" stroke="#ff0000" stroke-width="3.0" fill="none"/>
<path d="M1256.6 1323.0L1263.8 1330.2M1256.6 1330.2L1263.8 1323.0" stroke="#ff0000" stroke-width="3.0" fill="none"/>
<path d="M1265.8 1325.3L1273.0 1332.5M1265.8 1332.5L1273.0 1325.3" stroke="#ff0000" stroke-width="3.0" fill="none"/>
<path d="M1272.7 1334.5L1279.9 1341.7M1272.7 1341.7L1279.9 1334.5" stroke="#ff0000" stroke-width="3.0" fill="none"/>
<path d="M1279.6 1341.4L1286.8 1348.6M1279.6 1348.6L1286.8 1341.4" stroke="#ff0000" stroke-width="3.0" fill="none"/>
<path d="M1284.1 1346.0L1291.3 1353.2M1284.1 1353.2L1291.3 1346.0" stroke="#ff0000" stroke-width="3.0" fill="none"/>
<path d="M1295.6 1347.1L1302.8 1354.3M1295.6 1354.3L1302.8 1347.1" stroke="#ff0000" stroke-width="3.0" fill="none"/>
<path d="M1300.2 1352.9L1307.4 1360.1M1300.2 1360.1L1307.4 1352.9" stroke="#ff0000" stroke-width="3.0" fill="none"/>
<path d="M1302.5 1368.9L1309.7 1376.1M1302.5 1376.1L1309.7 1368.9" stroke="#ff0000" stroke-width="3.0" fill="none"/>
<path d="M1302.5 1403.3L1309.7 1410.5M1302.5 1410.5L1309.7 1403.3" stroke="#ff0000" stroke-width="3.0" fill="none"/>
<path d="M1108.8 1242.9L1132.9 1250.9L1146.7 1250.9L1163.9 1253.2L1179.9 1267.0L1193.7 1283.1L1196.0 1289.9L1205.2 1295.7L1216.6 1301.4L1216.6 1308.3L1228.1 1308.3L1229.2 1318.6L1237.3 1328.9L1246.5 1333.5L1255.6 1340.4L1264.8 1347.3L1274.0 1356.5L1285.4 1361.0L1296.9 1370.2L1299.2 1393.2L1301.5 1432.2L1304.9 1440.2" stroke="#ff0000" stroke-width="2.0" fill="none" stroke-linejoin="round" stroke-dasharray="6,4"/>
<path d="M1105.4 1239.5L1112.2 1246.3M1105.4 1246.3L1112.2 1239.5" stroke="#ff0000" stroke-width="2.4" fill="none"/>
<path d="M1129.5 1247.5L1136.3 1254.3M1129.5 1254.3L1136.3 1247.5" stroke="#ff0000" stroke-width="2.4" fill="none"/>
<path d="M1143.3 1247.5L1150.1 1254.3M1143.3 1254.3L1150.1 1247.5" stroke="#ff0000" stroke-width="2.4" fill="none"/>
<path d="M1160.5 1249.8L1167.3 1256.6M1160.5 1256.6L1167.3 1249.8" stroke="#ff0000" stroke-width="2.4" fill="none"/>
<path d="M1176.5 1263.6L1183.3 1270.4M1176.5 1270.4L1183.3 1263.6" stroke="#ff0000" stroke-width="2.4" fill="none"/>
<path d="M1190.3 1279.7L1197.1 1286.5M1190.3 1286.5L1197.1 1279.7" stroke="#ff0000" stroke-width="2.4" fill="none"/>
<path d="M1192.6 1286.5L1199.4 1293.3M1192.6 1293.3L1199.4 1286.5" stroke="#ff0000" stroke-width="2.4" fill="none"/>
<path d="M1201.8 1292.3L1208.6 1299.1M1201.8 1299.1L1208.6 1292.3" stroke="#ff0000" stroke-width="2.4" fill="none"/>
<path d="M1213.2 1298.0L1220.0 1304.8M1213.2 1304.8L1220.0 1298.0" stroke="#ff0000" stroke-width="2.4" fill="none"/>
<path d="M1213.2 1304.9L1220.0 1311.7M1213.2 1311.7L1220.0 1304.9" stroke="#ff0000" stroke-width="2.4" fill="none"/>
<path d="M1224.7 1304.9L1231.5 1311.7M1224.7 1311.7L1231.5 1304.9" stroke="#ff0000" stroke-width="2.4" fill="none"/>
<path d="M1225.8 1315.2L1232.6 1322.0M1225.8 1322.0L1232.6 1315.2" stroke="#ff0000" stroke-width="2.4" fill="none"/>
<path d="M1233.9 1325.5L1240.7 1332.3M1233.9 1332.3L1240.7 1325.5" stroke="#ff0000" stroke-width="2.4" fill="none"/>
<path d="M1243.1 1330.1L1249.9 1336.9M1243.1 1336.9L1249.9 1330.1" stroke="#ff0000" stroke-width="2.4" fill="none"/>
<path d="M1252.2 1337.0L1259.0 1343.8M1252.2 1343.8L1259.0 1337.0" stroke="#ff0000" stroke-width="2.4" fill="none"/>
<path d="M1261.4 1343.9L1268.2 1350.7M1261.4 1350.7L1268.2 1343.9" stroke="#ff0000" stroke-width="2.4" fill="none"/>
<path d="M1270.6 1353.1L1277.4 1359.9M1270.6 1359.9L1277.4 1353.1" stroke="#ff0000" stroke-width="2.4" fill="none"/>
<path d="M1282.0 1357.6L1288.8 1364.4M1282.0 1364.4L1288.8 1357.6" stroke="#ff0000" stroke-width="2.4" fill="none"/>
<path d="M1293.5 1366.8L1300.3 1373.6M1293.5 1373.6L1300.3 1366.8" stroke="#ff0000" stroke-width="2.4" fill="none"/>
<path d="M1295.8 1389.8L1302.6 1396.6M1295.8 1396.6L1302.6 1389.8" stroke="#ff0000" stroke-width="2.4" fill="none"/>
<path d="M1298.1 1428.8L1304.9 1435.6M1298.1 1435.6L1304.9 1428.8" stroke="#ff0000" stroke-width="2.4" fill="none"/>
<path d="M1301.5 1436.8L1308.3 1443.6M1301.5 1443.6L1308.3 1436.8" stroke="#ff0000" stroke-width="2.4" fill="none"/>
</g>
<path d="M1049.5 1486V1482M1049.5 1192V1196M1124.5 1486V1482M1124.5 1192V1196M1199.5 1486V1482M1199.5 1192V1196M1273.5 1486V1482M1273.5 1192V1196M1348.5 1486V1482M1348.5 1192V1196M1050 1486.5H1054M1348 1486.5H1344M1050 1444.5H1054M1348 1444.5H1344M1050 1402.5H1054M1348 1402.5H1344M1050 1360.5H1054M1348 1360.5H1344M1050 1317.5H1054M1348 1317.5H1344M1050 1275.5H1054M1348 1275.5H1344M1050 1233.5H1054M1348 1233.5H1344M1050 1191.5H1054M1348 1191.5H1344" stroke="#262626" stroke-width="1" fill="none"/>
<rect x="1049.5" y="1191.5" width="299" height="295" stroke="#262626" stroke-width="1" fill="none"/>
<text x="1049.6" y="1510.0" text-anchor="middle" font-size="18" fill="#1a1a1a">0.3</text>
<text x="1124.3" y="1510.0" text-anchor="middle" font-size="18" fill="#1a1a1a">0.4</text>
<text x="1199.0" y="1510.0" text-anchor="middle" font-size="18" fill="#1a1a1a">0.5</text>
<text x="1273.7" y="1510.0" text-anchor="middle" font-size="18" fill="#1a1a1a">0.6</text>
<text x="1348.4" y="1510.0" text-anchor="middle" font-size="18" fill="#1a1a1a">0.7</text>
<text x="1044.6" y="1492.9" text-anchor="end" font-size="18" fill="#1a1a1a">1</text>
<text x="1044.6" y="1450.8" text-anchor="end" font-size="18" fill="#1a1a1a">1.2</text>
<text x="1044.6" y="1408.6" text-anchor="end" font-size="18" fill="#1a1a1a">1.4</text>
<text x="1044.6" y="1366.5" text-anchor="end" font-size="18" fill="#1a1a1a">1.6</text>
<text x="1044.6" y="1324.3" text-anchor="end" font-size="18" fill="#1a1a1a">1.8</text>
<text x="1044.6" y="1282.2" text-anchor="end" font-size="18" fill="#1a1a1a">2</text>
<text x="1044.6" y="1240.0" text-anchor="end" font-size="18" fill="#1a1a1a">2.2</text>
<text x="1044.6" y="1197.9" text-anchor="end" font-size="18" fill="#1a1a1a">2.4</text>
<text x="1199.0" y="1533.9" text-anchor="middle" font-size="19.6" fill="#1a1a1a">Effective Cover Rate (ECR)</text>
<text transform="translate(1013.6,1339.0) rotate(-90)" text-anchor="middle" font-size="19.7" fill="#1a1a1a">Minimum Pr(W/m<tspan font-size="15" dy="-9.5">2</tspan><tspan dy="9.5">)</tspan></text>
<rect x="1053.5" y="1359.5" width="93" height="122" fill="#fff" stroke="#262626" stroke-width="1"/>
<path d="M1055.3 1369.8H1073.8" stroke="#0000ff" stroke-width="3.0"/>
<circle cx="1064.3" cy="1369.8" r="5" fill="#0000ff"/>
<text x="1075.1" y="1376.0" font-size="16" fill="#000">PF-Best</text>
<path d="M1055.3 1390.1H1061.3" stroke="#0000ff" stroke-width="2.0"/>
<path d="M1059.5 1390.1H1069.1M1064.3 1385.3V1394.9M1060.8 1386.6L1067.8 1393.6M1060.8 1393.6L1067.8 1386.6" stroke="#0000ff" stroke-width="2.1" fill="none"/><circle cx="1064.3" cy="1390.1" r="2.6" fill="#0000ff"/>
<text x="1075.1" y="1396.3" font-size="16" fill="#000">PF-Worst</text>
<path d="M1055.3 1410.4H1073.8" stroke="#00ff00" stroke-width="3.0"/>
<path d="M1059.3 1410.4H1069.3M1064.3 1405.4V1415.4" stroke="#00ff00" stroke-width="2.7" fill="none"/>
<text x="1075.1" y="1416.6" font-size="16" fill="#000">SR-Best</text>
<path d="M1055.3 1430.6H1061.3" stroke="#00ff00" stroke-width="2.0"/>
<path d="M1059.3 1430.6H1069.3M1064.3 1425.6V1435.6" stroke="#00ff00" stroke-width="2.0" fill="none"/>
<text x="1075.1" y="1436.8" font-size="16" fill="#000">SR-Worst</text>
<path d="M1055.3 1450.9H1073.8" stroke="#ff0000" stroke-width="3.2"/>
<path d="M1060.7 1447.3L1067.9 1454.5M1060.7 1454.5L1067.9 1447.3" stroke="#ff0000" stroke-width="3.0" fill="none"/>
<text x="1075.1" y="1457.1" font-size="16" fill="#000">DT-Best</text>
<path d="M1055.3 1471.2H1061.3" stroke="#ff0000" stroke-width="2.0"/>
<path d="M1060.9 1467.8L1067.7 1474.6M1060.9 1474.6L1067.7 1467.8" stroke="#ff0000" stroke-width="2.4" fill="none"/>
<text x="1075.1" y="1477.4" font-size="16" fill="#000">DT-Worst</text>
<text transform="translate(937.26,1539.05) scale(0.9184,0.9725)" font-family="'Liberation Serif', serif" font-size="44" fill="#000"><tspan>(</tspan><tspan font-weight="bold">l</tspan><tspan>)</tspan></text>
</svg></body></html>
